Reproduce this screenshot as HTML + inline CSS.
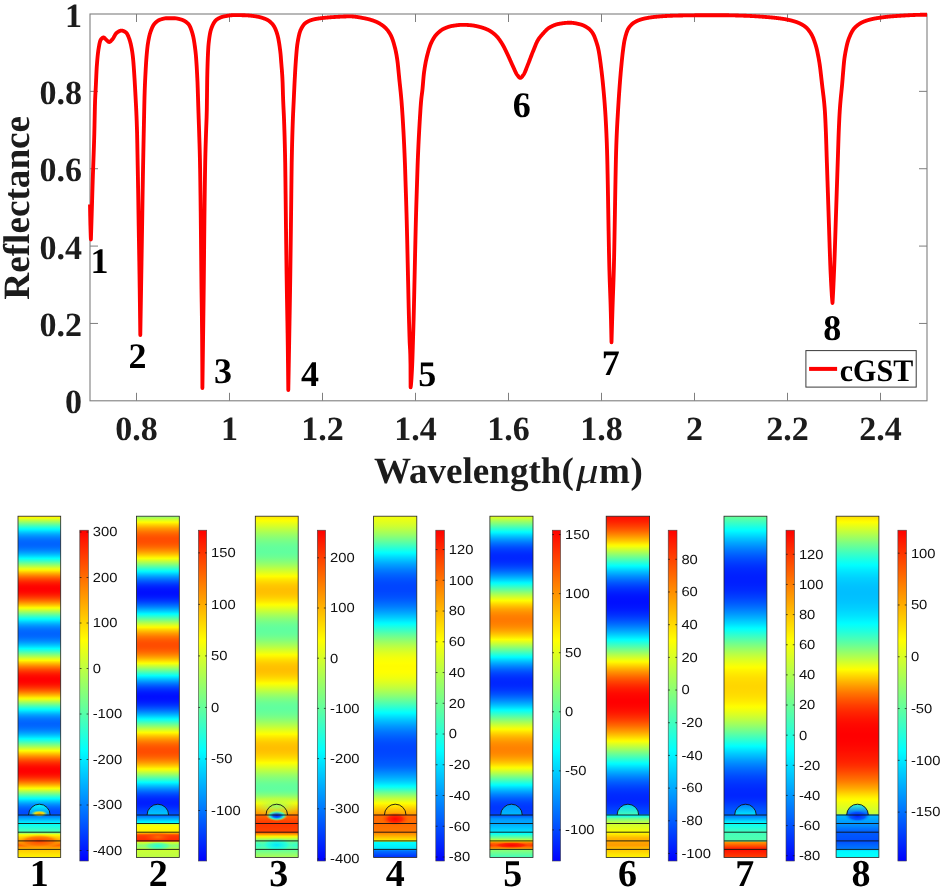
<!DOCTYPE html>
<html><head><meta charset="utf-8"><title>Reflectance and field maps</title>
<style>html,body{margin:0;padding:0;background:#fff}svg{display:block;will-change:transform}text{text-rendering:geometricPrecision}.tk{font:bold 34px "Liberation Serif", serif;fill:#1c1c1c}.al{font:bold 37.2px "Liberation Serif", serif;fill:#1c1c1c}.xl{font:bold 37.1px "Liberation Serif", serif;fill:#1c1c1c}.mu{font-style:italic;font-weight:normal}.an{font:bold 36px "Liberation Serif", serif;fill:#000}.lg{font:bold 30px "Liberation Serif", serif;fill:#000}.pl{font:bold 38px "Liberation Serif", serif;fill:#000}.cb{font:13.2px "Liberation Sans", sans-serif;fill:#111}</style></head><body>
<svg width="943" height="890" viewBox="0 0 943 890">
<rect width="943" height="890" fill="#fff"/>
<rect x="90.0" y="14.0" width="837.0" height="386.8" fill="none" stroke="#7f7f7f" stroke-width="1.1"/>
<path d="M136.50 400.8v-8M136.50 14.0v8" stroke="#7f7f7f" stroke-width="1" fill="none"/>
<text x="136.50" y="440" text-anchor="middle" class="tk">0.8</text>
<path d="M229.50 400.8v-8M229.50 14.0v8" stroke="#7f7f7f" stroke-width="1" fill="none"/>
<text x="229.50" y="440" text-anchor="middle" class="tk">1</text>
<path d="M322.50 400.8v-8M322.50 14.0v8" stroke="#7f7f7f" stroke-width="1" fill="none"/>
<text x="322.50" y="440" text-anchor="middle" class="tk">1.2</text>
<path d="M415.50 400.8v-8M415.50 14.0v8" stroke="#7f7f7f" stroke-width="1" fill="none"/>
<text x="415.50" y="440" text-anchor="middle" class="tk">1.4</text>
<path d="M508.50 400.8v-8M508.50 14.0v8" stroke="#7f7f7f" stroke-width="1" fill="none"/>
<text x="508.50" y="440" text-anchor="middle" class="tk">1.6</text>
<path d="M601.50 400.8v-8M601.50 14.0v8" stroke="#7f7f7f" stroke-width="1" fill="none"/>
<text x="601.50" y="440" text-anchor="middle" class="tk">1.8</text>
<path d="M694.50 400.8v-8M694.50 14.0v8" stroke="#7f7f7f" stroke-width="1" fill="none"/>
<text x="694.50" y="440" text-anchor="middle" class="tk">2</text>
<path d="M787.50 400.8v-8M787.50 14.0v8" stroke="#7f7f7f" stroke-width="1" fill="none"/>
<text x="787.50" y="440" text-anchor="middle" class="tk">2.2</text>
<path d="M880.50 400.8v-8M880.50 14.0v8" stroke="#7f7f7f" stroke-width="1" fill="none"/>
<text x="880.50" y="440" text-anchor="middle" class="tk">2.4</text>
<text x="81.9" y="413.30" text-anchor="end" class="tk">0</text>
<path d="M90.0 323.44h8M927.0 323.44h-8" stroke="#7f7f7f" stroke-width="1" fill="none"/>
<text x="81.9" y="335.94" text-anchor="end" class="tk">0.2</text>
<path d="M90.0 246.08h8M927.0 246.08h-8" stroke="#7f7f7f" stroke-width="1" fill="none"/>
<text x="81.9" y="258.58" text-anchor="end" class="tk">0.4</text>
<path d="M90.0 168.72h8M927.0 168.72h-8" stroke="#7f7f7f" stroke-width="1" fill="none"/>
<text x="81.9" y="181.22" text-anchor="end" class="tk">0.6</text>
<path d="M90.0 91.36h8M927.0 91.36h-8" stroke="#7f7f7f" stroke-width="1" fill="none"/>
<text x="81.9" y="103.86" text-anchor="end" class="tk">0.8</text>
<text x="81.9" y="26.50" text-anchor="end" class="tk">1</text>
<text transform="translate(29.4 207.8) rotate(-90)" text-anchor="middle" class="al">Reflectance</text>
<text x="573.8" y="482.7" text-anchor="end" class="xl">Wavelength(</text>
<text transform="translate(576.0 482.7) scale(1.22 1)" class="xl mu">μ</text>
<text x="599.0" y="482.7" class="xl" letter-spacing="0.6">m)</text>
<path d="M90.00 204.50 L90.20 215.94 L90.40 225.00 L90.60 232.00 L90.80 237.53 L90.90 239.50 L91.10 233.23 L91.30 226.89 L91.50 220.48 L91.70 214.00 L91.90 207.36 L92.10 200.57 L92.30 193.80 L92.50 187.19 L92.70 180.91 L92.90 175.03 L93.10 169.42 L93.30 163.96 L93.50 158.50 L93.70 152.91 L93.90 147.05 L94.10 140.79 L94.30 134.00 L94.50 125.65 L94.70 116.01 L94.90 106.86 L95.10 100.00 L95.30 95.66 L95.50 92.23 L95.70 88.70 L95.90 84.53 L96.10 80.04 L96.30 75.54 L96.50 71.32 L96.70 67.70 L96.90 64.85 L97.10 62.28 L97.30 59.89 L97.50 57.68 L97.70 55.64 L97.90 53.79 L98.10 52.11 L98.30 50.62 L98.50 49.30 L98.70 48.09 L98.90 46.92 L99.10 45.79 L99.30 44.72 L99.50 43.73 L99.70 42.81 L99.90 41.98 L100.10 41.26 L100.30 40.64 L100.50 40.15 L100.70 39.80 L100.90 39.52 L101.10 39.26 L101.30 39.00 L101.50 38.76 L101.70 38.54 L101.90 38.34 L102.10 38.15 L102.30 37.99 L102.50 37.84 L102.70 37.72 L102.90 37.63 L103.10 37.56 L103.30 37.51 L103.50 37.50 L103.70 37.52 L103.90 37.59 L104.10 37.69 L104.30 37.83 L104.50 37.99 L104.70 38.17 L104.90 38.37 L105.10 38.59 L105.30 38.80 L105.50 39.02 L105.70 39.24 L105.90 39.44 L106.10 39.63 L106.30 39.80 L106.50 39.97 L106.70 40.15 L106.90 40.34 L107.10 40.54 L107.30 40.74 L107.50 40.94 L107.70 41.14 L107.90 41.32 L108.10 41.49 L108.30 41.65 L108.50 41.78 L108.70 41.88 L108.90 41.96 L109.10 41.99 L109.30 42.00 L109.50 41.96 L109.70 41.90 L109.90 41.80 L110.10 41.68 L110.30 41.54 L110.50 41.38 L110.70 41.19 L110.90 41.00 L111.10 40.79 L111.30 40.57 L111.50 40.34 L111.70 40.11 L111.90 39.88 L112.10 39.65 L112.30 39.42 L112.50 39.20 L112.70 38.97 L112.90 38.70 L113.10 38.41 L113.30 38.09 L113.50 37.76 L113.70 37.41 L113.90 37.05 L114.10 36.68 L114.30 36.30 L114.50 35.93 L114.70 35.56 L114.90 35.20 L115.10 34.84 L115.30 34.50 L115.50 34.19 L115.70 33.89 L115.90 33.62 L116.10 33.38 L116.30 33.17 L116.50 33.00 L116.70 32.85 L116.90 32.70 L117.10 32.56 L117.30 32.41 L117.50 32.27 L117.70 32.13 L117.90 32.00 L118.10 31.87 L118.30 31.74 L118.50 31.62 L118.70 31.50 L118.90 31.39 L119.10 31.28 L119.30 31.18 L119.50 31.09 L119.70 31.00 L119.90 30.92 L120.10 30.85 L120.30 30.78 L120.50 30.73 L120.70 30.68 L120.90 30.65 L121.10 30.62 L121.30 30.61 L121.50 30.60 L121.70 30.60 L121.90 30.62 L122.10 30.64 L122.30 30.67 L122.50 30.72 L122.70 30.77 L122.90 30.82 L123.10 30.89 L123.30 30.96 L123.50 31.04 L123.70 31.12 L123.90 31.22 L124.10 31.32 L124.30 31.42 L124.50 31.53 L124.70 31.64 L124.90 31.76 L125.10 31.89 L125.30 32.02 L125.50 32.15 L125.70 32.29 L125.90 32.43 L126.10 32.58 L126.30 32.76 L126.50 32.98 L126.70 33.24 L126.90 33.52 L127.10 33.85 L127.30 34.20 L127.50 34.58 L127.70 34.98 L127.90 35.41 L128.10 35.86 L128.30 36.33 L128.50 36.82 L128.70 37.33 L128.90 37.85 L129.10 38.38 L129.30 38.92 L129.50 39.48 L129.70 40.08 L129.90 40.73 L130.10 41.42 L130.30 42.17 L130.50 42.96 L130.70 43.80 L130.90 44.68 L131.10 45.61 L131.30 46.60 L131.50 47.62 L131.70 48.70 L131.90 49.82 L132.10 51.00 L132.30 52.24 L132.50 53.66 L132.70 55.27 L132.90 57.05 L133.10 58.98 L133.30 61.08 L133.50 63.48 L133.70 66.13 L133.90 68.98 L134.10 71.96 L134.30 75.00 L134.50 78.12 L134.70 81.38 L134.90 84.80 L135.10 88.36 L135.30 92.08 L135.50 95.92 L135.70 99.66 L135.90 103.39 L136.10 107.26 L136.30 111.40 L136.50 115.95 L136.70 121.04 L136.90 126.82 L137.10 133.77 L137.30 143.50 L137.50 154.56 L137.70 165.34 L137.90 176.38 L138.10 188.00 L138.30 200.56 L138.50 213.62 L138.70 226.16 L138.90 238.06 L139.10 249.75 L139.30 261.69 L139.50 274.30 L139.70 288.01 L139.90 302.82 L140.10 318.54 L140.30 335.00 L140.50 323.07 L140.70 311.11 L140.90 299.10 L141.10 287.04 L141.30 274.96 L141.50 262.88 L141.70 250.77 L141.90 238.57 L142.10 226.24 L142.30 213.62 L142.50 200.56 L142.70 188.00 L142.90 176.38 L143.10 165.34 L143.30 154.76 L143.50 144.59 L143.70 134.78 L143.90 125.16 L144.10 115.23 L144.30 105.70 L144.50 97.41 L144.70 91.02 L144.90 85.72 L145.10 81.12 L145.30 76.97 L145.50 73.06 L145.70 69.33 L145.90 65.82 L146.10 62.57 L146.30 59.61 L146.50 57.00 L146.70 54.63 L146.90 52.40 L147.10 50.31 L147.30 48.38 L147.50 46.63 L147.70 45.06 L147.90 43.70 L148.10 42.47 L148.30 41.30 L148.50 40.18 L148.70 39.12 L148.90 38.12 L149.10 37.17 L149.30 36.27 L149.50 35.42 L149.70 34.61 L149.90 33.86 L150.10 33.15 L150.30 32.49 L150.50 31.88 L150.70 31.30 L150.90 30.75 L151.10 30.22 L151.30 29.71 L151.50 29.20 L151.70 28.72 L151.90 28.25 L152.10 27.80 L152.30 27.36 L152.50 26.94 L152.70 26.54 L152.90 26.16 L153.10 25.79 L153.30 25.44 L153.50 25.11 L153.70 24.79 L153.90 24.50 L154.10 24.22 L154.30 23.96 L154.50 23.72 L154.70 23.50 L154.90 23.29 L155.10 23.09 L155.30 22.89 L155.50 22.70 L155.70 22.51 L155.90 22.32 L156.10 22.15 L156.30 21.97 L156.50 21.80 L156.70 21.64 L156.90 21.48 L157.10 21.33 L157.30 21.18 L157.50 21.04 L157.70 20.90 L157.90 20.77 L158.10 20.64 L158.30 20.52 L158.50 20.41 L158.70 20.30 L158.90 20.19 L159.10 20.09 L159.30 19.99 L159.50 19.90 L159.70 19.82 L159.90 19.74 L160.10 19.67 L160.30 19.60 L160.50 19.53 L160.70 19.47 L160.90 19.41 L161.10 19.34 L161.30 19.28 L161.50 19.22 L161.70 19.16 L161.90 19.10 L162.10 19.04 L162.30 18.98 L162.50 18.92 L162.70 18.87 L162.90 18.81 L163.10 18.76 L163.30 18.71 L163.50 18.66 L163.70 18.61 L163.90 18.57 L164.10 18.53 L164.30 18.49 L164.50 18.45 L164.70 18.41 L164.90 18.38 L165.10 18.35 L165.30 18.32 L165.50 18.29 L165.70 18.27 L165.90 18.25 L166.10 18.23 L166.30 18.22 L166.50 18.21 L166.70 18.20 L166.90 18.20 L167.10 18.20 L167.30 18.20 L167.50 18.20 L167.70 18.20 L167.90 18.20 L168.10 18.20 L168.30 18.20 L168.50 18.20 L168.70 18.20 L168.90 18.20 L169.10 18.20 L169.30 18.20 L169.50 18.20 L169.70 18.20 L169.90 18.20 L170.10 18.20 L170.30 18.20 L170.50 18.20 L170.70 18.20 L170.90 18.20 L171.10 18.20 L171.30 18.20 L171.50 18.20 L171.70 18.20 L171.90 18.20 L172.10 18.20 L172.30 18.20 L172.50 18.20 L172.70 18.20 L172.90 18.20 L173.10 18.20 L173.30 18.20 L173.50 18.20 L173.70 18.20 L173.90 18.20 L174.10 18.20 L174.30 18.21 L174.50 18.22 L174.70 18.23 L174.90 18.24 L175.10 18.26 L175.30 18.28 L175.50 18.30 L175.70 18.32 L175.90 18.35 L176.10 18.37 L176.30 18.40 L176.50 18.44 L176.70 18.47 L176.90 18.50 L177.10 18.54 L177.30 18.58 L177.50 18.62 L177.70 18.66 L177.90 18.71 L178.10 18.75 L178.30 18.80 L178.50 18.84 L178.70 18.89 L178.90 18.94 L179.10 18.99 L179.30 19.04 L179.50 19.09 L179.70 19.15 L179.90 19.20 L180.10 19.25 L180.30 19.31 L180.50 19.36 L180.70 19.42 L180.90 19.47 L181.10 19.53 L181.30 19.59 L181.50 19.65 L181.70 19.71 L181.90 19.78 L182.10 19.85 L182.30 19.92 L182.50 20.00 L182.70 20.08 L182.90 20.16 L183.10 20.24 L183.30 20.33 L183.50 20.43 L183.70 20.52 L183.90 20.62 L184.10 20.73 L184.30 20.83 L184.50 20.95 L184.70 21.06 L184.90 21.18 L185.10 21.30 L185.30 21.43 L185.50 21.56 L185.70 21.70 L185.90 21.84 L186.10 21.99 L186.30 22.14 L186.50 22.29 L186.70 22.45 L186.90 22.61 L187.10 22.78 L187.30 22.96 L187.50 23.13 L187.70 23.32 L187.90 23.51 L188.10 23.70 L188.30 23.90 L188.50 24.13 L188.70 24.38 L188.90 24.66 L189.10 24.97 L189.30 25.30 L189.50 25.65 L189.70 26.03 L189.90 26.44 L190.10 26.86 L190.30 27.31 L190.50 27.79 L190.70 28.28 L190.90 28.80 L191.10 29.33 L191.30 29.89 L191.50 30.47 L191.70 31.07 L191.90 31.68 L192.10 32.32 L192.30 32.97 L192.50 33.64 L192.70 34.37 L192.90 35.15 L193.10 36.00 L193.30 36.91 L193.50 37.88 L193.70 38.92 L193.90 40.03 L194.10 41.20 L194.30 42.45 L194.50 43.77 L194.70 45.16 L194.90 46.63 L195.10 48.18 L195.30 49.81 L195.50 51.51 L195.70 53.34 L195.90 55.44 L196.10 57.84 L196.30 60.53 L196.50 63.50 L196.70 66.74 L196.90 70.23 L197.10 73.97 L197.30 77.93 L197.50 82.27 L197.70 87.67 L197.90 93.87 L198.10 100.43 L198.30 106.92 L198.50 112.98 L198.70 118.85 L198.90 124.74 L199.10 130.83 L199.30 137.15 L199.50 143.34 L199.70 149.98 L199.90 157.78 L200.10 167.96 L200.30 181.01 L200.50 195.28 L200.70 211.32 L200.90 229.45 L201.10 250.48 L201.30 271.53 L201.50 289.17 L201.70 302.75 L201.90 316.32 L202.10 334.30 L202.30 366.05 L202.40 388.00 L202.60 373.54 L202.80 358.81 L203.00 343.80 L203.20 328.70 L203.40 313.63 L203.60 297.96 L203.80 281.00 L204.00 261.21 L204.20 239.75 L204.40 220.00 L204.60 203.07 L204.80 188.00 L205.00 174.24 L205.20 162.42 L205.40 153.69 L205.60 146.56 L205.80 140.24 L206.00 134.00 L206.20 128.27 L206.40 123.17 L206.60 117.48 L206.80 110.00 L207.00 95.84 L207.20 79.10 L207.40 69.96 L207.60 63.40 L207.80 57.80 L208.00 53.09 L208.20 49.23 L208.40 46.18 L208.60 43.90 L208.80 42.05 L209.00 40.35 L209.20 38.78 L209.40 37.33 L209.60 36.01 L209.80 34.79 L210.00 33.69 L210.20 32.67 L210.40 31.75 L210.60 30.92 L210.80 30.16 L211.00 29.47 L211.20 28.84 L211.40 28.27 L211.60 27.74 L211.80 27.23 L212.00 26.74 L212.20 26.27 L212.40 25.81 L212.60 25.37 L212.80 24.94 L213.00 24.53 L213.20 24.14 L213.40 23.76 L213.60 23.39 L213.80 23.04 L214.00 22.71 L214.20 22.39 L214.40 22.08 L214.60 21.79 L214.80 21.52 L215.00 21.26 L215.20 21.01 L215.40 20.77 L215.60 20.55 L215.80 20.34 L216.00 20.15 L216.20 19.97 L216.40 19.80 L216.60 19.64 L216.80 19.50 L217.00 19.36 L217.20 19.23 L217.40 19.10 L217.60 18.98 L217.80 18.85 L218.00 18.74 L218.20 18.62 L218.40 18.51 L218.60 18.40 L218.80 18.29 L219.00 18.19 L219.20 18.08 L219.40 17.99 L219.60 17.89 L219.80 17.80 L220.00 17.71 L220.20 17.62 L220.40 17.54 L220.60 17.46 L220.80 17.38 L221.00 17.30 L221.20 17.23 L221.40 17.16 L221.60 17.09 L221.80 17.02 L222.00 16.96 L222.20 16.89 L222.40 16.84 L222.60 16.78 L222.80 16.72 L223.00 16.67 L223.20 16.62 L223.40 16.57 L223.60 16.53 L223.80 16.48 L224.00 16.44 L224.20 16.40 L224.40 16.36 L224.60 16.32 L224.80 16.28 L225.00 16.24 L225.20 16.21 L225.40 16.17 L225.60 16.13 L225.80 16.09 L226.00 16.06 L226.20 16.02 L226.40 15.98 L226.60 15.95 L226.80 15.91 L227.00 15.88 L227.20 15.84 L227.40 15.81 L227.60 15.78 L227.80 15.74 L228.00 15.71 L228.20 15.68 L228.40 15.65 L228.60 15.62 L228.80 15.59 L229.00 15.56 L229.20 15.53 L229.40 15.50 L229.60 15.48 L229.80 15.45 L230.00 15.43 L230.20 15.40 L230.40 15.38 L230.60 15.35 L230.80 15.33 L231.00 15.31 L231.20 15.29 L231.40 15.27 L231.60 15.25 L231.80 15.23 L232.00 15.22 L232.20 15.20 L232.40 15.19 L232.60 15.17 L232.80 15.16 L233.00 15.15 L233.20 15.14 L233.40 15.13 L233.60 15.12 L233.80 15.12 L234.00 15.11 L234.20 15.11 L234.40 15.10 L234.60 15.10 L234.80 15.10 L235.00 15.10 L235.20 15.10 L235.40 15.10 L235.60 15.10 L235.80 15.10 L236.00 15.10 L236.20 15.10 L236.40 15.11 L236.60 15.11 L236.80 15.11 L237.00 15.11 L237.20 15.11 L237.40 15.11 L237.60 15.12 L237.80 15.12 L238.00 15.12 L238.20 15.12 L238.40 15.13 L238.60 15.13 L238.80 15.13 L239.00 15.14 L239.20 15.14 L239.40 15.14 L239.60 15.15 L239.80 15.15 L240.00 15.16 L240.20 15.16 L240.40 15.16 L240.60 15.17 L240.80 15.17 L241.00 15.18 L241.20 15.18 L241.40 15.19 L241.60 15.19 L241.80 15.20 L242.00 15.20 L242.20 15.21 L242.40 15.21 L242.60 15.22 L242.80 15.22 L243.00 15.23 L243.20 15.23 L243.40 15.24 L243.60 15.25 L243.80 15.25 L244.00 15.26 L244.20 15.26 L244.40 15.27 L244.60 15.27 L244.80 15.28 L245.00 15.29 L245.20 15.29 L245.40 15.30 L245.60 15.31 L245.80 15.31 L246.00 15.32 L246.20 15.33 L246.40 15.34 L246.60 15.35 L246.80 15.36 L247.00 15.37 L247.20 15.39 L247.40 15.40 L247.60 15.41 L247.80 15.43 L248.00 15.44 L248.20 15.45 L248.40 15.47 L248.60 15.49 L248.80 15.50 L249.00 15.52 L249.20 15.54 L249.40 15.56 L249.60 15.58 L249.80 15.60 L250.00 15.62 L250.20 15.64 L250.40 15.66 L250.60 15.68 L250.80 15.70 L251.00 15.72 L251.20 15.75 L251.40 15.77 L251.60 15.79 L251.80 15.82 L252.00 15.84 L252.20 15.87 L252.40 15.89 L252.60 15.92 L252.80 15.94 L253.00 15.97 L253.20 16.00 L253.40 16.02 L253.60 16.05 L253.80 16.08 L254.00 16.11 L254.20 16.13 L254.40 16.16 L254.60 16.19 L254.80 16.22 L255.00 16.25 L255.20 16.28 L255.40 16.31 L255.60 16.34 L255.80 16.37 L256.00 16.40 L256.20 16.43 L256.40 16.46 L256.60 16.50 L256.80 16.53 L257.00 16.56 L257.20 16.60 L257.40 16.64 L257.60 16.67 L257.80 16.71 L258.00 16.75 L258.20 16.79 L258.40 16.84 L258.60 16.88 L258.80 16.92 L259.00 16.97 L259.20 17.01 L259.40 17.06 L259.60 17.11 L259.80 17.16 L260.00 17.21 L260.20 17.26 L260.40 17.31 L260.60 17.36 L260.80 17.42 L261.00 17.47 L261.20 17.53 L261.40 17.59 L261.60 17.64 L261.80 17.70 L262.00 17.77 L262.20 17.83 L262.40 17.89 L262.60 17.96 L262.80 18.02 L263.00 18.09 L263.20 18.16 L263.40 18.22 L263.60 18.29 L263.80 18.37 L264.00 18.44 L264.20 18.51 L264.40 18.59 L264.60 18.67 L264.80 18.74 L265.00 18.82 L265.20 18.90 L265.40 18.98 L265.60 19.07 L265.80 19.15 L266.00 19.24 L266.20 19.32 L266.40 19.41 L266.60 19.50 L266.80 19.59 L267.00 19.69 L267.20 19.79 L267.40 19.89 L267.60 20.00 L267.80 20.12 L268.00 20.24 L268.20 20.36 L268.40 20.49 L268.60 20.62 L268.80 20.76 L269.00 20.90 L269.20 21.04 L269.40 21.20 L269.60 21.35 L269.80 21.51 L270.00 21.68 L270.20 21.85 L270.40 22.03 L270.60 22.21 L270.80 22.39 L271.00 22.59 L271.20 22.78 L271.40 22.99 L271.60 23.19 L271.80 23.41 L272.00 23.62 L272.20 23.85 L272.40 24.08 L272.60 24.31 L272.80 24.55 L273.00 24.80 L273.20 25.06 L273.40 25.33 L273.60 25.62 L273.80 25.93 L274.00 26.26 L274.20 26.60 L274.40 26.97 L274.60 27.35 L274.80 27.75 L275.00 28.17 L275.20 28.60 L275.40 29.06 L275.60 29.54 L275.80 30.03 L276.00 30.55 L276.20 31.08 L276.40 31.64 L276.60 32.22 L276.80 32.81 L277.00 33.43 L277.20 34.07 L277.40 34.74 L277.60 35.46 L277.80 36.25 L278.00 37.10 L278.20 38.01 L278.40 38.99 L278.60 40.03 L278.80 41.14 L279.00 42.31 L279.20 43.55 L279.40 44.86 L279.60 46.23 L279.80 47.67 L280.00 49.18 L280.20 50.75 L280.40 52.40 L280.60 54.37 L280.80 56.76 L281.00 59.38 L281.20 62.00 L281.40 64.46 L281.60 66.82 L281.80 69.21 L282.00 71.80 L282.20 74.71 L282.40 78.09 L282.60 82.36 L282.80 88.64 L283.00 95.52 L283.20 101.27 L283.40 105.79 L283.60 109.85 L283.80 113.96 L284.00 118.67 L284.20 124.18 L284.40 130.09 L284.60 136.64 L284.80 144.08 L285.00 152.66 L285.20 162.83 L285.40 177.63 L285.60 194.11 L285.80 211.54 L286.00 228.12 L286.20 244.13 L286.40 259.58 L286.60 274.15 L286.80 287.44 L287.00 299.15 L287.20 310.09 L287.40 321.16 L287.60 333.27 L287.80 347.29 L288.00 363.32 L288.20 380.85 L288.30 390.00 L288.50 379.14 L288.70 368.14 L288.90 356.99 L289.10 345.70 L289.30 334.32 L289.50 323.06 L289.70 311.71 L289.90 299.97 L290.10 287.55 L290.30 274.15 L290.50 259.58 L290.70 244.13 L290.90 228.12 L291.10 211.54 L291.30 194.11 L291.50 177.63 L291.70 162.83 L291.90 152.66 L292.10 144.08 L292.30 136.64 L292.50 130.09 L292.70 124.18 L292.90 118.66 L293.10 113.74 L293.30 109.35 L293.50 105.22 L293.70 101.07 L293.90 96.73 L294.10 92.36 L294.30 88.05 L294.50 83.90 L294.70 80.00 L294.90 76.29 L295.10 72.66 L295.30 69.17 L295.50 65.86 L295.70 62.79 L295.90 60.00 L296.10 57.39 L296.30 54.85 L296.50 52.42 L296.70 50.14 L296.90 48.05 L297.10 46.19 L297.30 44.59 L297.50 43.26 L297.70 42.02 L297.90 40.83 L298.10 39.70 L298.30 38.62 L298.50 37.60 L298.70 36.64 L298.90 35.72 L299.10 34.86 L299.30 34.06 L299.50 33.30 L299.70 32.60 L299.90 31.96 L300.10 31.36 L300.30 30.82 L300.50 30.33 L300.70 29.88 L300.90 29.45 L301.10 29.04 L301.30 28.64 L301.50 28.25 L301.70 27.88 L301.90 27.52 L302.10 27.17 L302.30 26.83 L302.50 26.50 L302.70 26.19 L302.90 25.89 L303.10 25.60 L303.30 25.32 L303.50 25.06 L303.70 24.80 L303.90 24.56 L304.10 24.33 L304.30 24.10 L304.50 23.89 L304.70 23.69 L304.90 23.50 L305.10 23.32 L305.30 23.15 L305.50 22.99 L305.70 22.84 L305.90 22.70 L306.10 22.57 L306.30 22.43 L306.50 22.31 L306.70 22.18 L306.90 22.06 L307.10 21.94 L307.30 21.83 L307.50 21.71 L307.70 21.60 L307.90 21.50 L308.10 21.39 L308.30 21.29 L308.50 21.19 L308.70 21.10 L308.90 21.00 L309.10 20.91 L309.30 20.82 L309.50 20.74 L309.70 20.65 L309.90 20.57 L310.10 20.49 L310.30 20.42 L310.50 20.34 L310.70 20.27 L310.90 20.20 L311.10 20.13 L311.30 20.06 L311.50 20.00 L311.70 19.94 L311.90 19.88 L312.10 19.82 L312.30 19.76 L312.50 19.71 L312.70 19.65 L312.90 19.60 L313.10 19.55 L313.30 19.50 L313.50 19.45 L313.70 19.41 L313.90 19.36 L314.10 19.31 L314.30 19.27 L314.50 19.23 L314.70 19.19 L314.90 19.14 L315.10 19.10 L315.30 19.06 L315.50 19.02 L315.70 18.99 L315.90 18.95 L316.10 18.91 L316.30 18.88 L316.50 18.84 L316.70 18.81 L316.90 18.77 L317.10 18.74 L317.30 18.71 L317.50 18.67 L317.70 18.64 L317.90 18.61 L318.10 18.58 L318.30 18.55 L318.50 18.52 L318.70 18.49 L318.90 18.47 L319.10 18.44 L319.30 18.41 L319.50 18.38 L319.70 18.36 L319.90 18.33 L320.10 18.31 L320.30 18.28 L320.50 18.26 L320.70 18.23 L320.90 18.21 L321.10 18.18 L321.30 18.16 L321.50 18.14 L321.70 18.11 L321.90 18.09 L322.10 18.07 L322.30 18.04 L322.50 18.02 L322.70 18.00 L322.90 17.98 L323.10 17.95 L323.30 17.93 L323.50 17.91 L323.70 17.89 L323.90 17.87 L324.10 17.84 L324.30 17.82 L324.50 17.80 L324.70 17.78 L324.90 17.76 L325.10 17.74 L325.30 17.72 L325.50 17.70 L325.70 17.68 L325.90 17.66 L326.10 17.64 L326.30 17.62 L326.50 17.60 L326.70 17.58 L326.90 17.57 L327.10 17.55 L327.30 17.53 L327.50 17.51 L327.70 17.49 L327.90 17.47 L328.10 17.46 L328.30 17.44 L328.50 17.42 L328.70 17.40 L328.90 17.39 L329.10 17.37 L329.30 17.35 L329.50 17.34 L329.70 17.32 L329.90 17.31 L330.10 17.29 L330.30 17.28 L330.50 17.26 L330.70 17.25 L330.90 17.23 L331.10 17.22 L331.30 17.20 L331.50 17.19 L331.70 17.17 L331.90 17.16 L332.10 17.15 L332.30 17.13 L332.50 17.12 L332.70 17.11 L332.90 17.09 L333.10 17.08 L333.30 17.07 L333.50 17.06 L333.70 17.05 L333.90 17.03 L334.10 17.02 L334.30 17.01 L334.50 17.00 L334.70 16.99 L334.90 16.98 L335.10 16.97 L335.30 16.96 L335.50 16.95 L335.70 16.93 L335.90 16.92 L336.10 16.91 L336.30 16.90 L336.50 16.89 L336.70 16.88 L336.90 16.87 L337.10 16.86 L337.30 16.85 L337.50 16.84 L337.70 16.82 L337.90 16.81 L338.10 16.80 L338.30 16.79 L338.50 16.78 L338.70 16.77 L338.90 16.76 L339.10 16.75 L339.30 16.74 L339.50 16.73 L339.70 16.72 L339.90 16.71 L340.10 16.70 L340.30 16.69 L340.50 16.68 L340.70 16.67 L340.90 16.66 L341.10 16.65 L341.30 16.64 L341.50 16.63 L341.70 16.62 L341.90 16.61 L342.10 16.60 L342.30 16.59 L342.50 16.58 L342.70 16.58 L342.90 16.57 L343.10 16.56 L343.30 16.55 L343.50 16.54 L343.70 16.53 L343.90 16.53 L344.10 16.52 L344.30 16.51 L344.50 16.50 L344.70 16.50 L344.90 16.49 L345.10 16.48 L345.30 16.48 L345.50 16.47 L345.70 16.47 L345.90 16.46 L346.10 16.46 L346.30 16.45 L346.50 16.44 L346.70 16.44 L346.90 16.44 L347.10 16.43 L347.30 16.43 L347.50 16.42 L347.70 16.42 L347.90 16.42 L348.10 16.41 L348.30 16.41 L348.50 16.41 L348.70 16.41 L348.90 16.40 L349.10 16.40 L349.30 16.40 L349.50 16.40 L349.70 16.40 L349.90 16.40 L350.10 16.40 L350.30 16.40 L350.50 16.40 L350.70 16.41 L350.90 16.41 L351.10 16.42 L351.30 16.42 L351.50 16.43 L351.70 16.44 L351.90 16.45 L352.10 16.46 L352.30 16.47 L352.50 16.48 L352.70 16.49 L352.90 16.51 L353.10 16.52 L353.30 16.54 L353.50 16.56 L353.70 16.57 L353.90 16.59 L354.10 16.61 L354.30 16.63 L354.50 16.65 L354.70 16.67 L354.90 16.69 L355.10 16.72 L355.30 16.74 L355.50 16.76 L355.70 16.79 L355.90 16.81 L356.10 16.84 L356.30 16.87 L356.50 16.89 L356.70 16.92 L356.90 16.95 L357.10 16.98 L357.30 17.01 L357.50 17.04 L357.70 17.07 L357.90 17.10 L358.10 17.13 L358.30 17.16 L358.50 17.20 L358.70 17.23 L358.90 17.26 L359.10 17.30 L359.30 17.33 L359.50 17.37 L359.70 17.40 L359.90 17.44 L360.10 17.47 L360.30 17.51 L360.50 17.54 L360.70 17.58 L360.90 17.62 L361.10 17.65 L361.30 17.69 L361.50 17.73 L361.70 17.77 L361.90 17.80 L362.10 17.84 L362.30 17.88 L362.50 17.92 L362.70 17.96 L362.90 18.00 L363.10 18.03 L363.30 18.07 L363.50 18.11 L363.70 18.15 L363.90 18.19 L364.10 18.23 L364.30 18.27 L364.50 18.31 L364.70 18.35 L364.90 18.38 L365.10 18.42 L365.30 18.46 L365.50 18.50 L365.70 18.54 L365.90 18.58 L366.10 18.62 L366.30 18.66 L366.50 18.70 L366.70 18.75 L366.90 18.79 L367.10 18.84 L367.30 18.88 L367.50 18.93 L367.70 18.98 L367.90 19.02 L368.10 19.07 L368.30 19.12 L368.50 19.18 L368.70 19.23 L368.90 19.28 L369.10 19.33 L369.30 19.39 L369.50 19.44 L369.70 19.50 L369.90 19.56 L370.10 19.61 L370.30 19.67 L370.50 19.73 L370.70 19.79 L370.90 19.85 L371.10 19.92 L371.30 19.98 L371.50 20.04 L371.70 20.11 L371.90 20.17 L372.10 20.24 L372.30 20.31 L372.50 20.38 L372.70 20.44 L372.90 20.51 L373.10 20.58 L373.30 20.66 L373.50 20.73 L373.70 20.80 L373.90 20.87 L374.10 20.95 L374.30 21.03 L374.50 21.10 L374.70 21.18 L374.90 21.26 L375.10 21.34 L375.30 21.41 L375.50 21.50 L375.70 21.58 L375.90 21.66 L376.10 21.74 L376.30 21.83 L376.50 21.91 L376.70 22.00 L376.90 22.09 L377.10 22.18 L377.30 22.28 L377.50 22.37 L377.70 22.47 L377.90 22.57 L378.10 22.67 L378.30 22.77 L378.50 22.87 L378.70 22.98 L378.90 23.09 L379.10 23.20 L379.30 23.31 L379.50 23.43 L379.70 23.54 L379.90 23.66 L380.10 23.78 L380.30 23.90 L380.50 24.03 L380.70 24.16 L380.90 24.28 L381.10 24.42 L381.30 24.55 L381.50 24.68 L381.70 24.82 L381.90 24.96 L382.10 25.11 L382.30 25.25 L382.50 25.40 L382.70 25.55 L382.90 25.70 L383.10 25.85 L383.30 26.01 L383.50 26.17 L383.70 26.33 L383.90 26.49 L384.10 26.66 L384.30 26.83 L384.50 27.00 L384.70 27.17 L384.90 27.35 L385.10 27.54 L385.30 27.73 L385.50 27.92 L385.70 28.12 L385.90 28.33 L386.10 28.54 L386.30 28.75 L386.50 28.97 L386.70 29.20 L386.90 29.43 L387.10 29.67 L387.30 29.92 L387.50 30.17 L387.70 30.42 L387.90 30.69 L388.10 30.96 L388.30 31.23 L388.50 31.52 L388.70 31.81 L388.90 32.11 L389.10 32.41 L389.30 32.72 L389.50 33.04 L389.70 33.37 L389.90 33.71 L390.10 34.05 L390.30 34.40 L390.50 34.76 L390.70 35.12 L390.90 35.50 L391.10 35.89 L391.30 36.31 L391.50 36.75 L391.70 37.21 L391.90 37.70 L392.10 38.20 L392.30 38.73 L392.50 39.29 L392.70 39.86 L392.90 40.45 L393.10 41.06 L393.30 41.70 L393.50 42.35 L393.70 43.02 L393.90 43.71 L394.10 44.41 L394.30 45.14 L394.50 45.88 L394.70 46.64 L394.90 47.41 L395.10 48.20 L395.30 49.02 L395.50 49.89 L395.70 50.80 L395.90 51.76 L396.10 52.78 L396.30 53.84 L396.50 54.96 L396.70 56.14 L396.90 57.37 L397.10 58.65 L397.30 60.00 L397.50 61.47 L397.70 63.10 L397.90 64.88 L398.10 66.76 L398.30 68.74 L398.50 70.78 L398.70 72.85 L398.90 74.93 L399.10 76.99 L399.30 79.01 L399.50 80.97 L399.70 82.88 L399.90 84.75 L400.10 86.63 L400.30 88.51 L400.50 90.43 L400.70 92.40 L400.90 94.45 L401.10 96.58 L401.30 98.83 L401.50 101.21 L401.70 103.73 L401.90 106.39 L402.10 109.19 L402.30 112.12 L402.50 115.18 L402.70 118.36 L402.90 121.66 L403.10 125.06 L403.30 128.57 L403.50 132.20 L403.70 135.98 L403.90 139.92 L404.10 144.03 L404.30 148.32 L404.50 152.83 L404.70 157.55 L404.90 162.60 L405.10 168.41 L405.30 174.68 L405.50 181.00 L405.70 187.18 L405.90 193.34 L406.10 199.60 L406.30 206.06 L406.50 212.82 L406.70 220.00 L406.90 227.75 L407.10 236.07 L407.30 244.82 L407.50 253.83 L407.70 262.96 L407.90 272.07 L408.10 281.00 L408.30 290.03 L408.50 299.19 L408.70 307.94 L408.90 315.85 L409.10 323.20 L409.30 330.14 L409.50 336.77 L409.70 342.74 L409.90 346.34 L410.10 349.51 L410.30 354.75 L410.50 364.55 L410.60 387.30 L410.80 386.22 L411.00 384.47 L411.20 382.13 L411.40 379.31 L411.60 376.11 L411.80 372.62 L412.00 368.94 L412.20 364.76 L412.40 359.38 L412.60 353.18 L412.80 346.57 L413.00 340.00 L413.20 333.49 L413.40 326.71 L413.60 319.58 L413.80 312.00 L414.00 303.65 L414.20 294.63 L414.40 285.47 L414.60 276.57 L414.80 267.53 L415.00 258.39 L415.20 249.30 L415.40 240.40 L415.60 231.85 L415.80 223.80 L416.00 216.35 L416.20 209.40 L416.40 202.80 L416.60 196.45 L416.80 190.25 L417.00 184.10 L417.20 177.86 L417.40 171.51 L417.60 165.42 L417.80 160.00 L418.00 155.16 L418.20 150.55 L418.40 146.15 L418.60 141.95 L418.80 137.93 L419.00 134.07 L419.20 130.37 L419.40 126.80 L419.60 123.35 L419.80 120.00 L420.00 116.72 L420.20 113.52 L420.40 110.43 L420.60 107.49 L420.80 104.75 L421.00 102.24 L421.20 100.00 L421.40 98.07 L421.60 96.39 L421.80 94.84 L422.00 93.34 L422.20 91.76 L422.40 90.00 L422.60 87.97 L422.80 85.71 L423.00 83.32 L423.20 80.89 L423.40 78.54 L423.60 76.35 L423.80 74.43 L424.00 72.83 L424.20 71.35 L424.40 69.93 L424.60 68.58 L424.80 67.30 L425.00 66.07 L425.20 64.90 L425.40 63.79 L425.60 62.72 L425.80 61.70 L426.00 60.72 L426.20 59.78 L426.40 58.87 L426.60 58.00 L426.80 57.15 L427.00 56.32 L427.20 55.50 L427.40 54.70 L427.60 53.91 L427.80 53.14 L428.00 52.39 L428.20 51.66 L428.40 50.94 L428.60 50.25 L428.80 49.57 L429.00 48.90 L429.20 48.26 L429.40 47.64 L429.60 47.03 L429.80 46.45 L430.00 45.88 L430.20 45.33 L430.40 44.80 L430.60 44.30 L430.80 43.81 L431.00 43.34 L431.20 42.90 L431.40 42.47 L431.60 42.05 L431.80 41.64 L432.00 41.23 L432.20 40.84 L432.40 40.45 L432.60 40.08 L432.80 39.71 L433.00 39.35 L433.20 39.00 L433.40 38.65 L433.60 38.32 L433.80 37.99 L434.00 37.68 L434.20 37.37 L434.40 37.07 L434.60 36.77 L434.80 36.49 L435.00 36.21 L435.20 35.95 L435.40 35.69 L435.60 35.43 L435.80 35.19 L436.00 34.96 L436.20 34.73 L436.40 34.51 L436.60 34.29 L436.80 34.09 L437.00 33.88 L437.20 33.68 L437.40 33.48 L437.60 33.28 L437.80 33.08 L438.00 32.89 L438.20 32.71 L438.40 32.52 L438.60 32.34 L438.80 32.16 L439.00 31.99 L439.20 31.81 L439.40 31.64 L439.60 31.48 L439.80 31.32 L440.00 31.16 L440.20 31.00 L440.40 30.85 L440.60 30.70 L440.80 30.55 L441.00 30.41 L441.20 30.27 L441.40 30.13 L441.60 30.00 L441.80 29.87 L442.00 29.74 L442.20 29.61 L442.40 29.49 L442.60 29.38 L442.80 29.26 L443.00 29.15 L443.20 29.05 L443.40 28.94 L443.60 28.84 L443.80 28.75 L444.00 28.65 L444.20 28.56 L444.40 28.47 L444.60 28.38 L444.80 28.29 L445.00 28.20 L445.20 28.12 L445.40 28.03 L445.60 27.95 L445.80 27.86 L446.00 27.78 L446.20 27.70 L446.40 27.62 L446.60 27.54 L446.80 27.46 L447.00 27.39 L447.20 27.31 L447.40 27.24 L447.60 27.17 L447.80 27.10 L448.00 27.03 L448.20 26.96 L448.40 26.89 L448.60 26.83 L448.80 26.76 L449.00 26.70 L449.20 26.64 L449.40 26.58 L449.60 26.53 L449.80 26.47 L450.00 26.42 L450.20 26.36 L450.40 26.31 L450.60 26.26 L450.80 26.22 L451.00 26.17 L451.20 26.13 L451.40 26.08 L451.60 26.04 L451.80 26.00 L452.00 25.97 L452.20 25.93 L452.40 25.90 L452.60 25.87 L452.80 25.84 L453.00 25.80 L453.20 25.77 L453.40 25.74 L453.60 25.71 L453.80 25.68 L454.00 25.65 L454.20 25.62 L454.40 25.59 L454.60 25.56 L454.80 25.53 L455.00 25.50 L455.20 25.47 L455.40 25.44 L455.60 25.41 L455.80 25.38 L456.00 25.35 L456.20 25.33 L456.40 25.30 L456.60 25.27 L456.80 25.25 L457.00 25.22 L457.20 25.20 L457.40 25.17 L457.60 25.15 L457.80 25.13 L458.00 25.10 L458.20 25.08 L458.40 25.06 L458.60 25.04 L458.80 25.02 L459.00 25.00 L459.20 24.98 L459.40 24.96 L459.60 24.95 L459.80 24.93 L460.00 24.92 L460.20 24.90 L460.40 24.89 L460.60 24.88 L460.80 24.86 L461.00 24.85 L461.20 24.84 L461.40 24.83 L461.60 24.83 L461.80 24.82 L462.00 24.81 L462.20 24.81 L462.40 24.81 L462.60 24.80 L462.80 24.80 L463.00 24.80 L463.20 24.80 L463.40 24.80 L463.60 24.80 L463.80 24.81 L464.00 24.81 L464.20 24.81 L464.40 24.82 L464.60 24.82 L464.80 24.83 L465.00 24.84 L465.20 24.84 L465.40 24.85 L465.60 24.86 L465.80 24.87 L466.00 24.88 L466.20 24.89 L466.40 24.90 L466.60 24.91 L466.80 24.93 L467.00 24.94 L467.20 24.95 L467.40 24.96 L467.60 24.98 L467.80 24.99 L468.00 25.01 L468.20 25.02 L468.40 25.04 L468.60 25.05 L468.80 25.07 L469.00 25.08 L469.20 25.10 L469.40 25.12 L469.60 25.13 L469.80 25.15 L470.00 25.17 L470.20 25.18 L470.40 25.20 L470.60 25.22 L470.80 25.24 L471.00 25.25 L471.20 25.27 L471.40 25.29 L471.60 25.31 L471.80 25.33 L472.00 25.35 L472.20 25.37 L472.40 25.40 L472.60 25.42 L472.80 25.45 L473.00 25.48 L473.20 25.51 L473.40 25.54 L473.60 25.57 L473.80 25.60 L474.00 25.63 L474.20 25.67 L474.40 25.70 L474.60 25.74 L474.80 25.78 L475.00 25.82 L475.20 25.86 L475.40 25.90 L475.60 25.94 L475.80 25.98 L476.00 26.03 L476.20 26.07 L476.40 26.11 L476.60 26.16 L476.80 26.21 L477.00 26.25 L477.20 26.30 L477.40 26.35 L477.60 26.39 L477.80 26.44 L478.00 26.49 L478.20 26.54 L478.40 26.59 L478.60 26.64 L478.80 26.69 L479.00 26.74 L479.20 26.79 L479.40 26.85 L479.60 26.90 L479.80 26.95 L480.00 27.00 L480.20 27.05 L480.40 27.10 L480.60 27.16 L480.80 27.21 L481.00 27.27 L481.20 27.33 L481.40 27.38 L481.60 27.44 L481.80 27.50 L482.00 27.56 L482.20 27.62 L482.40 27.68 L482.60 27.75 L482.80 27.81 L483.00 27.87 L483.20 27.94 L483.40 28.01 L483.60 28.08 L483.80 28.14 L484.00 28.21 L484.20 28.29 L484.40 28.36 L484.60 28.43 L484.80 28.51 L485.00 28.58 L485.20 28.66 L485.40 28.74 L485.60 28.82 L485.80 28.90 L486.00 28.98 L486.20 29.06 L486.40 29.14 L486.60 29.23 L486.80 29.31 L487.00 29.40 L487.20 29.49 L487.40 29.58 L487.60 29.67 L487.80 29.77 L488.00 29.86 L488.20 29.95 L488.40 30.05 L488.60 30.15 L488.80 30.25 L489.00 30.35 L489.20 30.46 L489.40 30.57 L489.60 30.68 L489.80 30.80 L490.00 30.91 L490.20 31.03 L490.40 31.15 L490.60 31.28 L490.80 31.41 L491.00 31.54 L491.20 31.67 L491.40 31.81 L491.60 31.94 L491.80 32.09 L492.00 32.23 L492.20 32.37 L492.40 32.52 L492.60 32.67 L492.80 32.83 L493.00 32.98 L493.20 33.14 L493.40 33.30 L493.60 33.46 L493.80 33.63 L494.00 33.79 L494.20 33.96 L494.40 34.14 L494.60 34.31 L494.80 34.49 L495.00 34.67 L495.20 34.85 L495.40 35.03 L495.60 35.22 L495.80 35.41 L496.00 35.60 L496.20 35.79 L496.40 35.99 L496.60 36.20 L496.80 36.42 L497.00 36.64 L497.20 36.86 L497.40 37.10 L497.60 37.33 L497.80 37.57 L498.00 37.82 L498.20 38.07 L498.40 38.33 L498.60 38.59 L498.80 38.85 L499.00 39.12 L499.20 39.40 L499.40 39.68 L499.60 39.96 L499.80 40.24 L500.00 40.53 L500.20 40.82 L500.40 41.12 L500.60 41.42 L500.80 41.72 L501.00 42.02 L501.20 42.33 L501.40 42.64 L501.60 42.95 L501.80 43.27 L502.00 43.58 L502.20 43.90 L502.40 44.22 L502.60 44.56 L502.80 44.90 L503.00 45.25 L503.20 45.60 L503.40 45.97 L503.60 46.34 L503.80 46.71 L504.00 47.09 L504.20 47.48 L504.40 47.87 L504.60 48.27 L504.80 48.67 L505.00 49.08 L505.20 49.49 L505.40 49.90 L505.60 50.31 L505.80 50.73 L506.00 51.15 L506.20 51.56 L506.40 51.98 L506.60 52.40 L506.80 52.83 L507.00 53.25 L507.20 53.67 L507.40 54.08 L507.60 54.50 L507.80 54.92 L508.00 55.34 L508.20 55.77 L508.40 56.20 L508.60 56.64 L508.80 57.08 L509.00 57.52 L509.20 57.96 L509.40 58.41 L509.60 58.86 L509.80 59.31 L510.00 59.76 L510.20 60.22 L510.40 60.67 L510.60 61.12 L510.80 61.58 L511.00 62.03 L511.20 62.48 L511.40 62.93 L511.60 63.37 L511.80 63.82 L512.00 64.26 L512.20 64.70 L512.40 65.13 L512.60 65.56 L512.80 65.99 L513.00 66.41 L513.20 66.84 L513.40 67.28 L513.60 67.73 L513.80 68.18 L514.00 68.63 L514.20 69.08 L514.40 69.53 L514.60 69.98 L514.80 70.43 L515.00 70.86 L515.20 71.30 L515.40 71.72 L515.60 72.13 L515.80 72.53 L516.00 72.91 L516.20 73.28 L516.40 73.63 L516.60 73.97 L516.80 74.28 L517.00 74.57 L517.20 74.83 L517.40 75.10 L517.60 75.38 L517.80 75.66 L518.00 75.93 L518.20 76.20 L518.40 76.46 L518.60 76.71 L518.80 76.94 L519.00 77.16 L519.20 77.35 L519.40 77.52 L519.60 77.67 L519.80 77.78 L520.00 77.85 L520.20 77.89 L520.40 77.89 L520.60 77.86 L520.80 77.78 L521.00 77.67 L521.20 77.53 L521.40 77.36 L521.60 77.17 L521.80 76.96 L522.00 76.73 L522.20 76.48 L522.40 76.22 L522.60 75.95 L522.80 75.68 L523.00 75.40 L523.20 75.12 L523.40 74.84 L523.60 74.56 L523.80 74.25 L524.00 73.92 L524.20 73.56 L524.40 73.17 L524.60 72.76 L524.80 72.34 L525.00 71.89 L525.20 71.42 L525.40 70.94 L525.60 70.45 L525.80 69.95 L526.00 69.44 L526.20 68.93 L526.40 68.41 L526.60 67.89 L526.80 67.37 L527.00 66.85 L527.20 66.34 L527.40 65.84 L527.60 65.34 L527.80 64.86 L528.00 64.37 L528.20 63.87 L528.40 63.36 L528.60 62.85 L528.80 62.34 L529.00 61.82 L529.20 61.30 L529.40 60.77 L529.60 60.25 L529.80 59.72 L530.00 59.18 L530.20 58.65 L530.40 58.12 L530.60 57.58 L530.80 57.05 L531.00 56.52 L531.20 55.99 L531.40 55.46 L531.60 54.94 L531.80 54.42 L532.00 53.90 L532.20 53.39 L532.40 52.88 L532.60 52.38 L532.80 51.89 L533.00 51.40 L533.20 50.91 L533.40 50.42 L533.60 49.93 L533.80 49.43 L534.00 48.93 L534.20 48.43 L534.40 47.93 L534.60 47.43 L534.80 46.93 L535.00 46.43 L535.20 45.94 L535.40 45.46 L535.60 44.98 L535.80 44.50 L536.00 44.04 L536.20 43.58 L536.40 43.13 L536.60 42.69 L536.80 42.27 L537.00 41.85 L537.20 41.45 L537.40 41.06 L537.60 40.69 L537.80 40.34 L538.00 40.00 L538.20 39.68 L538.40 39.36 L538.60 39.05 L538.80 38.75 L539.00 38.46 L539.20 38.18 L539.40 37.90 L539.60 37.63 L539.80 37.36 L540.00 37.10 L540.20 36.85 L540.40 36.60 L540.60 36.36 L540.80 36.11 L541.00 35.88 L541.20 35.64 L541.40 35.41 L541.60 35.19 L541.80 34.96 L542.00 34.73 L542.20 34.51 L542.40 34.29 L542.60 34.07 L542.80 33.84 L543.00 33.62 L543.20 33.40 L543.40 33.17 L543.60 32.95 L543.80 32.73 L544.00 32.51 L544.20 32.29 L544.40 32.07 L544.60 31.85 L544.80 31.63 L545.00 31.42 L545.20 31.21 L545.40 31.00 L545.60 30.79 L545.80 30.58 L546.00 30.38 L546.20 30.18 L546.40 29.99 L546.60 29.79 L546.80 29.61 L547.00 29.42 L547.20 29.24 L547.40 29.06 L547.60 28.89 L547.80 28.72 L548.00 28.56 L548.20 28.40 L548.40 28.25 L548.60 28.10 L548.80 27.96 L549.00 27.83 L549.20 27.70 L549.40 27.57 L549.60 27.46 L549.80 27.35 L550.00 27.24 L550.20 27.13 L550.40 27.02 L550.60 26.92 L550.80 26.81 L551.00 26.71 L551.20 26.61 L551.40 26.51 L551.60 26.41 L551.80 26.31 L552.00 26.21 L552.20 26.12 L552.40 26.02 L552.60 25.93 L552.80 25.84 L553.00 25.75 L553.20 25.66 L553.40 25.57 L553.60 25.49 L553.80 25.40 L554.00 25.32 L554.20 25.24 L554.40 25.16 L554.60 25.08 L554.80 25.01 L555.00 24.93 L555.20 24.86 L555.40 24.79 L555.60 24.72 L555.80 24.65 L556.00 24.59 L556.20 24.52 L556.40 24.46 L556.60 24.40 L556.80 24.34 L557.00 24.29 L557.20 24.23 L557.40 24.18 L557.60 24.13 L557.80 24.08 L558.00 24.04 L558.20 23.99 L558.40 23.95 L558.60 23.91 L558.80 23.87 L559.00 23.83 L559.20 23.80 L559.40 23.77 L559.60 23.73 L559.80 23.70 L560.00 23.67 L560.20 23.64 L560.40 23.61 L560.60 23.57 L560.80 23.54 L561.00 23.51 L561.20 23.48 L561.40 23.45 L561.60 23.42 L561.80 23.39 L562.00 23.36 L562.20 23.33 L562.40 23.30 L562.60 23.27 L562.80 23.25 L563.00 23.22 L563.20 23.19 L563.40 23.17 L563.60 23.14 L563.80 23.12 L564.00 23.09 L564.20 23.07 L564.40 23.04 L564.60 23.02 L564.80 23.00 L565.00 22.98 L565.20 22.96 L565.40 22.94 L565.60 22.92 L565.80 22.90 L566.00 22.88 L566.20 22.86 L566.40 22.84 L566.60 22.83 L566.80 22.81 L567.00 22.80 L567.20 22.79 L567.40 22.77 L567.60 22.76 L567.80 22.75 L568.00 22.74 L568.20 22.73 L568.40 22.73 L568.60 22.72 L568.80 22.71 L569.00 22.71 L569.20 22.70 L569.40 22.70 L569.60 22.70 L569.80 22.70 L570.00 22.70 L570.20 22.70 L570.40 22.71 L570.60 22.71 L570.80 22.72 L571.00 22.73 L571.20 22.74 L571.40 22.75 L571.60 22.77 L571.80 22.78 L572.00 22.80 L572.20 22.82 L572.40 22.84 L572.60 22.86 L572.80 22.88 L573.00 22.90 L573.20 22.93 L573.40 22.96 L573.60 22.98 L573.80 23.01 L574.00 23.04 L574.20 23.07 L574.40 23.10 L574.60 23.14 L574.80 23.17 L575.00 23.20 L575.20 23.24 L575.40 23.28 L575.60 23.31 L575.80 23.35 L576.00 23.39 L576.20 23.43 L576.40 23.47 L576.60 23.51 L576.80 23.56 L577.00 23.60 L577.20 23.64 L577.40 23.69 L577.60 23.73 L577.80 23.78 L578.00 23.82 L578.20 23.87 L578.40 23.92 L578.60 23.96 L578.80 24.01 L579.00 24.06 L579.20 24.11 L579.40 24.15 L579.60 24.20 L579.80 24.25 L580.00 24.30 L580.20 24.35 L580.40 24.40 L580.60 24.45 L580.80 24.50 L581.00 24.56 L581.20 24.62 L581.40 24.68 L581.60 24.75 L581.80 24.81 L582.00 24.88 L582.20 24.96 L582.40 25.03 L582.60 25.11 L582.80 25.19 L583.00 25.27 L583.20 25.36 L583.40 25.44 L583.60 25.53 L583.80 25.63 L584.00 25.72 L584.20 25.82 L584.40 25.92 L584.60 26.02 L584.80 26.12 L585.00 26.23 L585.20 26.34 L585.40 26.45 L585.60 26.56 L585.80 26.67 L586.00 26.79 L586.20 26.91 L586.40 27.03 L586.60 27.15 L586.80 27.28 L587.00 27.41 L587.20 27.53 L587.40 27.67 L587.60 27.80 L587.80 27.93 L588.00 28.07 L588.20 28.21 L588.40 28.36 L588.60 28.51 L588.80 28.67 L589.00 28.84 L589.20 29.01 L589.40 29.19 L589.60 29.37 L589.80 29.56 L590.00 29.76 L590.20 29.97 L590.40 30.18 L590.60 30.40 L590.80 30.62 L591.00 30.86 L591.20 31.10 L591.40 31.35 L591.60 31.60 L591.80 31.87 L592.00 32.14 L592.20 32.42 L592.40 32.70 L592.60 33.00 L592.80 33.31 L593.00 33.65 L593.20 34.00 L593.40 34.38 L593.60 34.78 L593.80 35.20 L594.00 35.64 L594.20 36.10 L594.40 36.57 L594.60 37.06 L594.80 37.57 L595.00 38.09 L595.20 38.63 L595.40 39.18 L595.60 39.75 L595.80 40.32 L596.00 40.91 L596.20 41.51 L596.40 42.12 L596.60 42.74 L596.80 43.37 L597.00 44.00 L597.20 44.66 L597.40 45.35 L597.60 46.08 L597.80 46.85 L598.00 47.66 L598.20 48.52 L598.40 49.44 L598.60 50.40 L598.80 51.43 L599.00 52.54 L599.20 53.71 L599.40 54.96 L599.60 56.26 L599.80 57.62 L600.00 59.03 L600.20 60.48 L600.40 61.98 L600.60 63.51 L600.80 65.07 L601.00 66.65 L601.20 68.26 L601.40 69.88 L601.60 71.52 L601.80 73.22 L602.00 74.97 L602.20 76.77 L602.40 78.64 L602.60 80.55 L602.80 82.52 L603.00 84.54 L603.20 86.61 L603.40 88.73 L603.60 90.90 L603.80 93.11 L604.00 95.38 L604.20 97.72 L604.40 100.14 L604.60 102.66 L604.80 105.30 L605.00 108.07 L605.20 111.00 L605.40 114.11 L605.60 117.44 L605.80 121.00 L606.00 124.80 L606.20 128.87 L606.40 133.19 L606.60 137.81 L606.80 142.92 L607.00 148.75 L607.20 155.64 L607.40 164.22 L607.60 174.08 L607.80 184.64 L608.00 195.65 L608.20 208.00 L608.40 220.00 L608.60 231.19 L608.80 242.21 L609.00 252.60 L609.20 261.90 L609.40 269.73 L609.60 276.42 L609.80 282.33 L610.00 287.80 L610.20 293.16 L610.40 298.73 L610.60 304.85 L610.80 311.84 L611.00 319.77 L611.20 328.42 L611.40 337.59 L611.50 342.30 L611.70 335.26 L611.90 328.33 L612.10 321.53 L612.30 314.88 L612.50 308.41 L612.70 302.40 L612.90 296.77 L613.10 291.28 L613.30 285.69 L613.50 279.77 L613.70 273.29 L613.90 266.00 L614.10 257.42 L614.30 247.51 L614.50 236.75 L614.70 225.59 L614.90 214.18 L615.10 201.74 L615.30 190.00 L615.50 179.31 L615.70 169.03 L615.90 159.74 L616.10 152.00 L616.30 145.73 L616.50 140.29 L616.70 135.45 L616.90 131.00 L617.10 126.85 L617.30 123.03 L617.50 119.44 L617.70 116.02 L617.90 112.67 L618.10 109.33 L618.30 106.05 L618.50 102.85 L618.70 99.72 L618.90 96.68 L619.10 93.74 L619.30 90.90 L619.50 88.14 L619.70 85.43 L619.90 82.79 L620.10 80.21 L620.30 77.71 L620.50 75.29 L620.70 72.95 L620.90 70.70 L621.10 68.51 L621.30 66.36 L621.50 64.25 L621.70 62.18 L621.90 60.17 L622.10 58.23 L622.30 56.35 L622.50 54.54 L622.70 52.82 L622.90 51.18 L623.10 49.63 L623.30 48.11 L623.50 46.63 L623.70 45.21 L623.90 43.87 L624.10 42.61 L624.30 41.47 L624.50 40.45 L624.70 39.57 L624.90 38.73 L625.10 37.91 L625.30 37.12 L625.50 36.35 L625.70 35.61 L625.90 34.90 L626.10 34.22 L626.30 33.56 L626.50 32.94 L626.70 32.34 L626.90 31.77 L627.10 31.24 L627.30 30.73 L627.50 30.25 L627.70 29.81 L627.90 29.39 L628.10 29.01 L628.30 28.66 L628.50 28.34 L628.70 28.04 L628.90 27.74 L629.10 27.45 L629.30 27.17 L629.50 26.89 L629.70 26.63 L629.90 26.37 L630.10 26.12 L630.30 25.88 L630.50 25.65 L630.70 25.43 L630.90 25.21 L631.10 25.00 L631.30 24.79 L631.50 24.59 L631.70 24.40 L631.90 24.22 L632.10 24.04 L632.30 23.86 L632.50 23.70 L632.70 23.53 L632.90 23.38 L633.10 23.23 L633.30 23.08 L633.50 22.94 L633.70 22.80 L633.90 22.67 L634.10 22.54 L634.30 22.42 L634.50 22.30 L634.70 22.18 L634.90 22.07 L635.10 21.96 L635.30 21.85 L635.50 21.74 L635.70 21.63 L635.90 21.53 L636.10 21.42 L636.30 21.32 L636.50 21.22 L636.70 21.13 L636.90 21.03 L637.10 20.94 L637.30 20.84 L637.50 20.75 L637.70 20.67 L637.90 20.58 L638.10 20.49 L638.30 20.41 L638.50 20.33 L638.70 20.25 L638.90 20.17 L639.10 20.10 L639.30 20.02 L639.50 19.95 L639.70 19.88 L639.90 19.81 L640.10 19.74 L640.30 19.67 L640.50 19.60 L640.70 19.54 L640.90 19.48 L641.10 19.42 L641.30 19.36 L641.50 19.30 L641.70 19.24 L641.90 19.18 L642.10 19.13 L642.30 19.08 L642.50 19.02 L642.70 18.97 L642.90 18.92 L643.10 18.88 L643.30 18.83 L643.50 18.78 L643.70 18.73 L643.90 18.69 L644.10 18.64 L644.30 18.60 L644.50 18.55 L644.70 18.51 L644.90 18.47 L645.10 18.42 L645.30 18.38 L645.50 18.34 L645.70 18.30 L645.90 18.25 L646.10 18.21 L646.30 18.17 L646.50 18.13 L646.70 18.09 L646.90 18.06 L647.10 18.02 L647.30 17.98 L647.50 17.94 L647.70 17.91 L647.90 17.87 L648.10 17.83 L648.30 17.80 L648.50 17.76 L648.70 17.73 L648.90 17.69 L649.10 17.66 L649.30 17.63 L649.50 17.59 L649.70 17.56 L649.90 17.53 L650.10 17.50 L650.30 17.47 L650.50 17.44 L650.70 17.41 L650.90 17.38 L651.10 17.35 L651.30 17.32 L651.50 17.29 L651.70 17.26 L651.90 17.24 L652.10 17.21 L652.30 17.18 L652.50 17.16 L652.70 17.13 L652.90 17.11 L653.10 17.08 L653.30 17.06 L653.50 17.03 L653.70 17.01 L653.90 16.99 L654.10 16.97 L654.30 16.94 L654.50 16.92 L654.70 16.90 L654.90 16.88 L655.10 16.86 L655.30 16.84 L655.50 16.82 L655.70 16.80 L655.90 16.78 L656.10 16.76 L656.30 16.74 L656.50 16.72 L656.70 16.71 L656.90 16.69 L657.10 16.67 L657.30 16.65 L657.50 16.63 L657.70 16.62 L657.90 16.60 L658.10 16.58 L658.30 16.56 L658.50 16.55 L658.70 16.53 L658.90 16.51 L659.10 16.50 L659.30 16.48 L659.50 16.46 L659.70 16.45 L659.90 16.43 L660.10 16.41 L660.30 16.40 L660.50 16.38 L660.70 16.36 L660.90 16.35 L661.10 16.33 L661.30 16.32 L661.50 16.30 L661.70 16.29 L661.90 16.27 L662.10 16.26 L662.30 16.24 L662.50 16.23 L662.70 16.21 L662.90 16.20 L663.10 16.19 L663.30 16.17 L663.50 16.16 L663.70 16.14 L663.90 16.13 L664.10 16.12 L664.30 16.10 L664.50 16.09 L664.70 16.08 L664.90 16.07 L665.10 16.05 L665.30 16.04 L665.50 16.03 L665.70 16.02 L665.90 16.01 L666.10 15.99 L666.30 15.98 L666.50 15.97 L666.70 15.96 L666.90 15.95 L667.10 15.94 L667.30 15.93 L667.50 15.92 L667.70 15.91 L667.90 15.89 L668.10 15.88 L668.30 15.87 L668.50 15.87 L668.70 15.86 L668.90 15.85 L669.10 15.84 L669.30 15.83 L669.50 15.82 L669.70 15.81 L669.90 15.80 L670.10 15.79 L670.30 15.78 L670.50 15.78 L670.70 15.77 L670.90 15.76 L671.10 15.75 L671.30 15.75 L671.50 15.74 L671.70 15.73 L671.90 15.73 L672.10 15.72 L672.30 15.71 L672.50 15.71 L672.70 15.70 L672.90 15.69 L673.10 15.69 L673.30 15.68 L673.50 15.68 L673.70 15.67 L673.90 15.66 L674.10 15.66 L674.30 15.65 L674.50 15.65 L674.70 15.64 L674.90 15.64 L675.10 15.63 L675.30 15.63 L675.50 15.62 L675.70 15.61 L675.90 15.61 L676.10 15.60 L676.30 15.60 L676.50 15.59 L676.70 15.59 L676.90 15.58 L677.10 15.58 L677.30 15.57 L677.50 15.57 L677.70 15.56 L677.90 15.56 L678.10 15.55 L678.30 15.55 L678.50 15.54 L678.70 15.54 L678.90 15.53 L679.10 15.53 L679.30 15.52 L679.50 15.52 L679.70 15.51 L679.90 15.51 L680.10 15.51 L680.30 15.50 L680.50 15.50 L680.70 15.49 L680.90 15.49 L681.10 15.48 L681.30 15.48 L681.50 15.47 L681.70 15.47 L681.90 15.47 L682.10 15.46 L682.30 15.46 L682.50 15.45 L682.70 15.45 L682.90 15.45 L683.10 15.44 L683.30 15.44 L683.50 15.43 L683.70 15.43 L683.90 15.43 L684.10 15.42 L684.30 15.42 L684.50 15.42 L684.70 15.41 L684.90 15.41 L685.10 15.41 L685.30 15.40 L685.50 15.40 L685.70 15.40 L685.90 15.39 L686.10 15.39 L686.30 15.39 L686.50 15.38 L686.70 15.38 L686.90 15.38 L687.10 15.37 L687.30 15.37 L687.50 15.37 L687.70 15.36 L687.90 15.36 L688.10 15.36 L688.30 15.36 L688.50 15.35 L688.70 15.35 L688.90 15.35 L689.10 15.35 L689.30 15.34 L689.50 15.34 L689.70 15.34 L689.90 15.34 L690.10 15.33 L690.30 15.33 L690.50 15.33 L690.70 15.33 L690.90 15.33 L691.10 15.32 L691.30 15.32 L691.50 15.32 L691.70 15.32 L691.90 15.32 L692.10 15.31 L692.30 15.31 L692.50 15.31 L692.70 15.31 L692.90 15.31 L693.10 15.31 L693.30 15.30 L693.50 15.30 L693.70 15.30 L693.90 15.30 L694.10 15.30 L694.30 15.30 L694.50 15.30 L694.70 15.29 L694.90 15.29 L695.10 15.29 L695.30 15.29 L695.50 15.29 L695.70 15.29 L695.90 15.29 L696.10 15.29 L696.30 15.28 L696.50 15.28 L696.70 15.28 L696.90 15.28 L697.10 15.28 L697.30 15.28 L697.50 15.28 L697.70 15.28 L697.90 15.27 L698.10 15.27 L698.30 15.27 L698.50 15.27 L698.70 15.27 L698.90 15.27 L699.10 15.27 L699.30 15.27 L699.50 15.27 L699.70 15.26 L699.90 15.26 L700.10 15.26 L700.30 15.26 L700.50 15.26 L700.70 15.26 L700.90 15.26 L701.10 15.26 L701.30 15.26 L701.50 15.25 L701.70 15.25 L701.90 15.25 L702.10 15.25 L702.30 15.25 L702.50 15.25 L702.70 15.25 L702.90 15.25 L703.10 15.25 L703.30 15.25 L703.50 15.24 L703.70 15.24 L703.90 15.24 L704.10 15.24 L704.30 15.24 L704.50 15.24 L704.70 15.24 L704.90 15.24 L705.10 15.24 L705.30 15.24 L705.50 15.23 L705.70 15.23 L705.90 15.23 L706.10 15.23 L706.30 15.23 L706.50 15.23 L706.70 15.23 L706.90 15.23 L707.10 15.23 L707.30 15.23 L707.50 15.23 L707.70 15.23 L707.90 15.22 L708.10 15.22 L708.30 15.22 L708.50 15.22 L708.70 15.22 L708.90 15.22 L709.10 15.22 L709.30 15.22 L709.50 15.22 L709.70 15.22 L709.90 15.22 L710.10 15.22 L710.30 15.22 L710.50 15.22 L710.70 15.22 L710.90 15.21 L711.10 15.21 L711.30 15.21 L711.50 15.21 L711.70 15.21 L711.90 15.21 L712.10 15.21 L712.30 15.21 L712.50 15.21 L712.70 15.21 L712.90 15.21 L713.10 15.21 L713.30 15.21 L713.50 15.21 L713.70 15.21 L713.90 15.21 L714.10 15.21 L714.30 15.21 L714.50 15.21 L714.70 15.21 L714.90 15.20 L715.10 15.20 L715.30 15.20 L715.50 15.20 L715.70 15.20 L715.90 15.20 L716.10 15.20 L716.30 15.20 L716.50 15.20 L716.70 15.20 L716.90 15.20 L717.10 15.20 L717.30 15.20 L717.50 15.20 L717.70 15.20 L717.90 15.20 L718.10 15.20 L718.30 15.20 L718.50 15.20 L718.70 15.20 L718.90 15.20 L719.10 15.20 L719.30 15.20 L719.50 15.20 L719.70 15.20 L719.90 15.20 L720.10 15.20 L720.30 15.20 L720.50 15.20 L720.70 15.20 L720.90 15.20 L721.10 15.20 L721.30 15.20 L721.50 15.20 L721.70 15.20 L721.90 15.20 L722.10 15.21 L722.30 15.21 L722.50 15.21 L722.70 15.21 L722.90 15.21 L723.10 15.21 L723.30 15.21 L723.50 15.22 L723.70 15.22 L723.90 15.22 L724.10 15.22 L724.30 15.22 L724.50 15.23 L724.70 15.23 L724.90 15.23 L725.10 15.23 L725.30 15.24 L725.50 15.24 L725.70 15.24 L725.90 15.24 L726.10 15.25 L726.30 15.25 L726.50 15.25 L726.70 15.26 L726.90 15.26 L727.10 15.26 L727.30 15.27 L727.50 15.27 L727.70 15.27 L727.90 15.28 L728.10 15.28 L728.30 15.28 L728.50 15.29 L728.70 15.29 L728.90 15.29 L729.10 15.30 L729.30 15.30 L729.50 15.31 L729.70 15.31 L729.90 15.31 L730.10 15.32 L730.30 15.32 L730.50 15.33 L730.70 15.33 L730.90 15.34 L731.10 15.34 L731.30 15.35 L731.50 15.35 L731.70 15.36 L731.90 15.36 L732.10 15.37 L732.30 15.37 L732.50 15.38 L732.70 15.38 L732.90 15.39 L733.10 15.39 L733.30 15.40 L733.50 15.40 L733.70 15.41 L733.90 15.41 L734.10 15.42 L734.30 15.42 L734.50 15.43 L734.70 15.43 L734.90 15.44 L735.10 15.44 L735.30 15.45 L735.50 15.45 L735.70 15.46 L735.90 15.47 L736.10 15.47 L736.30 15.48 L736.50 15.48 L736.70 15.49 L736.90 15.49 L737.10 15.50 L737.30 15.51 L737.50 15.51 L737.70 15.52 L737.90 15.52 L738.10 15.53 L738.30 15.54 L738.50 15.54 L738.70 15.55 L738.90 15.55 L739.10 15.56 L739.30 15.57 L739.50 15.57 L739.70 15.58 L739.90 15.58 L740.10 15.59 L740.30 15.60 L740.50 15.60 L740.70 15.61 L740.90 15.62 L741.10 15.62 L741.30 15.63 L741.50 15.63 L741.70 15.64 L741.90 15.65 L742.10 15.65 L742.30 15.66 L742.50 15.67 L742.70 15.67 L742.90 15.68 L743.10 15.68 L743.30 15.69 L743.50 15.70 L743.70 15.70 L743.90 15.71 L744.10 15.72 L744.30 15.72 L744.50 15.73 L744.70 15.74 L744.90 15.74 L745.10 15.75 L745.30 15.76 L745.50 15.76 L745.70 15.77 L745.90 15.78 L746.10 15.79 L746.30 15.79 L746.50 15.80 L746.70 15.81 L746.90 15.82 L747.10 15.83 L747.30 15.84 L747.50 15.84 L747.70 15.85 L747.90 15.86 L748.10 15.87 L748.30 15.88 L748.50 15.89 L748.70 15.90 L748.90 15.91 L749.10 15.91 L749.30 15.92 L749.50 15.93 L749.70 15.94 L749.90 15.95 L750.10 15.96 L750.30 15.97 L750.50 15.98 L750.70 15.99 L750.90 16.00 L751.10 16.01 L751.30 16.02 L751.50 16.03 L751.70 16.04 L751.90 16.05 L752.10 16.06 L752.30 16.08 L752.50 16.09 L752.70 16.10 L752.90 16.11 L753.10 16.12 L753.30 16.13 L753.50 16.14 L753.70 16.15 L753.90 16.17 L754.10 16.18 L754.30 16.19 L754.50 16.20 L754.70 16.21 L754.90 16.22 L755.10 16.24 L755.30 16.25 L755.50 16.26 L755.70 16.27 L755.90 16.28 L756.10 16.30 L756.30 16.31 L756.50 16.32 L756.70 16.33 L756.90 16.35 L757.10 16.36 L757.30 16.37 L757.50 16.39 L757.70 16.40 L757.90 16.41 L758.10 16.43 L758.30 16.44 L758.50 16.45 L758.70 16.47 L758.90 16.48 L759.10 16.49 L759.30 16.51 L759.50 16.52 L759.70 16.53 L759.90 16.55 L760.10 16.56 L760.30 16.58 L760.50 16.59 L760.70 16.60 L760.90 16.62 L761.10 16.63 L761.30 16.65 L761.50 16.66 L761.70 16.67 L761.90 16.69 L762.10 16.70 L762.30 16.72 L762.50 16.73 L762.70 16.75 L762.90 16.76 L763.10 16.78 L763.30 16.79 L763.50 16.81 L763.70 16.82 L763.90 16.84 L764.10 16.85 L764.30 16.87 L764.50 16.88 L764.70 16.90 L764.90 16.91 L765.10 16.93 L765.30 16.94 L765.50 16.96 L765.70 16.97 L765.90 16.99 L766.10 17.01 L766.30 17.02 L766.50 17.04 L766.70 17.05 L766.90 17.07 L767.10 17.08 L767.30 17.10 L767.50 17.12 L767.70 17.13 L767.90 17.15 L768.10 17.16 L768.30 17.18 L768.50 17.20 L768.70 17.21 L768.90 17.23 L769.10 17.25 L769.30 17.27 L769.50 17.28 L769.70 17.30 L769.90 17.32 L770.10 17.34 L770.30 17.35 L770.50 17.37 L770.70 17.39 L770.90 17.41 L771.10 17.43 L771.30 17.45 L771.50 17.46 L771.70 17.48 L771.90 17.50 L772.10 17.52 L772.30 17.54 L772.50 17.56 L772.70 17.58 L772.90 17.60 L773.10 17.62 L773.30 17.64 L773.50 17.66 L773.70 17.68 L773.90 17.70 L774.10 17.72 L774.30 17.75 L774.50 17.77 L774.70 17.79 L774.90 17.81 L775.10 17.83 L775.30 17.85 L775.50 17.88 L775.70 17.90 L775.90 17.92 L776.10 17.94 L776.30 17.97 L776.50 17.99 L776.70 18.01 L776.90 18.04 L777.10 18.06 L777.30 18.09 L777.50 18.11 L777.70 18.13 L777.90 18.16 L778.10 18.18 L778.30 18.21 L778.50 18.23 L778.70 18.26 L778.90 18.29 L779.10 18.31 L779.30 18.34 L779.50 18.36 L779.70 18.39 L779.90 18.42 L780.10 18.44 L780.30 18.47 L780.50 18.50 L780.70 18.53 L780.90 18.55 L781.10 18.58 L781.30 18.61 L781.50 18.64 L781.70 18.67 L781.90 18.70 L782.10 18.73 L782.30 18.76 L782.50 18.79 L782.70 18.82 L782.90 18.85 L783.10 18.88 L783.30 18.91 L783.50 18.94 L783.70 18.97 L783.90 19.00 L784.10 19.03 L784.30 19.06 L784.50 19.10 L784.70 19.13 L784.90 19.16 L785.10 19.20 L785.30 19.23 L785.50 19.27 L785.70 19.30 L785.90 19.34 L786.10 19.38 L786.30 19.41 L786.50 19.45 L786.70 19.49 L786.90 19.53 L787.10 19.57 L787.30 19.61 L787.50 19.65 L787.70 19.69 L787.90 19.73 L788.10 19.77 L788.30 19.81 L788.50 19.86 L788.70 19.90 L788.90 19.94 L789.10 19.99 L789.30 20.03 L789.50 20.08 L789.70 20.12 L789.90 20.17 L790.10 20.22 L790.30 20.27 L790.50 20.32 L790.70 20.36 L790.90 20.41 L791.10 20.46 L791.30 20.52 L791.50 20.57 L791.70 20.62 L791.90 20.67 L792.10 20.73 L792.30 20.78 L792.50 20.84 L792.70 20.89 L792.90 20.95 L793.10 21.00 L793.30 21.06 L793.50 21.12 L793.70 21.18 L793.90 21.24 L794.10 21.30 L794.30 21.36 L794.50 21.42 L794.70 21.48 L794.90 21.54 L795.10 21.61 L795.30 21.67 L795.50 21.73 L795.70 21.80 L795.90 21.87 L796.10 21.93 L796.30 22.00 L796.50 22.07 L796.70 22.14 L796.90 22.22 L797.10 22.29 L797.30 22.37 L797.50 22.44 L797.70 22.52 L797.90 22.60 L798.10 22.68 L798.30 22.76 L798.50 22.85 L798.70 22.93 L798.90 23.02 L799.10 23.11 L799.30 23.20 L799.50 23.29 L799.70 23.38 L799.90 23.48 L800.10 23.57 L800.30 23.67 L800.50 23.77 L800.70 23.87 L800.90 23.98 L801.10 24.08 L801.30 24.19 L801.50 24.30 L801.70 24.41 L801.90 24.52 L802.10 24.64 L802.30 24.75 L802.50 24.87 L802.70 24.99 L802.90 25.11 L803.10 25.24 L803.30 25.36 L803.50 25.49 L803.70 25.62 L803.90 25.76 L804.10 25.89 L804.30 26.03 L804.50 26.17 L804.70 26.31 L804.90 26.45 L805.10 26.60 L805.30 26.75 L805.50 26.91 L805.70 27.07 L805.90 27.24 L806.10 27.41 L806.30 27.60 L806.50 27.78 L806.70 27.98 L806.90 28.18 L807.10 28.38 L807.30 28.60 L807.50 28.81 L807.70 29.04 L807.90 29.27 L808.10 29.50 L808.30 29.75 L808.50 30.00 L808.70 30.25 L808.90 30.51 L809.10 30.78 L809.30 31.05 L809.50 31.33 L809.70 31.61 L809.90 31.90 L810.10 32.20 L810.30 32.50 L810.50 32.81 L810.70 33.12 L810.90 33.44 L811.10 33.76 L811.30 34.10 L811.50 34.46 L811.70 34.83 L811.90 35.21 L812.10 35.61 L812.30 36.02 L812.50 36.45 L812.70 36.89 L812.90 37.34 L813.10 37.81 L813.30 38.30 L813.50 38.79 L813.70 39.30 L813.90 39.83 L814.10 40.37 L814.30 40.92 L814.50 41.49 L814.70 42.07 L814.90 42.66 L815.10 43.27 L815.30 43.89 L815.50 44.52 L815.70 45.17 L815.90 45.83 L816.10 46.53 L816.30 47.26 L816.50 48.02 L816.70 48.82 L816.90 49.64 L817.10 50.50 L817.30 51.40 L817.50 52.32 L817.70 53.28 L817.90 54.26 L818.10 55.28 L818.30 56.33 L818.50 57.40 L818.70 58.51 L818.90 59.64 L819.10 60.81 L819.30 62.00 L819.50 63.26 L819.70 64.61 L819.90 66.04 L820.10 67.55 L820.30 69.13 L820.50 70.76 L820.70 72.44 L820.90 74.17 L821.10 75.92 L821.30 77.69 L821.50 79.48 L821.70 81.27 L821.90 83.05 L822.10 84.82 L822.30 86.56 L822.50 88.23 L822.70 89.85 L822.90 91.45 L823.10 93.04 L823.30 94.65 L823.50 96.31 L823.70 98.05 L823.90 99.88 L824.10 101.83 L824.30 103.94 L824.50 106.21 L824.70 108.68 L824.90 111.43 L825.10 114.79 L825.30 118.68 L825.50 123.00 L825.70 127.62 L825.90 132.51 L826.10 138.12 L826.30 144.25 L826.50 150.62 L826.70 156.95 L826.90 163.00 L827.10 168.99 L827.30 174.97 L827.50 180.97 L827.70 186.98 L827.90 193.02 L828.10 199.09 L828.30 205.17 L828.50 211.27 L828.70 217.37 L828.90 223.47 L829.10 229.62 L829.30 235.86 L829.50 242.05 L829.70 248.09 L829.90 253.90 L830.10 259.72 L830.30 265.23 L830.50 270.00 L830.70 274.23 L830.90 278.35 L831.10 282.32 L831.30 286.11 L831.50 289.69 L831.70 293.00 L831.90 296.03 L832.10 298.73 L832.30 301.06 L832.50 303.00 L832.70 299.64 L832.90 296.01 L833.10 292.14 L833.30 288.05 L833.50 283.77 L833.70 279.32 L833.90 274.72 L834.10 270.00 L834.30 264.97 L834.50 259.54 L834.70 253.87 L834.90 248.09 L835.10 242.05 L835.30 235.86 L835.50 229.62 L835.70 223.47 L835.90 217.37 L836.10 211.27 L836.30 205.17 L836.50 199.09 L836.70 193.02 L836.90 186.98 L837.10 180.97 L837.30 174.97 L837.50 168.99 L837.70 163.00 L837.90 156.95 L838.10 150.62 L838.30 144.25 L838.50 138.12 L838.70 132.51 L838.90 127.63 L839.10 123.08 L839.30 118.85 L839.50 114.98 L839.70 111.54 L839.90 108.56 L840.10 105.85 L840.30 103.36 L840.50 101.05 L840.70 98.88 L840.90 96.81 L841.10 94.81 L841.30 92.85 L841.50 90.88 L841.70 88.87 L841.90 86.78 L842.10 84.59 L842.30 82.27 L842.50 79.87 L842.70 77.42 L842.90 74.94 L843.10 72.47 L843.30 70.04 L843.50 67.68 L843.70 65.41 L843.90 63.28 L844.10 61.31 L844.30 59.54 L844.50 57.98 L844.70 56.66 L844.90 55.40 L845.10 54.19 L845.30 53.02 L845.50 51.90 L845.70 50.81 L845.90 49.77 L846.10 48.77 L846.30 47.80 L846.50 46.88 L846.70 45.99 L846.90 45.13 L847.10 44.31 L847.30 43.53 L847.50 42.78 L847.70 42.06 L847.90 41.38 L848.10 40.72 L848.30 40.10 L848.50 39.50 L848.70 38.94 L848.90 38.40 L849.10 37.88 L849.30 37.37 L849.50 36.87 L849.70 36.39 L849.90 35.91 L850.10 35.45 L850.30 35.00 L850.50 34.55 L850.70 34.12 L850.90 33.70 L851.10 33.29 L851.30 32.90 L851.50 32.51 L851.70 32.13 L851.90 31.77 L852.10 31.41 L852.30 31.07 L852.50 30.74 L852.70 30.42 L852.90 30.11 L853.10 29.81 L853.30 29.52 L853.50 29.24 L853.70 28.97 L853.90 28.72 L854.10 28.47 L854.30 28.24 L854.50 28.01 L854.70 27.80 L854.90 27.60 L855.10 27.40 L855.30 27.21 L855.50 27.02 L855.70 26.83 L855.90 26.64 L856.10 26.46 L856.30 26.28 L856.50 26.11 L856.70 25.94 L856.90 25.77 L857.10 25.60 L857.30 25.44 L857.50 25.28 L857.70 25.12 L857.90 24.97 L858.10 24.82 L858.30 24.67 L858.50 24.52 L858.70 24.38 L858.90 24.24 L859.10 24.11 L859.30 23.97 L859.50 23.84 L859.70 23.71 L859.90 23.58 L860.10 23.46 L860.30 23.34 L860.50 23.22 L860.70 23.11 L860.90 22.99 L861.10 22.88 L861.30 22.77 L861.50 22.67 L861.70 22.56 L861.90 22.46 L862.10 22.36 L862.30 22.26 L862.50 22.17 L862.70 22.07 L862.90 21.98 L863.10 21.89 L863.30 21.81 L863.50 21.72 L863.70 21.64 L863.90 21.56 L864.10 21.48 L864.30 21.40 L864.50 21.32 L864.70 21.25 L864.90 21.17 L865.10 21.10 L865.30 21.03 L865.50 20.96 L865.70 20.89 L865.90 20.82 L866.10 20.75 L866.30 20.68 L866.50 20.62 L866.70 20.55 L866.90 20.48 L867.10 20.42 L867.30 20.36 L867.50 20.30 L867.70 20.23 L867.90 20.17 L868.10 20.11 L868.30 20.05 L868.50 20.00 L868.70 19.94 L868.90 19.88 L869.10 19.83 L869.30 19.77 L869.50 19.72 L869.70 19.66 L869.90 19.61 L870.10 19.56 L870.30 19.51 L870.50 19.46 L870.70 19.41 L870.90 19.36 L871.10 19.31 L871.30 19.26 L871.50 19.21 L871.70 19.17 L871.90 19.12 L872.10 19.08 L872.30 19.03 L872.50 18.99 L872.70 18.94 L872.90 18.90 L873.10 18.86 L873.30 18.82 L873.50 18.78 L873.70 18.74 L873.90 18.70 L874.10 18.66 L874.30 18.62 L874.50 18.58 L874.70 18.55 L874.90 18.51 L875.10 18.47 L875.30 18.44 L875.50 18.40 L875.70 18.37 L875.90 18.33 L876.10 18.30 L876.30 18.27 L876.50 18.23 L876.70 18.20 L876.90 18.17 L877.10 18.14 L877.30 18.10 L877.50 18.07 L877.70 18.04 L877.90 18.01 L878.10 17.98 L878.30 17.95 L878.50 17.92 L878.70 17.89 L878.90 17.85 L879.10 17.82 L879.30 17.79 L879.50 17.76 L879.70 17.74 L879.90 17.71 L880.10 17.68 L880.30 17.65 L880.50 17.62 L880.70 17.59 L880.90 17.56 L881.10 17.53 L881.30 17.51 L881.50 17.48 L881.70 17.45 L881.90 17.42 L882.10 17.40 L882.30 17.37 L882.50 17.34 L882.70 17.32 L882.90 17.29 L883.10 17.26 L883.30 17.24 L883.50 17.21 L883.70 17.19 L883.90 17.16 L884.10 17.14 L884.30 17.11 L884.50 17.09 L884.70 17.06 L884.90 17.04 L885.10 17.02 L885.30 16.99 L885.50 16.97 L885.70 16.95 L885.90 16.92 L886.10 16.90 L886.30 16.88 L886.50 16.86 L886.70 16.83 L886.90 16.81 L887.10 16.79 L887.30 16.77 L887.50 16.75 L887.70 16.73 L887.90 16.70 L888.10 16.68 L888.30 16.66 L888.50 16.64 L888.70 16.62 L888.90 16.60 L889.10 16.58 L889.30 16.56 L889.50 16.54 L889.70 16.53 L889.90 16.51 L890.10 16.49 L890.30 16.47 L890.50 16.45 L890.70 16.43 L890.90 16.42 L891.10 16.40 L891.30 16.38 L891.50 16.36 L891.70 16.35 L891.90 16.33 L892.10 16.31 L892.30 16.30 L892.50 16.28 L892.70 16.27 L892.90 16.25 L893.10 16.24 L893.30 16.22 L893.50 16.21 L893.70 16.19 L893.90 16.18 L894.10 16.16 L894.30 16.15 L894.50 16.13 L894.70 16.12 L894.90 16.11 L895.10 16.09 L895.30 16.08 L895.50 16.07 L895.70 16.05 L895.90 16.04 L896.10 16.03 L896.30 16.01 L896.50 16.00 L896.70 15.99 L896.90 15.97 L897.10 15.96 L897.30 15.95 L897.50 15.94 L897.70 15.92 L897.90 15.91 L898.10 15.90 L898.30 15.88 L898.50 15.87 L898.70 15.86 L898.90 15.84 L899.10 15.83 L899.30 15.82 L899.50 15.80 L899.70 15.79 L899.90 15.78 L900.10 15.77 L900.30 15.75 L900.50 15.74 L900.70 15.73 L900.90 15.72 L901.10 15.70 L901.30 15.69 L901.50 15.68 L901.70 15.66 L901.90 15.65 L902.10 15.64 L902.30 15.63 L902.50 15.61 L902.70 15.60 L902.90 15.59 L903.10 15.58 L903.30 15.57 L903.50 15.55 L903.70 15.54 L903.90 15.53 L904.10 15.52 L904.30 15.50 L904.50 15.49 L904.70 15.48 L904.90 15.47 L905.10 15.46 L905.30 15.44 L905.50 15.43 L905.70 15.42 L905.90 15.41 L906.10 15.40 L906.30 15.39 L906.50 15.38 L906.70 15.36 L906.90 15.35 L907.10 15.34 L907.30 15.33 L907.50 15.32 L907.70 15.31 L907.90 15.30 L908.10 15.29 L908.30 15.27 L908.50 15.26 L908.70 15.25 L908.90 15.24 L909.10 15.23 L909.30 15.22 L909.50 15.21 L909.70 15.20 L909.90 15.19 L910.10 15.18 L910.30 15.17 L910.50 15.16 L910.70 15.15 L910.90 15.14 L911.10 15.13 L911.30 15.12 L911.50 15.11 L911.70 15.10 L911.90 15.09 L912.10 15.08 L912.30 15.07 L912.50 15.06 L912.70 15.05 L912.90 15.05 L913.10 15.04 L913.30 15.03 L913.50 15.02 L913.70 15.01 L913.90 15.00 L914.10 14.99 L914.30 14.99 L914.50 14.98 L914.70 14.97 L914.90 14.96 L915.10 14.95 L915.30 14.95 L915.50 14.94 L915.70 14.93 L915.90 14.92 L916.10 14.91 L916.30 14.91 L916.50 14.90 L916.70 14.89 L916.90 14.89 L917.10 14.88 L917.30 14.87 L917.50 14.87 L917.70 14.86 L917.90 14.85 L918.10 14.85 L918.30 14.84 L918.50 14.83 L918.70 14.83 L918.90 14.82 L919.10 14.82 L919.30 14.81 L919.50 14.81 L919.70 14.80 L919.90 14.80 L920.10 14.79 L920.30 14.79 L920.50 14.78 L920.70 14.78 L920.90 14.77 L921.10 14.77 L921.30 14.76 L921.50 14.76 L921.70 14.75 L921.90 14.75 L922.10 14.75 L922.30 14.74 L922.50 14.74 L922.70 14.74 L922.90 14.73 L923.10 14.73 L923.30 14.73 L923.50 14.72 L923.70 14.72 L923.90 14.72 L924.10 14.72 L924.30 14.71 L924.50 14.71 L924.70 14.71 L924.90 14.71 L925.10 14.71 L925.30 14.71 L925.50 14.70 L925.70 14.70 L925.90 14.70 L926.10 14.70 L926.30 14.70 L926.50 14.70 L926.70 14.70 L926.90 14.70 L927.00 14.70" fill="none" stroke="#fe0000" stroke-width="3.85" stroke-linejoin="round" stroke-linecap="butt"/>
<text x="99.5" y="273" text-anchor="middle" class="an">1</text>
<text x="137.5" y="367.5" text-anchor="middle" class="an">2</text>
<text x="223.0" y="382.5" text-anchor="middle" class="an">3</text>
<text x="310.0" y="386" text-anchor="middle" class="an">4</text>
<text x="427.2" y="386" text-anchor="middle" class="an">5</text>
<text x="521.7" y="116.5" text-anchor="middle" class="an">6</text>
<text x="610.7" y="375" text-anchor="middle" class="an">7</text>
<text x="832.2" y="340" text-anchor="middle" class="an">8</text>
<rect x="805.9" y="350.6" width="110.3" height="36.5" fill="#fff" stroke="#3a3a3a" stroke-width="1"/>
<path d="M809.1 368.9H837.1" stroke="#fe0000" stroke-width="4"/>
<text transform="translate(839.8 380.9) scale(1 1.05)" class="lg">cGST</text>
<defs>
<linearGradient id="cbg" x1="0" y1="0" x2="0" y2="1"><stop offset="0.0000" stop-color="#ff0000"/><stop offset="0.0417" stop-color="#ff2000"/><stop offset="0.0833" stop-color="#ff4000"/><stop offset="0.1250" stop-color="#ff6000"/><stop offset="0.1667" stop-color="#ff8000"/><stop offset="0.2083" stop-color="#ff9f00"/><stop offset="0.2500" stop-color="#ffbf00"/><stop offset="0.2917" stop-color="#ffdf00"/><stop offset="0.3333" stop-color="#ffff00"/><stop offset="0.3750" stop-color="#dfff20"/><stop offset="0.4167" stop-color="#bfff40"/><stop offset="0.4583" stop-color="#9fff60"/><stop offset="0.5000" stop-color="#80ff80"/><stop offset="0.5417" stop-color="#60ff9f"/><stop offset="0.5833" stop-color="#40ffbf"/><stop offset="0.6250" stop-color="#20ffdf"/><stop offset="0.6667" stop-color="#00ffff"/><stop offset="0.7083" stop-color="#00dfff"/><stop offset="0.7500" stop-color="#00bfff"/><stop offset="0.7917" stop-color="#009fff"/><stop offset="0.8333" stop-color="#007fff"/><stop offset="0.8750" stop-color="#0060ff"/><stop offset="0.9167" stop-color="#0040ff"/><stop offset="0.9583" stop-color="#0020ff"/><stop offset="1.0000" stop-color="#0000ff"/></linearGradient>
<linearGradient id="g1" x1="0" y1="0" x2="0" y2="1"><stop offset="0.0000" stop-color="#ffdf00"/><stop offset="0.0044" stop-color="#fdff02"/><stop offset="0.0088" stop-color="#dbff24"/><stop offset="0.0132" stop-color="#b9ff46"/><stop offset="0.0176" stop-color="#97ff68"/><stop offset="0.0220" stop-color="#74ff8b"/><stop offset="0.0264" stop-color="#53ffac"/><stop offset="0.0308" stop-color="#32ffcd"/><stop offset="0.0352" stop-color="#13ffec"/><stop offset="0.0396" stop-color="#00f5ff"/><stop offset="0.0441" stop-color="#00d9ff"/><stop offset="0.0485" stop-color="#00c0ff"/><stop offset="0.0529" stop-color="#00a9ff"/><stop offset="0.0573" stop-color="#0096ff"/><stop offset="0.0617" stop-color="#0085ff"/><stop offset="0.0661" stop-color="#0078ff"/><stop offset="0.0705" stop-color="#006dff"/><stop offset="0.0749" stop-color="#0067ff"/><stop offset="0.0793" stop-color="#0064ff"/><stop offset="0.0837" stop-color="#0064ff"/><stop offset="0.0881" stop-color="#0068ff"/><stop offset="0.0925" stop-color="#0070ff"/><stop offset="0.0969" stop-color="#007bff"/><stop offset="0.1013" stop-color="#008aff"/><stop offset="0.1057" stop-color="#009cff"/><stop offset="0.1101" stop-color="#00b1ff"/><stop offset="0.1145" stop-color="#00c9ff"/><stop offset="0.1189" stop-color="#00e3ff"/><stop offset="0.1233" stop-color="#01fffe"/><stop offset="0.1278" stop-color="#1fffe0"/><stop offset="0.1322" stop-color="#3fffc0"/><stop offset="0.1366" stop-color="#61ff9e"/><stop offset="0.1410" stop-color="#83ff7c"/><stop offset="0.1454" stop-color="#a6ff59"/><stop offset="0.1498" stop-color="#c9ff36"/><stop offset="0.1542" stop-color="#ebff14"/><stop offset="0.1586" stop-color="#fff100"/><stop offset="0.1630" stop-color="#ffd000"/><stop offset="0.1674" stop-color="#ffb000"/><stop offset="0.1718" stop-color="#ff9200"/><stop offset="0.1762" stop-color="#ff7600"/><stop offset="0.1806" stop-color="#ff5d00"/><stop offset="0.1850" stop-color="#ff4600"/><stop offset="0.1894" stop-color="#ff3200"/><stop offset="0.1938" stop-color="#ff2100"/><stop offset="0.1982" stop-color="#ff1400"/><stop offset="0.2026" stop-color="#ff0a00"/><stop offset="0.2070" stop-color="#ff0300"/><stop offset="0.2115" stop-color="#ff0000"/><stop offset="0.2159" stop-color="#ff0100"/><stop offset="0.2203" stop-color="#ff0500"/><stop offset="0.2247" stop-color="#ff0d00"/><stop offset="0.2291" stop-color="#ff1900"/><stop offset="0.2335" stop-color="#ff2800"/><stop offset="0.2379" stop-color="#ff3a00"/><stop offset="0.2423" stop-color="#ff4f00"/><stop offset="0.2467" stop-color="#ff6700"/><stop offset="0.2511" stop-color="#ff8200"/><stop offset="0.2555" stop-color="#ff9f00"/><stop offset="0.2599" stop-color="#ffbd00"/><stop offset="0.2643" stop-color="#ffde00"/><stop offset="0.2687" stop-color="#ffff00"/><stop offset="0.2731" stop-color="#dcff23"/><stop offset="0.2775" stop-color="#baff45"/><stop offset="0.2819" stop-color="#97ff68"/><stop offset="0.2863" stop-color="#74ff8b"/><stop offset="0.2907" stop-color="#52ffad"/><stop offset="0.2952" stop-color="#31ffce"/><stop offset="0.2996" stop-color="#11ffee"/><stop offset="0.3040" stop-color="#00f3ff"/><stop offset="0.3084" stop-color="#00d7ff"/><stop offset="0.3128" stop-color="#00beff"/><stop offset="0.3172" stop-color="#00a7ff"/><stop offset="0.3216" stop-color="#0093ff"/><stop offset="0.3260" stop-color="#0083ff"/><stop offset="0.3304" stop-color="#0076ff"/><stop offset="0.3348" stop-color="#006cff"/><stop offset="0.3392" stop-color="#0066ff"/><stop offset="0.3436" stop-color="#0064ff"/><stop offset="0.3480" stop-color="#0065ff"/><stop offset="0.3524" stop-color="#0069ff"/><stop offset="0.3568" stop-color="#0071ff"/><stop offset="0.3612" stop-color="#007dff"/><stop offset="0.3656" stop-color="#008bff"/><stop offset="0.3700" stop-color="#009dff"/><stop offset="0.3744" stop-color="#00b2ff"/><stop offset="0.3789" stop-color="#00c9ff"/><stop offset="0.3833" stop-color="#00e2ff"/><stop offset="0.3877" stop-color="#00feff"/><stop offset="0.3921" stop-color="#1dffe2"/><stop offset="0.3965" stop-color="#3cffc3"/><stop offset="0.4009" stop-color="#5dffa2"/><stop offset="0.4053" stop-color="#7eff81"/><stop offset="0.4097" stop-color="#a0ff5f"/><stop offset="0.4141" stop-color="#c2ff3d"/><stop offset="0.4185" stop-color="#e4ff1b"/><stop offset="0.4229" stop-color="#fff900"/><stop offset="0.4273" stop-color="#ffd800"/><stop offset="0.4317" stop-color="#ffb900"/><stop offset="0.4361" stop-color="#ff9b00"/><stop offset="0.4405" stop-color="#ff7f00"/><stop offset="0.4449" stop-color="#ff6600"/><stop offset="0.4493" stop-color="#ff4e00"/><stop offset="0.4537" stop-color="#ff3a00"/><stop offset="0.4581" stop-color="#ff2800"/><stop offset="0.4626" stop-color="#ff1900"/><stop offset="0.4670" stop-color="#ff0e00"/><stop offset="0.4714" stop-color="#ff0600"/><stop offset="0.4758" stop-color="#ff0100"/><stop offset="0.4802" stop-color="#ff0000"/><stop offset="0.4846" stop-color="#ff0300"/><stop offset="0.4890" stop-color="#ff0900"/><stop offset="0.4934" stop-color="#ff1300"/><stop offset="0.4978" stop-color="#ff2100"/><stop offset="0.5022" stop-color="#ff3200"/><stop offset="0.5066" stop-color="#ff4600"/><stop offset="0.5110" stop-color="#ff5e00"/><stop offset="0.5154" stop-color="#ff7800"/><stop offset="0.5198" stop-color="#ff9500"/><stop offset="0.5242" stop-color="#ffb400"/><stop offset="0.5286" stop-color="#ffd400"/><stop offset="0.5330" stop-color="#fff600"/><stop offset="0.5374" stop-color="#e5ff1a"/><stop offset="0.5419" stop-color="#c1ff3e"/><stop offset="0.5463" stop-color="#9dff62"/><stop offset="0.5507" stop-color="#7aff85"/><stop offset="0.5551" stop-color="#57ffa8"/><stop offset="0.5595" stop-color="#35ffca"/><stop offset="0.5639" stop-color="#15ffea"/><stop offset="0.5683" stop-color="#00f5ff"/><stop offset="0.5727" stop-color="#00d9ff"/><stop offset="0.5771" stop-color="#00bfff"/><stop offset="0.5815" stop-color="#00a7ff"/><stop offset="0.5859" stop-color="#0093ff"/><stop offset="0.5903" stop-color="#0083ff"/><stop offset="0.5947" stop-color="#0075ff"/><stop offset="0.5991" stop-color="#006cff"/><stop offset="0.6035" stop-color="#0066ff"/><stop offset="0.6079" stop-color="#0063ff"/><stop offset="0.6123" stop-color="#0065ff"/><stop offset="0.6167" stop-color="#006aff"/><stop offset="0.6211" stop-color="#0072ff"/><stop offset="0.6256" stop-color="#007dff"/><stop offset="0.6300" stop-color="#008cff"/><stop offset="0.6344" stop-color="#009dff"/><stop offset="0.6388" stop-color="#00b1ff"/><stop offset="0.6432" stop-color="#00c8ff"/><stop offset="0.6476" stop-color="#00e1ff"/><stop offset="0.6520" stop-color="#00fcff"/><stop offset="0.6564" stop-color="#1affe5"/><stop offset="0.6608" stop-color="#38ffc7"/><stop offset="0.6652" stop-color="#58ffa7"/><stop offset="0.6696" stop-color="#78ff87"/><stop offset="0.6740" stop-color="#99ff66"/><stop offset="0.6784" stop-color="#bbff44"/><stop offset="0.6828" stop-color="#dcff23"/><stop offset="0.6872" stop-color="#fdff02"/><stop offset="0.6916" stop-color="#ffe100"/><stop offset="0.6960" stop-color="#ffc200"/><stop offset="0.7004" stop-color="#ffa500"/><stop offset="0.7048" stop-color="#ff8900"/><stop offset="0.7093" stop-color="#ff6f00"/><stop offset="0.7137" stop-color="#ff5700"/><stop offset="0.7181" stop-color="#ff4200"/><stop offset="0.7225" stop-color="#ff2f00"/><stop offset="0.7269" stop-color="#ff2000"/><stop offset="0.7313" stop-color="#ff1300"/><stop offset="0.7357" stop-color="#ff0900"/><stop offset="0.7401" stop-color="#ff0300"/><stop offset="0.7445" stop-color="#ff0000"/><stop offset="0.7489" stop-color="#ff0100"/><stop offset="0.7533" stop-color="#ff0600"/><stop offset="0.7577" stop-color="#ff0f00"/><stop offset="0.7621" stop-color="#ff1c00"/><stop offset="0.7665" stop-color="#ff2d00"/><stop offset="0.7709" stop-color="#ff4200"/><stop offset="0.7753" stop-color="#ff5a00"/><stop offset="0.7797" stop-color="#ff7600"/><stop offset="0.7841" stop-color="#ff9400"/><stop offset="0.7885" stop-color="#ffb500"/><stop offset="0.7930" stop-color="#ffd800"/><stop offset="0.7974" stop-color="#fffc00"/><stop offset="0.8018" stop-color="#dcff23"/><stop offset="0.8062" stop-color="#b6ff49"/><stop offset="0.8106" stop-color="#90ff6f"/><stop offset="0.8150" stop-color="#69ff96"/><stop offset="0.8194" stop-color="#44ffbb"/><stop offset="0.8238" stop-color="#20ffdf"/><stop offset="0.8282" stop-color="#00fcff"/><stop offset="0.8326" stop-color="#00dcff"/><stop offset="0.8370" stop-color="#00beff"/><stop offset="0.8414" stop-color="#00a3ff"/><stop offset="0.8458" stop-color="#008bff"/><stop offset="0.8502" stop-color="#0077ff"/><stop offset="0.8546" stop-color="#0066ff"/><stop offset="0.8590" stop-color="#0059ff"/><stop offset="0.8634" stop-color="#0051ff"/><stop offset="0.8678" stop-color="#004dff"/><stop offset="0.8722" stop-color="#004dff"/><stop offset="0.8767" stop-color="#0070ff"/><stop offset="0.8811" stop-color="#008aff"/><stop offset="0.8855" stop-color="#00a4ff"/><stop offset="0.8899" stop-color="#00beff"/><stop offset="0.8943" stop-color="#00d7ff"/><stop offset="0.8987" stop-color="#00f1ff"/><stop offset="0.9031" stop-color="#05fffa"/><stop offset="0.9075" stop-color="#14ffeb"/><stop offset="0.9119" stop-color="#23ffdc"/><stop offset="0.9163" stop-color="#31ffce"/><stop offset="0.9207" stop-color="#40ffbf"/><stop offset="0.9251" stop-color="#4effb1"/><stop offset="0.9295" stop-color="#9dff62"/><stop offset="0.9339" stop-color="#fffe00"/><stop offset="0.9383" stop-color="#ffe000"/><stop offset="0.9427" stop-color="#ffc900"/><stop offset="0.9471" stop-color="#ffb200"/><stop offset="0.9515" stop-color="#ff9b00"/><stop offset="0.9559" stop-color="#ff8400"/><stop offset="0.9604" stop-color="#ff6d00"/><stop offset="0.9648" stop-color="#ff6500"/><stop offset="0.9692" stop-color="#ff8a00"/><stop offset="0.9736" stop-color="#ffae00"/><stop offset="0.9780" stop-color="#ffca00"/><stop offset="0.9824" stop-color="#ffd200"/><stop offset="0.9868" stop-color="#ffdb00"/><stop offset="0.9912" stop-color="#ffe400"/><stop offset="0.9956" stop-color="#ffec00"/><stop offset="1.0000" stop-color="#fff500"/></linearGradient>
<linearGradient id="g2" x1="0" y1="0" x2="0" y2="1"><stop offset="0.0000" stop-color="#8cff73"/><stop offset="0.0044" stop-color="#aaff55"/><stop offset="0.0088" stop-color="#c8ff37"/><stop offset="0.0132" stop-color="#e5ff1a"/><stop offset="0.0176" stop-color="#fffe00"/><stop offset="0.0220" stop-color="#ffe300"/><stop offset="0.0264" stop-color="#ffcb00"/><stop offset="0.0308" stop-color="#ffb400"/><stop offset="0.0352" stop-color="#ff9e00"/><stop offset="0.0396" stop-color="#ff8c00"/><stop offset="0.0441" stop-color="#ff7b00"/><stop offset="0.0485" stop-color="#ff6d00"/><stop offset="0.0529" stop-color="#ff6100"/><stop offset="0.0573" stop-color="#ff5800"/><stop offset="0.0617" stop-color="#ff5100"/><stop offset="0.0661" stop-color="#ff4d00"/><stop offset="0.0705" stop-color="#ff4d00"/><stop offset="0.0749" stop-color="#ff4e00"/><stop offset="0.0793" stop-color="#ff5300"/><stop offset="0.0837" stop-color="#ff5a00"/><stop offset="0.0881" stop-color="#ff6400"/><stop offset="0.0925" stop-color="#ff7000"/><stop offset="0.0969" stop-color="#ff7f00"/><stop offset="0.1013" stop-color="#ff9000"/><stop offset="0.1057" stop-color="#ffa300"/><stop offset="0.1101" stop-color="#ffb800"/><stop offset="0.1145" stop-color="#ffcf00"/><stop offset="0.1189" stop-color="#ffe800"/><stop offset="0.1233" stop-color="#fcff03"/><stop offset="0.1278" stop-color="#e1ff1e"/><stop offset="0.1322" stop-color="#c4ff3b"/><stop offset="0.1366" stop-color="#a7ff58"/><stop offset="0.1410" stop-color="#89ff76"/><stop offset="0.1454" stop-color="#6bff94"/><stop offset="0.1498" stop-color="#4dffb2"/><stop offset="0.1542" stop-color="#2fffd0"/><stop offset="0.1586" stop-color="#11ffee"/><stop offset="0.1630" stop-color="#00f3ff"/><stop offset="0.1674" stop-color="#00d7ff"/><stop offset="0.1718" stop-color="#00bcff"/><stop offset="0.1762" stop-color="#00a2ff"/><stop offset="0.1806" stop-color="#008aff"/><stop offset="0.1850" stop-color="#0074ff"/><stop offset="0.1894" stop-color="#005fff"/><stop offset="0.1938" stop-color="#004dff"/><stop offset="0.1982" stop-color="#003cff"/><stop offset="0.2026" stop-color="#002eff"/><stop offset="0.2070" stop-color="#0023ff"/><stop offset="0.2115" stop-color="#001aff"/><stop offset="0.2159" stop-color="#0014ff"/><stop offset="0.2203" stop-color="#0010ff"/><stop offset="0.2247" stop-color="#000fff"/><stop offset="0.2291" stop-color="#0011ff"/><stop offset="0.2335" stop-color="#0016ff"/><stop offset="0.2379" stop-color="#001dff"/><stop offset="0.2423" stop-color="#0027ff"/><stop offset="0.2467" stop-color="#0033ff"/><stop offset="0.2511" stop-color="#0042ff"/><stop offset="0.2555" stop-color="#0053ff"/><stop offset="0.2599" stop-color="#0066ff"/><stop offset="0.2643" stop-color="#007bff"/><stop offset="0.2687" stop-color="#0092ff"/><stop offset="0.2731" stop-color="#00abff"/><stop offset="0.2775" stop-color="#00c5ff"/><stop offset="0.2819" stop-color="#00e0ff"/><stop offset="0.2863" stop-color="#00fdff"/><stop offset="0.2907" stop-color="#1bffe4"/><stop offset="0.2952" stop-color="#39ffc6"/><stop offset="0.2996" stop-color="#57ffa8"/><stop offset="0.3040" stop-color="#75ff8a"/><stop offset="0.3084" stop-color="#93ff6c"/><stop offset="0.3128" stop-color="#b1ff4e"/><stop offset="0.3172" stop-color="#ceff31"/><stop offset="0.3216" stop-color="#eaff15"/><stop offset="0.3260" stop-color="#fff900"/><stop offset="0.3304" stop-color="#ffdf00"/><stop offset="0.3348" stop-color="#ffc700"/><stop offset="0.3392" stop-color="#ffb100"/><stop offset="0.3436" stop-color="#ff9c00"/><stop offset="0.3480" stop-color="#ff8a00"/><stop offset="0.3524" stop-color="#ff7900"/><stop offset="0.3568" stop-color="#ff6c00"/><stop offset="0.3612" stop-color="#ff6000"/><stop offset="0.3656" stop-color="#ff5700"/><stop offset="0.3700" stop-color="#ff5100"/><stop offset="0.3744" stop-color="#ff4d00"/><stop offset="0.3789" stop-color="#ff4d00"/><stop offset="0.3833" stop-color="#ff4e00"/><stop offset="0.3877" stop-color="#ff5300"/><stop offset="0.3921" stop-color="#ff5b00"/><stop offset="0.3965" stop-color="#ff6500"/><stop offset="0.4009" stop-color="#ff7100"/><stop offset="0.4053" stop-color="#ff8000"/><stop offset="0.4097" stop-color="#ff9200"/><stop offset="0.4141" stop-color="#ffa600"/><stop offset="0.4185" stop-color="#ffbc00"/><stop offset="0.4229" stop-color="#ffd300"/><stop offset="0.4273" stop-color="#ffed00"/><stop offset="0.4317" stop-color="#f7ff08"/><stop offset="0.4361" stop-color="#dbff24"/><stop offset="0.4405" stop-color="#bdff42"/><stop offset="0.4449" stop-color="#a0ff5f"/><stop offset="0.4493" stop-color="#81ff7e"/><stop offset="0.4537" stop-color="#63ff9c"/><stop offset="0.4581" stop-color="#44ffbb"/><stop offset="0.4626" stop-color="#26ffd9"/><stop offset="0.4670" stop-color="#08fff7"/><stop offset="0.4714" stop-color="#00e9ff"/><stop offset="0.4758" stop-color="#00cdff"/><stop offset="0.4802" stop-color="#00b2ff"/><stop offset="0.4846" stop-color="#0099ff"/><stop offset="0.4890" stop-color="#0081ff"/><stop offset="0.4934" stop-color="#006bff"/><stop offset="0.4978" stop-color="#0057ff"/><stop offset="0.5022" stop-color="#0045ff"/><stop offset="0.5066" stop-color="#0036ff"/><stop offset="0.5110" stop-color="#0029ff"/><stop offset="0.5154" stop-color="#001eff"/><stop offset="0.5198" stop-color="#0017ff"/><stop offset="0.5242" stop-color="#0012ff"/><stop offset="0.5286" stop-color="#000fff"/><stop offset="0.5330" stop-color="#0010ff"/><stop offset="0.5374" stop-color="#0013ff"/><stop offset="0.5419" stop-color="#0019ff"/><stop offset="0.5463" stop-color="#0021ff"/><stop offset="0.5507" stop-color="#002bff"/><stop offset="0.5551" stop-color="#0038ff"/><stop offset="0.5595" stop-color="#0048ff"/><stop offset="0.5639" stop-color="#0059ff"/><stop offset="0.5683" stop-color="#006cff"/><stop offset="0.5727" stop-color="#0082ff"/><stop offset="0.5771" stop-color="#0099ff"/><stop offset="0.5815" stop-color="#00b1ff"/><stop offset="0.5859" stop-color="#00cbff"/><stop offset="0.5903" stop-color="#00e6ff"/><stop offset="0.5947" stop-color="#03fffc"/><stop offset="0.5991" stop-color="#1fffe0"/><stop offset="0.6035" stop-color="#3cffc3"/><stop offset="0.6079" stop-color="#5affa5"/><stop offset="0.6123" stop-color="#77ff88"/><stop offset="0.6167" stop-color="#94ff6b"/><stop offset="0.6211" stop-color="#b1ff4e"/><stop offset="0.6256" stop-color="#cdff32"/><stop offset="0.6300" stop-color="#e9ff16"/><stop offset="0.6344" stop-color="#fffb00"/><stop offset="0.6388" stop-color="#ffe200"/><stop offset="0.6432" stop-color="#ffca00"/><stop offset="0.6476" stop-color="#ffb400"/><stop offset="0.6520" stop-color="#ffa000"/><stop offset="0.6564" stop-color="#ff8d00"/><stop offset="0.6608" stop-color="#ff7d00"/><stop offset="0.6652" stop-color="#ff6f00"/><stop offset="0.6696" stop-color="#ff6300"/><stop offset="0.6740" stop-color="#ff5a00"/><stop offset="0.6784" stop-color="#ff5300"/><stop offset="0.6828" stop-color="#ff4e00"/><stop offset="0.6872" stop-color="#ff4d00"/><stop offset="0.6916" stop-color="#ff4d00"/><stop offset="0.6960" stop-color="#ff5100"/><stop offset="0.7004" stop-color="#ff5700"/><stop offset="0.7048" stop-color="#ff6000"/><stop offset="0.7093" stop-color="#ff6b00"/><stop offset="0.7137" stop-color="#ff7900"/><stop offset="0.7181" stop-color="#ff8900"/><stop offset="0.7225" stop-color="#ff9b00"/><stop offset="0.7269" stop-color="#ffb000"/><stop offset="0.7313" stop-color="#ffc600"/><stop offset="0.7357" stop-color="#ffde00"/><stop offset="0.7401" stop-color="#fff800"/><stop offset="0.7445" stop-color="#ecff13"/><stop offset="0.7489" stop-color="#d0ff2f"/><stop offset="0.7533" stop-color="#b3ff4c"/><stop offset="0.7577" stop-color="#96ff69"/><stop offset="0.7621" stop-color="#78ff87"/><stop offset="0.7665" stop-color="#5affa5"/><stop offset="0.7709" stop-color="#3cffc3"/><stop offset="0.7753" stop-color="#1fffe0"/><stop offset="0.7797" stop-color="#02fffd"/><stop offset="0.7841" stop-color="#00e5ff"/><stop offset="0.7885" stop-color="#00caff"/><stop offset="0.7930" stop-color="#00b1ff"/><stop offset="0.7974" stop-color="#0099ff"/><stop offset="0.8018" stop-color="#0082ff"/><stop offset="0.8062" stop-color="#006eff"/><stop offset="0.8106" stop-color="#005bff"/><stop offset="0.8150" stop-color="#004bff"/><stop offset="0.8194" stop-color="#003dff"/><stop offset="0.8238" stop-color="#0032ff"/><stop offset="0.8282" stop-color="#0029ff"/><stop offset="0.8326" stop-color="#0023ff"/><stop offset="0.8370" stop-color="#001fff"/><stop offset="0.8414" stop-color="#001fff"/><stop offset="0.8458" stop-color="#0021ff"/><stop offset="0.8502" stop-color="#0027ff"/><stop offset="0.8546" stop-color="#002eff"/><stop offset="0.8590" stop-color="#0037ff"/><stop offset="0.8634" stop-color="#0040ff"/><stop offset="0.8678" stop-color="#0047ff"/><stop offset="0.8722" stop-color="#004bff"/><stop offset="0.8767" stop-color="#0063ff"/><stop offset="0.8811" stop-color="#0083ff"/><stop offset="0.8855" stop-color="#00a4ff"/><stop offset="0.8899" stop-color="#00c4ff"/><stop offset="0.8943" stop-color="#00e4ff"/><stop offset="0.8987" stop-color="#06fff9"/><stop offset="0.9031" stop-color="#d3ff2c"/><stop offset="0.9075" stop-color="#fdff02"/><stop offset="0.9119" stop-color="#fffe00"/><stop offset="0.9163" stop-color="#fffb00"/><stop offset="0.9207" stop-color="#fff800"/><stop offset="0.9251" stop-color="#fff600"/><stop offset="0.9295" stop-color="#ffa900"/><stop offset="0.9339" stop-color="#ff4700"/><stop offset="0.9383" stop-color="#ff3800"/><stop offset="0.9427" stop-color="#ff3200"/><stop offset="0.9471" stop-color="#ff2c00"/><stop offset="0.9515" stop-color="#ff2600"/><stop offset="0.9559" stop-color="#d3ff2c"/><stop offset="0.9604" stop-color="#b0ff4f"/><stop offset="0.9648" stop-color="#8eff71"/><stop offset="0.9692" stop-color="#93ff6c"/><stop offset="0.9736" stop-color="#b5ff4a"/><stop offset="0.9780" stop-color="#cbff34"/><stop offset="0.9824" stop-color="#c8ff37"/><stop offset="0.9868" stop-color="#c5ff3a"/><stop offset="0.9912" stop-color="#c2ff3d"/><stop offset="0.9956" stop-color="#c0ff3f"/><stop offset="1.0000" stop-color="#bdff42"/></linearGradient>
<linearGradient id="g3" x1="0" y1="0" x2="0" y2="1"><stop offset="0.0000" stop-color="#ffe600"/><stop offset="0.0044" stop-color="#ffef00"/><stop offset="0.0088" stop-color="#fff800"/><stop offset="0.0132" stop-color="#fcff03"/><stop offset="0.0176" stop-color="#f2ff0d"/><stop offset="0.0220" stop-color="#e7ff18"/><stop offset="0.0264" stop-color="#ddff22"/><stop offset="0.0308" stop-color="#d2ff2d"/><stop offset="0.0352" stop-color="#c7ff38"/><stop offset="0.0396" stop-color="#bcff43"/><stop offset="0.0441" stop-color="#b2ff4d"/><stop offset="0.0485" stop-color="#a7ff58"/><stop offset="0.0529" stop-color="#9dff62"/><stop offset="0.0573" stop-color="#94ff6b"/><stop offset="0.0617" stop-color="#8bff74"/><stop offset="0.0661" stop-color="#83ff7c"/><stop offset="0.0705" stop-color="#7bff84"/><stop offset="0.0749" stop-color="#75ff8a"/><stop offset="0.0793" stop-color="#6fff90"/><stop offset="0.0837" stop-color="#6aff95"/><stop offset="0.0881" stop-color="#66ff99"/><stop offset="0.0925" stop-color="#63ff9c"/><stop offset="0.0969" stop-color="#62ff9d"/><stop offset="0.1013" stop-color="#61ff9e"/><stop offset="0.1057" stop-color="#61ff9e"/><stop offset="0.1101" stop-color="#64ff9b"/><stop offset="0.1145" stop-color="#67ff98"/><stop offset="0.1189" stop-color="#6cff93"/><stop offset="0.1233" stop-color="#73ff8c"/><stop offset="0.1278" stop-color="#7bff84"/><stop offset="0.1322" stop-color="#84ff7b"/><stop offset="0.1366" stop-color="#8eff71"/><stop offset="0.1410" stop-color="#99ff66"/><stop offset="0.1454" stop-color="#a5ff5a"/><stop offset="0.1498" stop-color="#b2ff4d"/><stop offset="0.1542" stop-color="#bfff40"/><stop offset="0.1586" stop-color="#ccff33"/><stop offset="0.1630" stop-color="#d9ff26"/><stop offset="0.1674" stop-color="#e6ff19"/><stop offset="0.1718" stop-color="#f3ff0c"/><stop offset="0.1762" stop-color="#ffff00"/><stop offset="0.1806" stop-color="#fff300"/><stop offset="0.1850" stop-color="#ffe800"/><stop offset="0.1894" stop-color="#ffde00"/><stop offset="0.1938" stop-color="#ffd600"/><stop offset="0.1982" stop-color="#ffce00"/><stop offset="0.2026" stop-color="#ffc800"/><stop offset="0.2070" stop-color="#ffc400"/><stop offset="0.2115" stop-color="#ffc100"/><stop offset="0.2159" stop-color="#ffbf00"/><stop offset="0.2203" stop-color="#ffc000"/><stop offset="0.2247" stop-color="#ffc100"/><stop offset="0.2291" stop-color="#ffc400"/><stop offset="0.2335" stop-color="#ffc900"/><stop offset="0.2379" stop-color="#ffcf00"/><stop offset="0.2423" stop-color="#ffd700"/><stop offset="0.2467" stop-color="#ffe000"/><stop offset="0.2511" stop-color="#ffea00"/><stop offset="0.2555" stop-color="#fff500"/><stop offset="0.2599" stop-color="#feff01"/><stop offset="0.2643" stop-color="#f1ff0e"/><stop offset="0.2687" stop-color="#e5ff1a"/><stop offset="0.2731" stop-color="#d7ff28"/><stop offset="0.2775" stop-color="#caff35"/><stop offset="0.2819" stop-color="#bdff42"/><stop offset="0.2863" stop-color="#b0ff4f"/><stop offset="0.2907" stop-color="#a4ff5b"/><stop offset="0.2952" stop-color="#98ff67"/><stop offset="0.2996" stop-color="#8dff72"/><stop offset="0.3040" stop-color="#83ff7c"/><stop offset="0.3084" stop-color="#7aff85"/><stop offset="0.3128" stop-color="#72ff8d"/><stop offset="0.3172" stop-color="#6cff93"/><stop offset="0.3216" stop-color="#67ff98"/><stop offset="0.3260" stop-color="#63ff9c"/><stop offset="0.3304" stop-color="#61ff9e"/><stop offset="0.3348" stop-color="#61ff9e"/><stop offset="0.3392" stop-color="#62ff9d"/><stop offset="0.3436" stop-color="#65ff9a"/><stop offset="0.3480" stop-color="#69ff96"/><stop offset="0.3524" stop-color="#6fff90"/><stop offset="0.3568" stop-color="#77ff88"/><stop offset="0.3612" stop-color="#7fff80"/><stop offset="0.3656" stop-color="#89ff76"/><stop offset="0.3700" stop-color="#94ff6b"/><stop offset="0.3744" stop-color="#9fff60"/><stop offset="0.3789" stop-color="#abff54"/><stop offset="0.3833" stop-color="#b8ff47"/><stop offset="0.3877" stop-color="#c5ff3a"/><stop offset="0.3921" stop-color="#d3ff2c"/><stop offset="0.3965" stop-color="#e0ff1f"/><stop offset="0.4009" stop-color="#edff12"/><stop offset="0.4053" stop-color="#faff05"/><stop offset="0.4097" stop-color="#fff800"/><stop offset="0.4141" stop-color="#ffed00"/><stop offset="0.4185" stop-color="#ffe300"/><stop offset="0.4229" stop-color="#ffda00"/><stop offset="0.4273" stop-color="#ffd200"/><stop offset="0.4317" stop-color="#ffcb00"/><stop offset="0.4361" stop-color="#ffc600"/><stop offset="0.4405" stop-color="#ffc200"/><stop offset="0.4449" stop-color="#ffc000"/><stop offset="0.4493" stop-color="#ffbf00"/><stop offset="0.4537" stop-color="#ffc000"/><stop offset="0.4581" stop-color="#ffc300"/><stop offset="0.4626" stop-color="#ffc700"/><stop offset="0.4670" stop-color="#ffcd00"/><stop offset="0.4714" stop-color="#ffd400"/><stop offset="0.4758" stop-color="#ffdd00"/><stop offset="0.4802" stop-color="#ffe600"/><stop offset="0.4846" stop-color="#fff100"/><stop offset="0.4890" stop-color="#fffd00"/><stop offset="0.4934" stop-color="#f5ff0a"/><stop offset="0.4978" stop-color="#e8ff17"/><stop offset="0.5022" stop-color="#dbff24"/><stop offset="0.5066" stop-color="#ceff31"/><stop offset="0.5110" stop-color="#c0ff3f"/><stop offset="0.5154" stop-color="#b3ff4c"/><stop offset="0.5198" stop-color="#a6ff59"/><stop offset="0.5242" stop-color="#9aff65"/><stop offset="0.5286" stop-color="#8fff70"/><stop offset="0.5330" stop-color="#84ff7b"/><stop offset="0.5374" stop-color="#7bff84"/><stop offset="0.5419" stop-color="#73ff8c"/><stop offset="0.5463" stop-color="#6cff93"/><stop offset="0.5507" stop-color="#67ff98"/><stop offset="0.5551" stop-color="#64ff9b"/><stop offset="0.5595" stop-color="#61ff9e"/><stop offset="0.5639" stop-color="#61ff9e"/><stop offset="0.5683" stop-color="#62ff9d"/><stop offset="0.5727" stop-color="#65ff9a"/><stop offset="0.5771" stop-color="#69ff96"/><stop offset="0.5815" stop-color="#6eff91"/><stop offset="0.5859" stop-color="#75ff8a"/><stop offset="0.5903" stop-color="#7dff82"/><stop offset="0.5947" stop-color="#86ff79"/><stop offset="0.5991" stop-color="#91ff6e"/><stop offset="0.6035" stop-color="#9cff63"/><stop offset="0.6079" stop-color="#a8ff57"/><stop offset="0.6123" stop-color="#b4ff4b"/><stop offset="0.6167" stop-color="#c1ff3e"/><stop offset="0.6211" stop-color="#ceff31"/><stop offset="0.6256" stop-color="#dbff24"/><stop offset="0.6300" stop-color="#e8ff17"/><stop offset="0.6344" stop-color="#f4ff0b"/><stop offset="0.6388" stop-color="#fffe00"/><stop offset="0.6432" stop-color="#fff200"/><stop offset="0.6476" stop-color="#ffe800"/><stop offset="0.6520" stop-color="#ffde00"/><stop offset="0.6564" stop-color="#ffd600"/><stop offset="0.6608" stop-color="#ffce00"/><stop offset="0.6652" stop-color="#ffc800"/><stop offset="0.6696" stop-color="#ffc400"/><stop offset="0.6740" stop-color="#ffc100"/><stop offset="0.6784" stop-color="#ffbf00"/><stop offset="0.6828" stop-color="#ffbf00"/><stop offset="0.6872" stop-color="#ffc100"/><stop offset="0.6916" stop-color="#ffc400"/><stop offset="0.6960" stop-color="#ffc900"/><stop offset="0.7004" stop-color="#ffcf00"/><stop offset="0.7048" stop-color="#ffd600"/><stop offset="0.7093" stop-color="#ffde00"/><stop offset="0.7137" stop-color="#ffe800"/><stop offset="0.7181" stop-color="#fff300"/><stop offset="0.7225" stop-color="#fffe00"/><stop offset="0.7269" stop-color="#f4ff0b"/><stop offset="0.7313" stop-color="#e7ff18"/><stop offset="0.7357" stop-color="#dbff24"/><stop offset="0.7401" stop-color="#cdff32"/><stop offset="0.7445" stop-color="#c0ff3f"/><stop offset="0.7489" stop-color="#b4ff4b"/><stop offset="0.7533" stop-color="#a7ff58"/><stop offset="0.7577" stop-color="#9bff64"/><stop offset="0.7621" stop-color="#90ff6f"/><stop offset="0.7665" stop-color="#86ff79"/><stop offset="0.7709" stop-color="#7dff82"/><stop offset="0.7753" stop-color="#75ff8a"/><stop offset="0.7797" stop-color="#6eff91"/><stop offset="0.7841" stop-color="#68ff97"/><stop offset="0.7885" stop-color="#64ff9b"/><stop offset="0.7930" stop-color="#62ff9d"/><stop offset="0.7974" stop-color="#61ff9e"/><stop offset="0.8018" stop-color="#62ff9d"/><stop offset="0.8062" stop-color="#68ff97"/><stop offset="0.8106" stop-color="#71ff8e"/><stop offset="0.8150" stop-color="#7eff81"/><stop offset="0.8194" stop-color="#8eff71"/><stop offset="0.8238" stop-color="#a1ff5e"/><stop offset="0.8282" stop-color="#b6ff49"/><stop offset="0.8326" stop-color="#ccff33"/><stop offset="0.8370" stop-color="#e4ff1b"/><stop offset="0.8414" stop-color="#fbff04"/><stop offset="0.8458" stop-color="#ffed00"/><stop offset="0.8502" stop-color="#ffd800"/><stop offset="0.8546" stop-color="#ffc600"/><stop offset="0.8590" stop-color="#ffb600"/><stop offset="0.8634" stop-color="#ffa900"/><stop offset="0.8678" stop-color="#ffa000"/><stop offset="0.8722" stop-color="#ff9a00"/><stop offset="0.8767" stop-color="#ff6900"/><stop offset="0.8811" stop-color="#ff6000"/><stop offset="0.8855" stop-color="#ff5600"/><stop offset="0.8899" stop-color="#ff4d00"/><stop offset="0.8943" stop-color="#ff4300"/><stop offset="0.8987" stop-color="#ff3a00"/><stop offset="0.9031" stop-color="#ff3700"/><stop offset="0.9075" stop-color="#ff3a00"/><stop offset="0.9119" stop-color="#ff3c00"/><stop offset="0.9163" stop-color="#ff3f00"/><stop offset="0.9207" stop-color="#ff4200"/><stop offset="0.9251" stop-color="#ff4400"/><stop offset="0.9295" stop-color="#ff7500"/><stop offset="0.9339" stop-color="#ffb500"/><stop offset="0.9383" stop-color="#fff200"/><stop offset="0.9427" stop-color="#d9ff26"/><stop offset="0.9471" stop-color="#a5ff5a"/><stop offset="0.9515" stop-color="#71ff8e"/><stop offset="0.9559" stop-color="#5affa5"/><stop offset="0.9604" stop-color="#44ffbb"/><stop offset="0.9648" stop-color="#37ffc8"/><stop offset="0.9692" stop-color="#47ffb8"/><stop offset="0.9736" stop-color="#56ffa9"/><stop offset="0.9780" stop-color="#66ff99"/><stop offset="0.9824" stop-color="#74ff8b"/><stop offset="0.9868" stop-color="#82ff7d"/><stop offset="0.9912" stop-color="#91ff6e"/><stop offset="0.9956" stop-color="#9fff60"/><stop offset="1.0000" stop-color="#adff52"/></linearGradient>
<linearGradient id="g4" x1="0" y1="0" x2="0" y2="1"><stop offset="0.0000" stop-color="#f3ff0c"/><stop offset="0.0044" stop-color="#f0ff0f"/><stop offset="0.0088" stop-color="#ebff14"/><stop offset="0.0132" stop-color="#e6ff19"/><stop offset="0.0176" stop-color="#e0ff1f"/><stop offset="0.0220" stop-color="#daff25"/><stop offset="0.0264" stop-color="#d3ff2c"/><stop offset="0.0308" stop-color="#cbff34"/><stop offset="0.0352" stop-color="#c2ff3d"/><stop offset="0.0396" stop-color="#b9ff46"/><stop offset="0.0441" stop-color="#afff50"/><stop offset="0.0485" stop-color="#a5ff5a"/><stop offset="0.0529" stop-color="#9bff64"/><stop offset="0.0573" stop-color="#90ff6f"/><stop offset="0.0617" stop-color="#84ff7b"/><stop offset="0.0661" stop-color="#78ff87"/><stop offset="0.0705" stop-color="#6cff93"/><stop offset="0.0749" stop-color="#60ff9f"/><stop offset="0.0793" stop-color="#53ffac"/><stop offset="0.0837" stop-color="#46ffb9"/><stop offset="0.0881" stop-color="#39ffc6"/><stop offset="0.0925" stop-color="#2cffd3"/><stop offset="0.0969" stop-color="#1fffe0"/><stop offset="0.1013" stop-color="#12ffed"/><stop offset="0.1057" stop-color="#05fffa"/><stop offset="0.1101" stop-color="#00f7ff"/><stop offset="0.1145" stop-color="#00eaff"/><stop offset="0.1189" stop-color="#00ddff"/><stop offset="0.1233" stop-color="#00d1ff"/><stop offset="0.1278" stop-color="#00c5ff"/><stop offset="0.1322" stop-color="#00b9ff"/><stop offset="0.1366" stop-color="#00adff"/><stop offset="0.1410" stop-color="#00a2ff"/><stop offset="0.1454" stop-color="#0098ff"/><stop offset="0.1498" stop-color="#008eff"/><stop offset="0.1542" stop-color="#0084ff"/><stop offset="0.1586" stop-color="#007bff"/><stop offset="0.1630" stop-color="#0073ff"/><stop offset="0.1674" stop-color="#006bff"/><stop offset="0.1718" stop-color="#0064ff"/><stop offset="0.1762" stop-color="#005eff"/><stop offset="0.1806" stop-color="#0058ff"/><stop offset="0.1850" stop-color="#0053ff"/><stop offset="0.1894" stop-color="#004fff"/><stop offset="0.1938" stop-color="#004bff"/><stop offset="0.1982" stop-color="#0048ff"/><stop offset="0.2026" stop-color="#0046ff"/><stop offset="0.2070" stop-color="#0045ff"/><stop offset="0.2115" stop-color="#0045ff"/><stop offset="0.2159" stop-color="#0045ff"/><stop offset="0.2203" stop-color="#0046ff"/><stop offset="0.2247" stop-color="#0049ff"/><stop offset="0.2291" stop-color="#004bff"/><stop offset="0.2335" stop-color="#004fff"/><stop offset="0.2379" stop-color="#0053ff"/><stop offset="0.2423" stop-color="#0058ff"/><stop offset="0.2467" stop-color="#005eff"/><stop offset="0.2511" stop-color="#0065ff"/><stop offset="0.2555" stop-color="#006cff"/><stop offset="0.2599" stop-color="#0074ff"/><stop offset="0.2643" stop-color="#007cff"/><stop offset="0.2687" stop-color="#0085ff"/><stop offset="0.2731" stop-color="#008fff"/><stop offset="0.2775" stop-color="#0099ff"/><stop offset="0.2819" stop-color="#00a4ff"/><stop offset="0.2863" stop-color="#00afff"/><stop offset="0.2907" stop-color="#00bbff"/><stop offset="0.2952" stop-color="#00c6ff"/><stop offset="0.2996" stop-color="#00d3ff"/><stop offset="0.3040" stop-color="#00dfff"/><stop offset="0.3084" stop-color="#00ecff"/><stop offset="0.3128" stop-color="#00f9ff"/><stop offset="0.3172" stop-color="#07fff8"/><stop offset="0.3216" stop-color="#14ffeb"/><stop offset="0.3260" stop-color="#22ffdd"/><stop offset="0.3304" stop-color="#2fffd0"/><stop offset="0.3348" stop-color="#3cffc3"/><stop offset="0.3392" stop-color="#49ffb6"/><stop offset="0.3436" stop-color="#57ffa8"/><stop offset="0.3480" stop-color="#63ff9c"/><stop offset="0.3524" stop-color="#70ff8f"/><stop offset="0.3568" stop-color="#7cff83"/><stop offset="0.3612" stop-color="#88ff77"/><stop offset="0.3656" stop-color="#94ff6b"/><stop offset="0.3700" stop-color="#9fff60"/><stop offset="0.3744" stop-color="#aaff55"/><stop offset="0.3789" stop-color="#b5ff4a"/><stop offset="0.3833" stop-color="#beff41"/><stop offset="0.3877" stop-color="#c8ff37"/><stop offset="0.3921" stop-color="#d0ff2f"/><stop offset="0.3965" stop-color="#d8ff27"/><stop offset="0.4009" stop-color="#e0ff1f"/><stop offset="0.4053" stop-color="#e6ff19"/><stop offset="0.4097" stop-color="#ecff13"/><stop offset="0.4141" stop-color="#f2ff0d"/><stop offset="0.4185" stop-color="#f6ff09"/><stop offset="0.4229" stop-color="#faff05"/><stop offset="0.4273" stop-color="#fdff02"/><stop offset="0.4317" stop-color="#ffff00"/><stop offset="0.4361" stop-color="#fffd00"/><stop offset="0.4405" stop-color="#fffc00"/><stop offset="0.4449" stop-color="#fffd00"/><stop offset="0.4493" stop-color="#fffd00"/><stop offset="0.4537" stop-color="#ffff00"/><stop offset="0.4581" stop-color="#fdff02"/><stop offset="0.4626" stop-color="#faff05"/><stop offset="0.4670" stop-color="#f6ff09"/><stop offset="0.4714" stop-color="#f2ff0d"/><stop offset="0.4758" stop-color="#edff12"/><stop offset="0.4802" stop-color="#e7ff18"/><stop offset="0.4846" stop-color="#e1ff1e"/><stop offset="0.4890" stop-color="#daff25"/><stop offset="0.4934" stop-color="#d2ff2d"/><stop offset="0.4978" stop-color="#caff35"/><stop offset="0.5022" stop-color="#c2ff3d"/><stop offset="0.5066" stop-color="#b9ff46"/><stop offset="0.5110" stop-color="#afff50"/><stop offset="0.5154" stop-color="#a5ff5a"/><stop offset="0.5198" stop-color="#9bff64"/><stop offset="0.5242" stop-color="#90ff6f"/><stop offset="0.5286" stop-color="#85ff7a"/><stop offset="0.5330" stop-color="#79ff86"/><stop offset="0.5374" stop-color="#6dff92"/><stop offset="0.5419" stop-color="#61ff9e"/><stop offset="0.5463" stop-color="#55ffaa"/><stop offset="0.5507" stop-color="#49ffb6"/><stop offset="0.5551" stop-color="#3cffc3"/><stop offset="0.5595" stop-color="#30ffcf"/><stop offset="0.5639" stop-color="#23ffdc"/><stop offset="0.5683" stop-color="#16ffe9"/><stop offset="0.5727" stop-color="#0afff5"/><stop offset="0.5771" stop-color="#00fcff"/><stop offset="0.5815" stop-color="#00f0ff"/><stop offset="0.5859" stop-color="#00e4ff"/><stop offset="0.5903" stop-color="#00d8ff"/><stop offset="0.5947" stop-color="#00ccff"/><stop offset="0.5991" stop-color="#00c0ff"/><stop offset="0.6035" stop-color="#00b5ff"/><stop offset="0.6079" stop-color="#00abff"/><stop offset="0.6123" stop-color="#00a0ff"/><stop offset="0.6167" stop-color="#0096ff"/><stop offset="0.6211" stop-color="#008dff"/><stop offset="0.6256" stop-color="#0084ff"/><stop offset="0.6300" stop-color="#007bff"/><stop offset="0.6344" stop-color="#0073ff"/><stop offset="0.6388" stop-color="#006cff"/><stop offset="0.6432" stop-color="#0065ff"/><stop offset="0.6476" stop-color="#005fff"/><stop offset="0.6520" stop-color="#0059ff"/><stop offset="0.6564" stop-color="#0054ff"/><stop offset="0.6608" stop-color="#0050ff"/><stop offset="0.6652" stop-color="#004cff"/><stop offset="0.6696" stop-color="#0049ff"/><stop offset="0.6740" stop-color="#0047ff"/><stop offset="0.6784" stop-color="#0046ff"/><stop offset="0.6828" stop-color="#0045ff"/><stop offset="0.6872" stop-color="#0045ff"/><stop offset="0.6916" stop-color="#0046ff"/><stop offset="0.6960" stop-color="#0047ff"/><stop offset="0.7004" stop-color="#0049ff"/><stop offset="0.7048" stop-color="#004bff"/><stop offset="0.7093" stop-color="#004eff"/><stop offset="0.7137" stop-color="#0051ff"/><stop offset="0.7181" stop-color="#0055ff"/><stop offset="0.7225" stop-color="#0058ff"/><stop offset="0.7269" stop-color="#005cff"/><stop offset="0.7313" stop-color="#0061ff"/><stop offset="0.7357" stop-color="#0068ff"/><stop offset="0.7401" stop-color="#0070ff"/><stop offset="0.7445" stop-color="#0079ff"/><stop offset="0.7489" stop-color="#0083ff"/><stop offset="0.7533" stop-color="#008dff"/><stop offset="0.7577" stop-color="#0097ff"/><stop offset="0.7621" stop-color="#00a2ff"/><stop offset="0.7665" stop-color="#00adff"/><stop offset="0.7709" stop-color="#00b9ff"/><stop offset="0.7753" stop-color="#00c6ff"/><stop offset="0.7797" stop-color="#00d4ff"/><stop offset="0.7841" stop-color="#00e3ff"/><stop offset="0.7885" stop-color="#00f4ff"/><stop offset="0.7930" stop-color="#07fff8"/><stop offset="0.7974" stop-color="#1effe1"/><stop offset="0.8018" stop-color="#39ffc6"/><stop offset="0.8062" stop-color="#54ffab"/><stop offset="0.8106" stop-color="#6dff92"/><stop offset="0.8150" stop-color="#83ff7c"/><stop offset="0.8194" stop-color="#9aff65"/><stop offset="0.8238" stop-color="#b0ff4f"/><stop offset="0.8282" stop-color="#c5ff3a"/><stop offset="0.8326" stop-color="#d9ff26"/><stop offset="0.8370" stop-color="#ecff13"/><stop offset="0.8414" stop-color="#fdff02"/><stop offset="0.8458" stop-color="#fff100"/><stop offset="0.8502" stop-color="#ffe200"/><stop offset="0.8546" stop-color="#ffd400"/><stop offset="0.8590" stop-color="#ffc600"/><stop offset="0.8634" stop-color="#ffb900"/><stop offset="0.8678" stop-color="#ffad00"/><stop offset="0.8722" stop-color="#ffa200"/><stop offset="0.8767" stop-color="#ff6b00"/><stop offset="0.8811" stop-color="#ff6b00"/><stop offset="0.8855" stop-color="#ff6b00"/><stop offset="0.8899" stop-color="#ff6b00"/><stop offset="0.8943" stop-color="#ff6b00"/><stop offset="0.8987" stop-color="#ff6b00"/><stop offset="0.9031" stop-color="#ff6d00"/><stop offset="0.9075" stop-color="#ff6f00"/><stop offset="0.9119" stop-color="#ff7200"/><stop offset="0.9163" stop-color="#ff7400"/><stop offset="0.9207" stop-color="#ff7700"/><stop offset="0.9251" stop-color="#ff7a00"/><stop offset="0.9295" stop-color="#ff8b00"/><stop offset="0.9339" stop-color="#ffa000"/><stop offset="0.9383" stop-color="#ffb500"/><stop offset="0.9427" stop-color="#ffca00"/><stop offset="0.9471" stop-color="#ffdf00"/><stop offset="0.9515" stop-color="#fff400"/><stop offset="0.9559" stop-color="#02fffd"/><stop offset="0.9604" stop-color="#00fbff"/><stop offset="0.9648" stop-color="#00f5ff"/><stop offset="0.9692" stop-color="#00efff"/><stop offset="0.9736" stop-color="#00e9ff"/><stop offset="0.9780" stop-color="#008fff"/><stop offset="0.9824" stop-color="#006cff"/><stop offset="0.9868" stop-color="#005dff"/><stop offset="0.9912" stop-color="#004dff"/><stop offset="0.9956" stop-color="#003dff"/><stop offset="1.0000" stop-color="#002eff"/></linearGradient>
<linearGradient id="g5" x1="0" y1="0" x2="0" y2="1"><stop offset="0.0000" stop-color="#e8ff17"/><stop offset="0.0044" stop-color="#d4ff2b"/><stop offset="0.0088" stop-color="#bfff40"/><stop offset="0.0132" stop-color="#a9ff56"/><stop offset="0.0176" stop-color="#93ff6c"/><stop offset="0.0220" stop-color="#7dff82"/><stop offset="0.0264" stop-color="#66ff99"/><stop offset="0.0308" stop-color="#4fffb0"/><stop offset="0.0352" stop-color="#38ffc7"/><stop offset="0.0396" stop-color="#22ffdd"/><stop offset="0.0441" stop-color="#0bfff4"/><stop offset="0.0485" stop-color="#00f5ff"/><stop offset="0.0529" stop-color="#00dfff"/><stop offset="0.0573" stop-color="#00cbff"/><stop offset="0.0617" stop-color="#00b7ff"/><stop offset="0.0661" stop-color="#00a4ff"/><stop offset="0.0705" stop-color="#0092ff"/><stop offset="0.0749" stop-color="#0081ff"/><stop offset="0.0793" stop-color="#0071ff"/><stop offset="0.0837" stop-color="#0063ff"/><stop offset="0.0881" stop-color="#0056ff"/><stop offset="0.0925" stop-color="#004aff"/><stop offset="0.0969" stop-color="#0040ff"/><stop offset="0.1013" stop-color="#0038ff"/><stop offset="0.1057" stop-color="#0031ff"/><stop offset="0.1101" stop-color="#002cff"/><stop offset="0.1145" stop-color="#0028ff"/><stop offset="0.1189" stop-color="#0027ff"/><stop offset="0.1233" stop-color="#0026ff"/><stop offset="0.1278" stop-color="#0028ff"/><stop offset="0.1322" stop-color="#002bff"/><stop offset="0.1366" stop-color="#0031ff"/><stop offset="0.1410" stop-color="#0037ff"/><stop offset="0.1454" stop-color="#0040ff"/><stop offset="0.1498" stop-color="#004aff"/><stop offset="0.1542" stop-color="#0055ff"/><stop offset="0.1586" stop-color="#0062ff"/><stop offset="0.1630" stop-color="#0070ff"/><stop offset="0.1674" stop-color="#0080ff"/><stop offset="0.1718" stop-color="#0091ff"/><stop offset="0.1762" stop-color="#00a3ff"/><stop offset="0.1806" stop-color="#00b6ff"/><stop offset="0.1850" stop-color="#00caff"/><stop offset="0.1894" stop-color="#00deff"/><stop offset="0.1938" stop-color="#00f4ff"/><stop offset="0.1982" stop-color="#0bfff4"/><stop offset="0.2026" stop-color="#21ffde"/><stop offset="0.2070" stop-color="#38ffc7"/><stop offset="0.2115" stop-color="#4fffb0"/><stop offset="0.2159" stop-color="#65ff9a"/><stop offset="0.2203" stop-color="#7cff83"/><stop offset="0.2247" stop-color="#93ff6c"/><stop offset="0.2291" stop-color="#a9ff56"/><stop offset="0.2335" stop-color="#bfff40"/><stop offset="0.2379" stop-color="#d4ff2b"/><stop offset="0.2423" stop-color="#e8ff17"/><stop offset="0.2467" stop-color="#fcff03"/><stop offset="0.2511" stop-color="#fff000"/><stop offset="0.2555" stop-color="#ffde00"/><stop offset="0.2599" stop-color="#ffce00"/><stop offset="0.2643" stop-color="#ffbf00"/><stop offset="0.2687" stop-color="#ffb100"/><stop offset="0.2731" stop-color="#ffa400"/><stop offset="0.2775" stop-color="#ff9a00"/><stop offset="0.2819" stop-color="#ff9000"/><stop offset="0.2863" stop-color="#ff8900"/><stop offset="0.2907" stop-color="#ff8200"/><stop offset="0.2952" stop-color="#ff7e00"/><stop offset="0.2996" stop-color="#ff7b00"/><stop offset="0.3040" stop-color="#ff7a00"/><stop offset="0.3084" stop-color="#ff7b00"/><stop offset="0.3128" stop-color="#ff7e00"/><stop offset="0.3172" stop-color="#ff8200"/><stop offset="0.3216" stop-color="#ff8800"/><stop offset="0.3260" stop-color="#ff8f00"/><stop offset="0.3304" stop-color="#ff9800"/><stop offset="0.3348" stop-color="#ffa300"/><stop offset="0.3392" stop-color="#ffaf00"/><stop offset="0.3436" stop-color="#ffbd00"/><stop offset="0.3480" stop-color="#ffcc00"/><stop offset="0.3524" stop-color="#ffdc00"/><stop offset="0.3568" stop-color="#ffed00"/><stop offset="0.3612" stop-color="#feff01"/><stop offset="0.3656" stop-color="#ebff14"/><stop offset="0.3700" stop-color="#d7ff28"/><stop offset="0.3744" stop-color="#c2ff3d"/><stop offset="0.3789" stop-color="#acff53"/><stop offset="0.3833" stop-color="#96ff69"/><stop offset="0.3877" stop-color="#7fff80"/><stop offset="0.3921" stop-color="#69ff96"/><stop offset="0.3965" stop-color="#52ffad"/><stop offset="0.4009" stop-color="#3bffc4"/><stop offset="0.4053" stop-color="#25ffda"/><stop offset="0.4097" stop-color="#0efff1"/><stop offset="0.4141" stop-color="#00f7ff"/><stop offset="0.4185" stop-color="#00e2ff"/><stop offset="0.4229" stop-color="#00cdff"/><stop offset="0.4273" stop-color="#00b9ff"/><stop offset="0.4317" stop-color="#00a6ff"/><stop offset="0.4361" stop-color="#0094ff"/><stop offset="0.4405" stop-color="#0083ff"/><stop offset="0.4449" stop-color="#0073ff"/><stop offset="0.4493" stop-color="#0064ff"/><stop offset="0.4537" stop-color="#0057ff"/><stop offset="0.4581" stop-color="#004bff"/><stop offset="0.4626" stop-color="#0041ff"/><stop offset="0.4670" stop-color="#0039ff"/><stop offset="0.4714" stop-color="#0032ff"/><stop offset="0.4758" stop-color="#002cff"/><stop offset="0.4802" stop-color="#0029ff"/><stop offset="0.4846" stop-color="#0027ff"/><stop offset="0.4890" stop-color="#0026ff"/><stop offset="0.4934" stop-color="#0028ff"/><stop offset="0.4978" stop-color="#002aff"/><stop offset="0.5022" stop-color="#002fff"/><stop offset="0.5066" stop-color="#0034ff"/><stop offset="0.5110" stop-color="#003bff"/><stop offset="0.5154" stop-color="#0044ff"/><stop offset="0.5198" stop-color="#004dff"/><stop offset="0.5242" stop-color="#0058ff"/><stop offset="0.5286" stop-color="#0065ff"/><stop offset="0.5330" stop-color="#0072ff"/><stop offset="0.5374" stop-color="#0081ff"/><stop offset="0.5419" stop-color="#0090ff"/><stop offset="0.5463" stop-color="#00a1ff"/><stop offset="0.5507" stop-color="#00b2ff"/><stop offset="0.5551" stop-color="#00c4ff"/><stop offset="0.5595" stop-color="#00d7ff"/><stop offset="0.5639" stop-color="#00ebff"/><stop offset="0.5683" stop-color="#00ffff"/><stop offset="0.5727" stop-color="#14ffeb"/><stop offset="0.5771" stop-color="#29ffd6"/><stop offset="0.5815" stop-color="#3dffc2"/><stop offset="0.5859" stop-color="#52ffad"/><stop offset="0.5903" stop-color="#67ff98"/><stop offset="0.5947" stop-color="#7cff83"/><stop offset="0.5991" stop-color="#91ff6e"/><stop offset="0.6035" stop-color="#a5ff5a"/><stop offset="0.6079" stop-color="#b9ff46"/><stop offset="0.6123" stop-color="#cdff32"/><stop offset="0.6167" stop-color="#dfff20"/><stop offset="0.6211" stop-color="#f2ff0d"/><stop offset="0.6256" stop-color="#fffb00"/><stop offset="0.6300" stop-color="#ffeb00"/><stop offset="0.6344" stop-color="#ffdb00"/><stop offset="0.6388" stop-color="#ffcd00"/><stop offset="0.6432" stop-color="#ffbf00"/><stop offset="0.6476" stop-color="#ffb300"/><stop offset="0.6520" stop-color="#ffa800"/><stop offset="0.6564" stop-color="#ff9f00"/><stop offset="0.6608" stop-color="#ff9600"/><stop offset="0.6652" stop-color="#ff8f00"/><stop offset="0.6696" stop-color="#ff8a00"/><stop offset="0.6740" stop-color="#ff8600"/><stop offset="0.6784" stop-color="#ff8300"/><stop offset="0.6828" stop-color="#ff8200"/><stop offset="0.6872" stop-color="#ff8300"/><stop offset="0.6916" stop-color="#ff8500"/><stop offset="0.6960" stop-color="#ff8900"/><stop offset="0.7004" stop-color="#ff8f00"/><stop offset="0.7048" stop-color="#ff9700"/><stop offset="0.7093" stop-color="#ffa000"/><stop offset="0.7137" stop-color="#ffab00"/><stop offset="0.7181" stop-color="#ffb800"/><stop offset="0.7225" stop-color="#ffc600"/><stop offset="0.7269" stop-color="#ffd600"/><stop offset="0.7313" stop-color="#ffe700"/><stop offset="0.7357" stop-color="#fff900"/><stop offset="0.7401" stop-color="#f2ff0d"/><stop offset="0.7445" stop-color="#deff21"/><stop offset="0.7489" stop-color="#c9ff36"/><stop offset="0.7533" stop-color="#b3ff4c"/><stop offset="0.7577" stop-color="#9cff63"/><stop offset="0.7621" stop-color="#85ff7a"/><stop offset="0.7665" stop-color="#6eff91"/><stop offset="0.7709" stop-color="#57ffa8"/><stop offset="0.7753" stop-color="#40ffbf"/><stop offset="0.7797" stop-color="#29ffd6"/><stop offset="0.7841" stop-color="#12ffed"/><stop offset="0.7885" stop-color="#00fbff"/><stop offset="0.7930" stop-color="#00e5ff"/><stop offset="0.7974" stop-color="#00d0ff"/><stop offset="0.8018" stop-color="#00bcff"/><stop offset="0.8062" stop-color="#00a9ff"/><stop offset="0.8106" stop-color="#0097ff"/><stop offset="0.8150" stop-color="#0086ff"/><stop offset="0.8194" stop-color="#0077ff"/><stop offset="0.8238" stop-color="#0069ff"/><stop offset="0.8282" stop-color="#005cff"/><stop offset="0.8326" stop-color="#0052ff"/><stop offset="0.8370" stop-color="#0048ff"/><stop offset="0.8414" stop-color="#0041ff"/><stop offset="0.8458" stop-color="#003cff"/><stop offset="0.8502" stop-color="#0038ff"/><stop offset="0.8546" stop-color="#0036ff"/><stop offset="0.8590" stop-color="#0036ff"/><stop offset="0.8634" stop-color="#0038ff"/><stop offset="0.8678" stop-color="#003aff"/><stop offset="0.8722" stop-color="#003dff"/><stop offset="0.8767" stop-color="#0052ff"/><stop offset="0.8811" stop-color="#006fff"/><stop offset="0.8855" stop-color="#008cff"/><stop offset="0.8899" stop-color="#009cff"/><stop offset="0.8943" stop-color="#00a1ff"/><stop offset="0.8987" stop-color="#00a6ff"/><stop offset="0.9031" stop-color="#00aeff"/><stop offset="0.9075" stop-color="#00b9ff"/><stop offset="0.9119" stop-color="#00c3ff"/><stop offset="0.9163" stop-color="#00ceff"/><stop offset="0.9207" stop-color="#00d8ff"/><stop offset="0.9251" stop-color="#00e3ff"/><stop offset="0.9295" stop-color="#02fffd"/><stop offset="0.9339" stop-color="#27ffd8"/><stop offset="0.9383" stop-color="#4bffb4"/><stop offset="0.9427" stop-color="#72ff8d"/><stop offset="0.9471" stop-color="#a3ff5c"/><stop offset="0.9515" stop-color="#f8ff07"/><stop offset="0.9559" stop-color="#ff8b00"/><stop offset="0.9604" stop-color="#ff5100"/><stop offset="0.9648" stop-color="#ff3300"/><stop offset="0.9692" stop-color="#ff6400"/><stop offset="0.9736" stop-color="#ff9500"/><stop offset="0.9780" stop-color="#8aff75"/><stop offset="0.9824" stop-color="#7cff83"/><stop offset="0.9868" stop-color="#6dff92"/><stop offset="0.9912" stop-color="#5fffa0"/><stop offset="0.9956" stop-color="#51ffae"/><stop offset="1.0000" stop-color="#42ffbd"/></linearGradient>
<linearGradient id="g6" x1="0" y1="0" x2="0" y2="1"><stop offset="0.0000" stop-color="#ff0b00"/><stop offset="0.0044" stop-color="#ff1000"/><stop offset="0.0088" stop-color="#ff1600"/><stop offset="0.0132" stop-color="#ff1d00"/><stop offset="0.0176" stop-color="#ff2500"/><stop offset="0.0220" stop-color="#ff2e00"/><stop offset="0.0264" stop-color="#ff3800"/><stop offset="0.0308" stop-color="#ff4200"/><stop offset="0.0352" stop-color="#ff4d00"/><stop offset="0.0396" stop-color="#ff5900"/><stop offset="0.0441" stop-color="#ff6600"/><stop offset="0.0485" stop-color="#ff7400"/><stop offset="0.0529" stop-color="#ff8200"/><stop offset="0.0573" stop-color="#ff9100"/><stop offset="0.0617" stop-color="#ffa000"/><stop offset="0.0661" stop-color="#ffb000"/><stop offset="0.0705" stop-color="#ffc000"/><stop offset="0.0749" stop-color="#ffd100"/><stop offset="0.0793" stop-color="#ffe300"/><stop offset="0.0837" stop-color="#fff500"/><stop offset="0.0881" stop-color="#f7ff08"/><stop offset="0.0925" stop-color="#e5ff1a"/><stop offset="0.0969" stop-color="#d2ff2d"/><stop offset="0.1013" stop-color="#bfff40"/><stop offset="0.1057" stop-color="#acff53"/><stop offset="0.1101" stop-color="#99ff66"/><stop offset="0.1145" stop-color="#86ff79"/><stop offset="0.1189" stop-color="#73ff8c"/><stop offset="0.1233" stop-color="#60ff9f"/><stop offset="0.1278" stop-color="#4dffb2"/><stop offset="0.1322" stop-color="#3affc5"/><stop offset="0.1366" stop-color="#27ffd8"/><stop offset="0.1410" stop-color="#15ffea"/><stop offset="0.1454" stop-color="#03fffc"/><stop offset="0.1498" stop-color="#00f0ff"/><stop offset="0.1542" stop-color="#00dfff"/><stop offset="0.1586" stop-color="#00ceff"/><stop offset="0.1630" stop-color="#00bdff"/><stop offset="0.1674" stop-color="#00aeff"/><stop offset="0.1718" stop-color="#009eff"/><stop offset="0.1762" stop-color="#008fff"/><stop offset="0.1806" stop-color="#0081ff"/><stop offset="0.1850" stop-color="#0074ff"/><stop offset="0.1894" stop-color="#0067ff"/><stop offset="0.1938" stop-color="#005bff"/><stop offset="0.1982" stop-color="#0050ff"/><stop offset="0.2026" stop-color="#0046ff"/><stop offset="0.2070" stop-color="#003cff"/><stop offset="0.2115" stop-color="#0034ff"/><stop offset="0.2159" stop-color="#002cff"/><stop offset="0.2203" stop-color="#0025ff"/><stop offset="0.2247" stop-color="#001fff"/><stop offset="0.2291" stop-color="#001aff"/><stop offset="0.2335" stop-color="#0016ff"/><stop offset="0.2379" stop-color="#0013ff"/><stop offset="0.2423" stop-color="#0011ff"/><stop offset="0.2467" stop-color="#0010ff"/><stop offset="0.2511" stop-color="#000fff"/><stop offset="0.2555" stop-color="#0010ff"/><stop offset="0.2599" stop-color="#0012ff"/><stop offset="0.2643" stop-color="#0014ff"/><stop offset="0.2687" stop-color="#0017ff"/><stop offset="0.2731" stop-color="#001bff"/><stop offset="0.2775" stop-color="#0020ff"/><stop offset="0.2819" stop-color="#0026ff"/><stop offset="0.2863" stop-color="#002cff"/><stop offset="0.2907" stop-color="#0033ff"/><stop offset="0.2952" stop-color="#003bff"/><stop offset="0.2996" stop-color="#0044ff"/><stop offset="0.3040" stop-color="#004dff"/><stop offset="0.3084" stop-color="#0058ff"/><stop offset="0.3128" stop-color="#0062ff"/><stop offset="0.3172" stop-color="#006eff"/><stop offset="0.3216" stop-color="#007aff"/><stop offset="0.3260" stop-color="#0087ff"/><stop offset="0.3304" stop-color="#0094ff"/><stop offset="0.3348" stop-color="#00a2ff"/><stop offset="0.3392" stop-color="#00b0ff"/><stop offset="0.3436" stop-color="#00bfff"/><stop offset="0.3480" stop-color="#00ceff"/><stop offset="0.3524" stop-color="#00deff"/><stop offset="0.3568" stop-color="#00eeff"/><stop offset="0.3612" stop-color="#00feff"/><stop offset="0.3656" stop-color="#10ffef"/><stop offset="0.3700" stop-color="#21ffde"/><stop offset="0.3744" stop-color="#32ffcd"/><stop offset="0.3789" stop-color="#44ffbb"/><stop offset="0.3833" stop-color="#55ffaa"/><stop offset="0.3877" stop-color="#67ff98"/><stop offset="0.3921" stop-color="#79ff86"/><stop offset="0.3965" stop-color="#8aff75"/><stop offset="0.4009" stop-color="#9cff63"/><stop offset="0.4053" stop-color="#aeff51"/><stop offset="0.4097" stop-color="#c0ff3f"/><stop offset="0.4141" stop-color="#d1ff2e"/><stop offset="0.4185" stop-color="#e2ff1d"/><stop offset="0.4229" stop-color="#f3ff0c"/><stop offset="0.4273" stop-color="#fffa00"/><stop offset="0.4317" stop-color="#ffe900"/><stop offset="0.4361" stop-color="#ffd900"/><stop offset="0.4405" stop-color="#ffc900"/><stop offset="0.4449" stop-color="#ffb900"/><stop offset="0.4493" stop-color="#ffaa00"/><stop offset="0.4537" stop-color="#ff9b00"/><stop offset="0.4581" stop-color="#ff8d00"/><stop offset="0.4626" stop-color="#ff8000"/><stop offset="0.4670" stop-color="#ff7300"/><stop offset="0.4714" stop-color="#ff6600"/><stop offset="0.4758" stop-color="#ff5a00"/><stop offset="0.4802" stop-color="#ff4f00"/><stop offset="0.4846" stop-color="#ff4400"/><stop offset="0.4890" stop-color="#ff3b00"/><stop offset="0.4934" stop-color="#ff3100"/><stop offset="0.4978" stop-color="#ff2900"/><stop offset="0.5022" stop-color="#ff2100"/><stop offset="0.5066" stop-color="#ff1a00"/><stop offset="0.5110" stop-color="#ff1400"/><stop offset="0.5154" stop-color="#ff0f00"/><stop offset="0.5198" stop-color="#ff0a00"/><stop offset="0.5242" stop-color="#ff0700"/><stop offset="0.5286" stop-color="#ff0400"/><stop offset="0.5330" stop-color="#ff0200"/><stop offset="0.5374" stop-color="#ff0000"/><stop offset="0.5419" stop-color="#ff0000"/><stop offset="0.5463" stop-color="#ff0000"/><stop offset="0.5507" stop-color="#ff0200"/><stop offset="0.5551" stop-color="#ff0400"/><stop offset="0.5595" stop-color="#ff0700"/><stop offset="0.5639" stop-color="#ff0b00"/><stop offset="0.5683" stop-color="#ff0f00"/><stop offset="0.5727" stop-color="#ff1400"/><stop offset="0.5771" stop-color="#ff1a00"/><stop offset="0.5815" stop-color="#ff2100"/><stop offset="0.5859" stop-color="#ff2900"/><stop offset="0.5903" stop-color="#ff3100"/><stop offset="0.5947" stop-color="#ff3a00"/><stop offset="0.5991" stop-color="#ff4400"/><stop offset="0.6035" stop-color="#ff4f00"/><stop offset="0.6079" stop-color="#ff5a00"/><stop offset="0.6123" stop-color="#ff6500"/><stop offset="0.6167" stop-color="#ff7200"/><stop offset="0.6211" stop-color="#ff7f00"/><stop offset="0.6256" stop-color="#ff8c00"/><stop offset="0.6300" stop-color="#ff9a00"/><stop offset="0.6344" stop-color="#ffa800"/><stop offset="0.6388" stop-color="#ffb700"/><stop offset="0.6432" stop-color="#ffc600"/><stop offset="0.6476" stop-color="#ffd600"/><stop offset="0.6520" stop-color="#ffe600"/><stop offset="0.6564" stop-color="#fff600"/><stop offset="0.6608" stop-color="#f7ff08"/><stop offset="0.6652" stop-color="#e6ff19"/><stop offset="0.6696" stop-color="#d5ff2a"/><stop offset="0.6740" stop-color="#c4ff3b"/><stop offset="0.6784" stop-color="#b3ff4c"/><stop offset="0.6828" stop-color="#a2ff5d"/><stop offset="0.6872" stop-color="#91ff6e"/><stop offset="0.6916" stop-color="#7fff80"/><stop offset="0.6960" stop-color="#6eff91"/><stop offset="0.7004" stop-color="#5dffa2"/><stop offset="0.7048" stop-color="#4cffb3"/><stop offset="0.7093" stop-color="#3bffc4"/><stop offset="0.7137" stop-color="#2affd5"/><stop offset="0.7181" stop-color="#1affe5"/><stop offset="0.7225" stop-color="#09fff6"/><stop offset="0.7269" stop-color="#00f8ff"/><stop offset="0.7313" stop-color="#00e9ff"/><stop offset="0.7357" stop-color="#00daff"/><stop offset="0.7401" stop-color="#00cbff"/><stop offset="0.7445" stop-color="#00bdff"/><stop offset="0.7489" stop-color="#00afff"/><stop offset="0.7533" stop-color="#00a2ff"/><stop offset="0.7577" stop-color="#0095ff"/><stop offset="0.7621" stop-color="#0089ff"/><stop offset="0.7665" stop-color="#007dff"/><stop offset="0.7709" stop-color="#0072ff"/><stop offset="0.7753" stop-color="#0068ff"/><stop offset="0.7797" stop-color="#005eff"/><stop offset="0.7841" stop-color="#0056ff"/><stop offset="0.7885" stop-color="#004dff"/><stop offset="0.7930" stop-color="#0046ff"/><stop offset="0.7974" stop-color="#003fff"/><stop offset="0.8018" stop-color="#0039ff"/><stop offset="0.8062" stop-color="#0034ff"/><stop offset="0.8106" stop-color="#0030ff"/><stop offset="0.8150" stop-color="#002cff"/><stop offset="0.8194" stop-color="#002aff"/><stop offset="0.8238" stop-color="#0028ff"/><stop offset="0.8282" stop-color="#0027ff"/><stop offset="0.8326" stop-color="#0026ff"/><stop offset="0.8370" stop-color="#0028ff"/><stop offset="0.8414" stop-color="#002bff"/><stop offset="0.8458" stop-color="#002fff"/><stop offset="0.8502" stop-color="#0035ff"/><stop offset="0.8546" stop-color="#003bff"/><stop offset="0.8590" stop-color="#0040ff"/><stop offset="0.8634" stop-color="#0046ff"/><stop offset="0.8678" stop-color="#004aff"/><stop offset="0.8722" stop-color="#004cff"/><stop offset="0.8767" stop-color="#00f1ff"/><stop offset="0.8811" stop-color="#2cffd3"/><stop offset="0.8855" stop-color="#65ff9a"/><stop offset="0.8899" stop-color="#8dff72"/><stop offset="0.8943" stop-color="#a7ff58"/><stop offset="0.8987" stop-color="#c1ff3e"/><stop offset="0.9031" stop-color="#d0ff2f"/><stop offset="0.9075" stop-color="#d8ff27"/><stop offset="0.9119" stop-color="#e0ff1f"/><stop offset="0.9163" stop-color="#e8ff17"/><stop offset="0.9207" stop-color="#f0ff0f"/><stop offset="0.9251" stop-color="#f8ff07"/><stop offset="0.9295" stop-color="#fff500"/><stop offset="0.9339" stop-color="#ffe100"/><stop offset="0.9383" stop-color="#ffcd00"/><stop offset="0.9427" stop-color="#ffb900"/><stop offset="0.9471" stop-color="#ffb200"/><stop offset="0.9515" stop-color="#ffab00"/><stop offset="0.9559" stop-color="#ffa500"/><stop offset="0.9604" stop-color="#ff9e00"/><stop offset="0.9648" stop-color="#ff9d00"/><stop offset="0.9692" stop-color="#ffad00"/><stop offset="0.9736" stop-color="#ffbc00"/><stop offset="0.9780" stop-color="#ffca00"/><stop offset="0.9824" stop-color="#ffd200"/><stop offset="0.9868" stop-color="#ffdb00"/><stop offset="0.9912" stop-color="#ffe400"/><stop offset="0.9956" stop-color="#ffec00"/><stop offset="1.0000" stop-color="#fff500"/></linearGradient>
<linearGradient id="g7" x1="0" y1="0" x2="0" y2="1"><stop offset="0.0000" stop-color="#6bff94"/><stop offset="0.0044" stop-color="#60ff9f"/><stop offset="0.0088" stop-color="#55ffaa"/><stop offset="0.0132" stop-color="#4affb5"/><stop offset="0.0176" stop-color="#3fffc0"/><stop offset="0.0220" stop-color="#33ffcc"/><stop offset="0.0264" stop-color="#28ffd7"/><stop offset="0.0308" stop-color="#1cffe3"/><stop offset="0.0352" stop-color="#11ffee"/><stop offset="0.0396" stop-color="#06fff9"/><stop offset="0.0441" stop-color="#00f9ff"/><stop offset="0.0485" stop-color="#00eeff"/><stop offset="0.0529" stop-color="#00e3ff"/><stop offset="0.0573" stop-color="#00d8ff"/><stop offset="0.0617" stop-color="#00cdff"/><stop offset="0.0661" stop-color="#00c2ff"/><stop offset="0.0705" stop-color="#00b8ff"/><stop offset="0.0749" stop-color="#00adff"/><stop offset="0.0793" stop-color="#00a3ff"/><stop offset="0.0837" stop-color="#009aff"/><stop offset="0.0881" stop-color="#0090ff"/><stop offset="0.0925" stop-color="#0087ff"/><stop offset="0.0969" stop-color="#007eff"/><stop offset="0.1013" stop-color="#0075ff"/><stop offset="0.1057" stop-color="#006dff"/><stop offset="0.1101" stop-color="#0065ff"/><stop offset="0.1145" stop-color="#005dff"/><stop offset="0.1189" stop-color="#0056ff"/><stop offset="0.1233" stop-color="#004fff"/><stop offset="0.1278" stop-color="#0049ff"/><stop offset="0.1322" stop-color="#0043ff"/><stop offset="0.1366" stop-color="#003dff"/><stop offset="0.1410" stop-color="#0038ff"/><stop offset="0.1454" stop-color="#0033ff"/><stop offset="0.1498" stop-color="#002fff"/><stop offset="0.1542" stop-color="#002bff"/><stop offset="0.1586" stop-color="#0028ff"/><stop offset="0.1630" stop-color="#0025ff"/><stop offset="0.1674" stop-color="#0023ff"/><stop offset="0.1718" stop-color="#0021ff"/><stop offset="0.1762" stop-color="#0020ff"/><stop offset="0.1806" stop-color="#001fff"/><stop offset="0.1850" stop-color="#001fff"/><stop offset="0.1894" stop-color="#001fff"/><stop offset="0.1938" stop-color="#001fff"/><stop offset="0.1982" stop-color="#0021ff"/><stop offset="0.2026" stop-color="#0022ff"/><stop offset="0.2070" stop-color="#0025ff"/><stop offset="0.2115" stop-color="#0027ff"/><stop offset="0.2159" stop-color="#002aff"/><stop offset="0.2203" stop-color="#002eff"/><stop offset="0.2247" stop-color="#0032ff"/><stop offset="0.2291" stop-color="#0037ff"/><stop offset="0.2335" stop-color="#003cff"/><stop offset="0.2379" stop-color="#0041ff"/><stop offset="0.2423" stop-color="#0047ff"/><stop offset="0.2467" stop-color="#004eff"/><stop offset="0.2511" stop-color="#0054ff"/><stop offset="0.2555" stop-color="#005bff"/><stop offset="0.2599" stop-color="#0063ff"/><stop offset="0.2643" stop-color="#006bff"/><stop offset="0.2687" stop-color="#0073ff"/><stop offset="0.2731" stop-color="#007cff"/><stop offset="0.2775" stop-color="#0085ff"/><stop offset="0.2819" stop-color="#008eff"/><stop offset="0.2863" stop-color="#0097ff"/><stop offset="0.2907" stop-color="#00a1ff"/><stop offset="0.2952" stop-color="#00abff"/><stop offset="0.2996" stop-color="#00b5ff"/><stop offset="0.3040" stop-color="#00c0ff"/><stop offset="0.3084" stop-color="#00cbff"/><stop offset="0.3128" stop-color="#00d5ff"/><stop offset="0.3172" stop-color="#00e0ff"/><stop offset="0.3216" stop-color="#00ebff"/><stop offset="0.3260" stop-color="#00f7ff"/><stop offset="0.3304" stop-color="#03fffc"/><stop offset="0.3348" stop-color="#0efff1"/><stop offset="0.3392" stop-color="#1affe5"/><stop offset="0.3436" stop-color="#25ffda"/><stop offset="0.3480" stop-color="#31ffce"/><stop offset="0.3524" stop-color="#3cffc3"/><stop offset="0.3568" stop-color="#47ffb8"/><stop offset="0.3612" stop-color="#53ffac"/><stop offset="0.3656" stop-color="#5effa1"/><stop offset="0.3700" stop-color="#69ff96"/><stop offset="0.3744" stop-color="#74ff8b"/><stop offset="0.3789" stop-color="#7fff80"/><stop offset="0.3833" stop-color="#89ff76"/><stop offset="0.3877" stop-color="#94ff6b"/><stop offset="0.3921" stop-color="#9eff61"/><stop offset="0.3965" stop-color="#a8ff57"/><stop offset="0.4009" stop-color="#b2ff4d"/><stop offset="0.4053" stop-color="#bbff44"/><stop offset="0.4097" stop-color="#c4ff3b"/><stop offset="0.4141" stop-color="#cdff32"/><stop offset="0.4185" stop-color="#d5ff2a"/><stop offset="0.4229" stop-color="#deff21"/><stop offset="0.4273" stop-color="#e5ff1a"/><stop offset="0.4317" stop-color="#edff12"/><stop offset="0.4361" stop-color="#f4ff0b"/><stop offset="0.4405" stop-color="#fbff04"/><stop offset="0.4449" stop-color="#fffd00"/><stop offset="0.4493" stop-color="#fff700"/><stop offset="0.4537" stop-color="#fff200"/><stop offset="0.4581" stop-color="#ffed00"/><stop offset="0.4626" stop-color="#ffe900"/><stop offset="0.4670" stop-color="#ffe500"/><stop offset="0.4714" stop-color="#ffe100"/><stop offset="0.4758" stop-color="#ffde00"/><stop offset="0.4802" stop-color="#ffdc00"/><stop offset="0.4846" stop-color="#ffda00"/><stop offset="0.4890" stop-color="#ffd800"/><stop offset="0.4934" stop-color="#ffd700"/><stop offset="0.4978" stop-color="#ffd600"/><stop offset="0.5022" stop-color="#ffd600"/><stop offset="0.5066" stop-color="#ffd700"/><stop offset="0.5110" stop-color="#ffd800"/><stop offset="0.5154" stop-color="#ffd900"/><stop offset="0.5198" stop-color="#ffdb00"/><stop offset="0.5242" stop-color="#ffdd00"/><stop offset="0.5286" stop-color="#ffe000"/><stop offset="0.5330" stop-color="#ffe300"/><stop offset="0.5374" stop-color="#ffe700"/><stop offset="0.5419" stop-color="#ffeb00"/><stop offset="0.5463" stop-color="#fff000"/><stop offset="0.5507" stop-color="#fff500"/><stop offset="0.5551" stop-color="#fffb00"/><stop offset="0.5595" stop-color="#fdff02"/><stop offset="0.5639" stop-color="#f7ff08"/><stop offset="0.5683" stop-color="#f0ff0f"/><stop offset="0.5727" stop-color="#e9ff16"/><stop offset="0.5771" stop-color="#e1ff1e"/><stop offset="0.5815" stop-color="#daff25"/><stop offset="0.5859" stop-color="#d1ff2e"/><stop offset="0.5903" stop-color="#c9ff36"/><stop offset="0.5947" stop-color="#c0ff3f"/><stop offset="0.5991" stop-color="#b7ff48"/><stop offset="0.6035" stop-color="#adff52"/><stop offset="0.6079" stop-color="#a4ff5b"/><stop offset="0.6123" stop-color="#9aff65"/><stop offset="0.6167" stop-color="#90ff6f"/><stop offset="0.6211" stop-color="#85ff7a"/><stop offset="0.6256" stop-color="#7bff84"/><stop offset="0.6300" stop-color="#70ff8f"/><stop offset="0.6344" stop-color="#65ff9a"/><stop offset="0.6388" stop-color="#5affa5"/><stop offset="0.6432" stop-color="#4fffb0"/><stop offset="0.6476" stop-color="#44ffbb"/><stop offset="0.6520" stop-color="#39ffc6"/><stop offset="0.6564" stop-color="#2effd1"/><stop offset="0.6608" stop-color="#23ffdc"/><stop offset="0.6652" stop-color="#17ffe8"/><stop offset="0.6696" stop-color="#0cfff3"/><stop offset="0.6740" stop-color="#01fffe"/><stop offset="0.6784" stop-color="#00f5ff"/><stop offset="0.6828" stop-color="#00eaff"/><stop offset="0.6872" stop-color="#00dfff"/><stop offset="0.6916" stop-color="#00d5ff"/><stop offset="0.6960" stop-color="#00caff"/><stop offset="0.7004" stop-color="#00c0ff"/><stop offset="0.7048" stop-color="#00b6ff"/><stop offset="0.7093" stop-color="#00acff"/><stop offset="0.7137" stop-color="#00a2ff"/><stop offset="0.7181" stop-color="#0098ff"/><stop offset="0.7225" stop-color="#008fff"/><stop offset="0.7269" stop-color="#0086ff"/><stop offset="0.7313" stop-color="#007eff"/><stop offset="0.7357" stop-color="#0075ff"/><stop offset="0.7401" stop-color="#006eff"/><stop offset="0.7445" stop-color="#0066ff"/><stop offset="0.7489" stop-color="#005fff"/><stop offset="0.7533" stop-color="#0058ff"/><stop offset="0.7577" stop-color="#0052ff"/><stop offset="0.7621" stop-color="#004bff"/><stop offset="0.7665" stop-color="#0046ff"/><stop offset="0.7709" stop-color="#0041ff"/><stop offset="0.7753" stop-color="#003cff"/><stop offset="0.7797" stop-color="#0038ff"/><stop offset="0.7841" stop-color="#0034ff"/><stop offset="0.7885" stop-color="#0030ff"/><stop offset="0.7930" stop-color="#002eff"/><stop offset="0.7974" stop-color="#002bff"/><stop offset="0.8018" stop-color="#0029ff"/><stop offset="0.8062" stop-color="#0028ff"/><stop offset="0.8106" stop-color="#0027ff"/><stop offset="0.8150" stop-color="#0026ff"/><stop offset="0.8194" stop-color="#0026ff"/><stop offset="0.8238" stop-color="#0028ff"/><stop offset="0.8282" stop-color="#002bff"/><stop offset="0.8326" stop-color="#002fff"/><stop offset="0.8370" stop-color="#0034ff"/><stop offset="0.8414" stop-color="#003aff"/><stop offset="0.8458" stop-color="#0040ff"/><stop offset="0.8502" stop-color="#0046ff"/><stop offset="0.8546" stop-color="#004cff"/><stop offset="0.8590" stop-color="#0052ff"/><stop offset="0.8634" stop-color="#0056ff"/><stop offset="0.8678" stop-color="#0059ff"/><stop offset="0.8722" stop-color="#005bff"/><stop offset="0.8767" stop-color="#0071ff"/><stop offset="0.8811" stop-color="#008cff"/><stop offset="0.8855" stop-color="#00a7ff"/><stop offset="0.8899" stop-color="#00c2ff"/><stop offset="0.8943" stop-color="#00ddff"/><stop offset="0.8987" stop-color="#00f8ff"/><stop offset="0.9031" stop-color="#0bfff4"/><stop offset="0.9075" stop-color="#16ffe9"/><stop offset="0.9119" stop-color="#20ffdf"/><stop offset="0.9163" stop-color="#2bffd4"/><stop offset="0.9207" stop-color="#35ffca"/><stop offset="0.9251" stop-color="#40ffbf"/><stop offset="0.9295" stop-color="#44ffbb"/><stop offset="0.9339" stop-color="#47ffb8"/><stop offset="0.9383" stop-color="#4affb5"/><stop offset="0.9427" stop-color="#4cffb3"/><stop offset="0.9471" stop-color="#4fffb0"/><stop offset="0.9515" stop-color="#52ffad"/><stop offset="0.9559" stop-color="#ff9200"/><stop offset="0.9604" stop-color="#ff7600"/><stop offset="0.9648" stop-color="#ff5a00"/><stop offset="0.9692" stop-color="#ff3e00"/><stop offset="0.9736" stop-color="#ff2200"/><stop offset="0.9780" stop-color="#ff1200"/><stop offset="0.9824" stop-color="#ff1b00"/><stop offset="0.9868" stop-color="#ff2300"/><stop offset="0.9912" stop-color="#ff2c00"/><stop offset="0.9956" stop-color="#ff3500"/><stop offset="1.0000" stop-color="#ff3d00"/></linearGradient>
<linearGradient id="g8" x1="0" y1="0" x2="0" y2="1"><stop offset="0.0000" stop-color="#ffde00"/><stop offset="0.0044" stop-color="#ffe600"/><stop offset="0.0088" stop-color="#ffef00"/><stop offset="0.0132" stop-color="#fff800"/><stop offset="0.0176" stop-color="#feff01"/><stop offset="0.0220" stop-color="#f5ff0a"/><stop offset="0.0264" stop-color="#ecff13"/><stop offset="0.0308" stop-color="#e2ff1d"/><stop offset="0.0352" stop-color="#d9ff26"/><stop offset="0.0396" stop-color="#d0ff2f"/><stop offset="0.0441" stop-color="#c6ff39"/><stop offset="0.0485" stop-color="#bdff42"/><stop offset="0.0529" stop-color="#b3ff4c"/><stop offset="0.0573" stop-color="#a9ff56"/><stop offset="0.0617" stop-color="#a0ff5f"/><stop offset="0.0661" stop-color="#96ff69"/><stop offset="0.0705" stop-color="#8dff72"/><stop offset="0.0749" stop-color="#83ff7c"/><stop offset="0.0793" stop-color="#79ff86"/><stop offset="0.0837" stop-color="#70ff8f"/><stop offset="0.0881" stop-color="#67ff98"/><stop offset="0.0925" stop-color="#5effa1"/><stop offset="0.0969" stop-color="#55ffaa"/><stop offset="0.1013" stop-color="#4cffb3"/><stop offset="0.1057" stop-color="#43ffbc"/><stop offset="0.1101" stop-color="#3affc5"/><stop offset="0.1145" stop-color="#32ffcd"/><stop offset="0.1189" stop-color="#2affd5"/><stop offset="0.1233" stop-color="#22ffdd"/><stop offset="0.1278" stop-color="#1affe5"/><stop offset="0.1322" stop-color="#12ffed"/><stop offset="0.1366" stop-color="#0bfff4"/><stop offset="0.1410" stop-color="#04fffb"/><stop offset="0.1454" stop-color="#00fcff"/><stop offset="0.1498" stop-color="#00f6ff"/><stop offset="0.1542" stop-color="#00f0ff"/><stop offset="0.1586" stop-color="#00eaff"/><stop offset="0.1630" stop-color="#00e5ff"/><stop offset="0.1674" stop-color="#00e0ff"/><stop offset="0.1718" stop-color="#00dbff"/><stop offset="0.1762" stop-color="#00d7ff"/><stop offset="0.1806" stop-color="#00d2ff"/><stop offset="0.1850" stop-color="#00cfff"/><stop offset="0.1894" stop-color="#00ccff"/><stop offset="0.1938" stop-color="#00c9ff"/><stop offset="0.1982" stop-color="#00c6ff"/><stop offset="0.2026" stop-color="#00c4ff"/><stop offset="0.2070" stop-color="#00c2ff"/><stop offset="0.2115" stop-color="#00c1ff"/><stop offset="0.2159" stop-color="#00c0ff"/><stop offset="0.2203" stop-color="#00bfff"/><stop offset="0.2247" stop-color="#00bfff"/><stop offset="0.2291" stop-color="#00bfff"/><stop offset="0.2335" stop-color="#00c0ff"/><stop offset="0.2379" stop-color="#00c1ff"/><stop offset="0.2423" stop-color="#00c2ff"/><stop offset="0.2467" stop-color="#00c3ff"/><stop offset="0.2511" stop-color="#00c5ff"/><stop offset="0.2555" stop-color="#00c7ff"/><stop offset="0.2599" stop-color="#00caff"/><stop offset="0.2643" stop-color="#00ccff"/><stop offset="0.2687" stop-color="#00cfff"/><stop offset="0.2731" stop-color="#00d2ff"/><stop offset="0.2775" stop-color="#00d6ff"/><stop offset="0.2819" stop-color="#00daff"/><stop offset="0.2863" stop-color="#00deff"/><stop offset="0.2907" stop-color="#00e2ff"/><stop offset="0.2952" stop-color="#00e7ff"/><stop offset="0.2996" stop-color="#00ecff"/><stop offset="0.3040" stop-color="#00f1ff"/><stop offset="0.3084" stop-color="#00f7ff"/><stop offset="0.3128" stop-color="#00fcff"/><stop offset="0.3172" stop-color="#03fffc"/><stop offset="0.3216" stop-color="#09fff6"/><stop offset="0.3260" stop-color="#10ffef"/><stop offset="0.3304" stop-color="#16ffe9"/><stop offset="0.3348" stop-color="#1dffe2"/><stop offset="0.3392" stop-color="#24ffdb"/><stop offset="0.3436" stop-color="#2cffd3"/><stop offset="0.3480" stop-color="#33ffcc"/><stop offset="0.3524" stop-color="#3bffc4"/><stop offset="0.3568" stop-color="#43ffbc"/><stop offset="0.3612" stop-color="#4bffb4"/><stop offset="0.3656" stop-color="#53ffac"/><stop offset="0.3700" stop-color="#5bffa4"/><stop offset="0.3744" stop-color="#63ff9c"/><stop offset="0.3789" stop-color="#6cff93"/><stop offset="0.3833" stop-color="#75ff8a"/><stop offset="0.3877" stop-color="#7eff81"/><stop offset="0.3921" stop-color="#87ff78"/><stop offset="0.3965" stop-color="#90ff6f"/><stop offset="0.4009" stop-color="#99ff66"/><stop offset="0.4053" stop-color="#a2ff5d"/><stop offset="0.4097" stop-color="#abff54"/><stop offset="0.4141" stop-color="#b4ff4b"/><stop offset="0.4185" stop-color="#beff41"/><stop offset="0.4229" stop-color="#c7ff38"/><stop offset="0.4273" stop-color="#d1ff2e"/><stop offset="0.4317" stop-color="#daff25"/><stop offset="0.4361" stop-color="#e4ff1b"/><stop offset="0.4405" stop-color="#edff12"/><stop offset="0.4449" stop-color="#f6ff09"/><stop offset="0.4493" stop-color="#fffe00"/><stop offset="0.4537" stop-color="#fff500"/><stop offset="0.4581" stop-color="#ffeb00"/><stop offset="0.4626" stop-color="#ffe200"/><stop offset="0.4670" stop-color="#ffd900"/><stop offset="0.4714" stop-color="#ffd000"/><stop offset="0.4758" stop-color="#ffc700"/><stop offset="0.4802" stop-color="#ffbe00"/><stop offset="0.4846" stop-color="#ffb500"/><stop offset="0.4890" stop-color="#ffac00"/><stop offset="0.4934" stop-color="#ffa400"/><stop offset="0.4978" stop-color="#ff9b00"/><stop offset="0.5022" stop-color="#ff9300"/><stop offset="0.5066" stop-color="#ff8b00"/><stop offset="0.5110" stop-color="#ff8300"/><stop offset="0.5154" stop-color="#ff7b00"/><stop offset="0.5198" stop-color="#ff7300"/><stop offset="0.5242" stop-color="#ff6c00"/><stop offset="0.5286" stop-color="#ff6500"/><stop offset="0.5330" stop-color="#ff5d00"/><stop offset="0.5374" stop-color="#ff5700"/><stop offset="0.5419" stop-color="#ff5000"/><stop offset="0.5463" stop-color="#ff4a00"/><stop offset="0.5507" stop-color="#ff4300"/><stop offset="0.5551" stop-color="#ff3d00"/><stop offset="0.5595" stop-color="#ff3800"/><stop offset="0.5639" stop-color="#ff3200"/><stop offset="0.5683" stop-color="#ff2d00"/><stop offset="0.5727" stop-color="#ff2800"/><stop offset="0.5771" stop-color="#ff2300"/><stop offset="0.5815" stop-color="#ff1f00"/><stop offset="0.5859" stop-color="#ff1b00"/><stop offset="0.5903" stop-color="#ff1700"/><stop offset="0.5947" stop-color="#ff1300"/><stop offset="0.5991" stop-color="#ff1000"/><stop offset="0.6035" stop-color="#ff0d00"/><stop offset="0.6079" stop-color="#ff0a00"/><stop offset="0.6123" stop-color="#ff0800"/><stop offset="0.6167" stop-color="#ff0600"/><stop offset="0.6211" stop-color="#ff0400"/><stop offset="0.6256" stop-color="#ff0300"/><stop offset="0.6300" stop-color="#ff0200"/><stop offset="0.6344" stop-color="#ff0100"/><stop offset="0.6388" stop-color="#ff0000"/><stop offset="0.6432" stop-color="#ff0000"/><stop offset="0.6476" stop-color="#ff0000"/><stop offset="0.6520" stop-color="#ff0100"/><stop offset="0.6564" stop-color="#ff0100"/><stop offset="0.6608" stop-color="#ff0200"/><stop offset="0.6652" stop-color="#ff0400"/><stop offset="0.6696" stop-color="#ff0500"/><stop offset="0.6740" stop-color="#ff0700"/><stop offset="0.6784" stop-color="#ff0900"/><stop offset="0.6828" stop-color="#ff0b00"/><stop offset="0.6872" stop-color="#ff0d00"/><stop offset="0.6916" stop-color="#ff1000"/><stop offset="0.6960" stop-color="#ff1300"/><stop offset="0.7004" stop-color="#ff1500"/><stop offset="0.7048" stop-color="#ff1800"/><stop offset="0.7093" stop-color="#ff1b00"/><stop offset="0.7137" stop-color="#ff1e00"/><stop offset="0.7181" stop-color="#ff2100"/><stop offset="0.7225" stop-color="#ff2500"/><stop offset="0.7269" stop-color="#ff2a00"/><stop offset="0.7313" stop-color="#ff2f00"/><stop offset="0.7357" stop-color="#ff3500"/><stop offset="0.7401" stop-color="#ff3c00"/><stop offset="0.7445" stop-color="#ff4200"/><stop offset="0.7489" stop-color="#ff4900"/><stop offset="0.7533" stop-color="#ff5100"/><stop offset="0.7577" stop-color="#ff5800"/><stop offset="0.7621" stop-color="#ff6000"/><stop offset="0.7665" stop-color="#ff6700"/><stop offset="0.7709" stop-color="#ff6f00"/><stop offset="0.7753" stop-color="#ff7800"/><stop offset="0.7797" stop-color="#ff8100"/><stop offset="0.7841" stop-color="#ff8b00"/><stop offset="0.7885" stop-color="#ff9500"/><stop offset="0.7930" stop-color="#ff9f00"/><stop offset="0.7974" stop-color="#ffa900"/><stop offset="0.8018" stop-color="#ffb500"/><stop offset="0.8062" stop-color="#ffc100"/><stop offset="0.8106" stop-color="#ffcd00"/><stop offset="0.8150" stop-color="#ffd900"/><stop offset="0.8194" stop-color="#ffe400"/><stop offset="0.8238" stop-color="#ffef00"/><stop offset="0.8282" stop-color="#fff800"/><stop offset="0.8326" stop-color="#fdff02"/><stop offset="0.8370" stop-color="#f6ff09"/><stop offset="0.8414" stop-color="#efff10"/><stop offset="0.8458" stop-color="#e9ff16"/><stop offset="0.8502" stop-color="#e3ff1c"/><stop offset="0.8546" stop-color="#ddff22"/><stop offset="0.8590" stop-color="#d7ff28"/><stop offset="0.8634" stop-color="#d0ff2f"/><stop offset="0.8678" stop-color="#c9ff36"/><stop offset="0.8722" stop-color="#c2ff3d"/><stop offset="0.8767" stop-color="#00b6ff"/><stop offset="0.8811" stop-color="#00b1ff"/><stop offset="0.8855" stop-color="#00acff"/><stop offset="0.8899" stop-color="#00a6ff"/><stop offset="0.8943" stop-color="#00a1ff"/><stop offset="0.8987" stop-color="#009bff"/><stop offset="0.9031" stop-color="#0093ff"/><stop offset="0.9075" stop-color="#0089ff"/><stop offset="0.9119" stop-color="#007eff"/><stop offset="0.9163" stop-color="#0073ff"/><stop offset="0.9207" stop-color="#0069ff"/><stop offset="0.9251" stop-color="#005eff"/><stop offset="0.9295" stop-color="#005aff"/><stop offset="0.9339" stop-color="#0057ff"/><stop offset="0.9383" stop-color="#0054ff"/><stop offset="0.9427" stop-color="#0052ff"/><stop offset="0.9471" stop-color="#004fff"/><stop offset="0.9515" stop-color="#004dff"/><stop offset="0.9559" stop-color="#0054ff"/><stop offset="0.9604" stop-color="#005dff"/><stop offset="0.9648" stop-color="#0065ff"/><stop offset="0.9692" stop-color="#006dff"/><stop offset="0.9736" stop-color="#0075ff"/><stop offset="0.9780" stop-color="#00ddff"/><stop offset="0.9824" stop-color="#00f8ff"/><stop offset="0.9868" stop-color="#00fbff"/><stop offset="0.9912" stop-color="#00feff"/><stop offset="0.9956" stop-color="#02fffd"/><stop offset="1.0000" stop-color="#05fffa"/></linearGradient>
</defs>
<rect x="18.0" y="516.2" width="42.70" height="341.20" fill="url(#g1)"/>
<g clip-path="url(#cp1)">
<clipPath id="cp1"><rect x="18.0" y="516.2" width="42.70" height="341.20"/></clipPath>
<linearGradient id="d1" x1="0" y1="0" x2="0" y2="1"><stop offset="0" stop-color="#05fffa"/><stop offset="1" stop-color="#008aff"/></linearGradient>
<path d="M28.55 815A10.8 10.8 0 0 1 50.15 815Z" fill="url(#d1)"/>
<radialGradient id="b1b" cx="0.5" cy="0.5" r="0.5"><stop offset="0" stop-color="#ffa800" stop-opacity="1"/><stop offset="0.5" stop-color="#ffe600" stop-opacity="0.9"/><stop offset="1" stop-color="#80ff80" stop-opacity="0"/></radialGradient>
<ellipse cx="39.35" cy="813.60" rx="8.5" ry="3.2" fill="url(#b1b)"/>
<radialGradient id="b1a" cx="0.5" cy="0.5" r="0.5"><stop offset="0" stop-color="#ff3d00" stop-opacity="1"/><stop offset="0.6" stop-color="#ff7300" stop-opacity="0.8"/><stop offset="1" stop-color="#ffe600" stop-opacity="0"/></radialGradient>
<ellipse cx="39.35" cy="841.00" rx="24" ry="7" fill="url(#b1a)"/>
</g>
<path d="M18.0 815.0H60.7M18.0 823.5H60.7M18.0 832.2H60.7M18.0 840.9H60.7M18.0 849.4H60.7M28.55 815A10.8 10.8 0 0 1 50.15 815" fill="none" stroke="#111" stroke-width="0.9"/>
<rect x="18.0" y="516.2" width="42.70" height="341.20" fill="none" stroke="#222" stroke-width="0.8"/>
<text x="39.35" y="885.5" text-anchor="middle" class="pl">1</text>
<rect x="79.8" y="530.2" width="8.50" height="330.80" fill="url(#cbg)" stroke="#444" stroke-width="0.6"/>
<text transform="translate(92.70 536.37) scale(1.12 1)" class="cb">300</text>
<text transform="translate(92.70 581.87) scale(1.12 1)" class="cb">200</text>
<text transform="translate(92.70 627.37) scale(1.12 1)" class="cb">100</text>
<text transform="translate(92.70 672.88) scale(1.12 1)" class="cb">0</text>
<text transform="translate(92.70 718.38) scale(1.12 1)" class="cb">-100</text>
<text transform="translate(92.70 763.88) scale(1.12 1)" class="cb">-200</text>
<text transform="translate(92.70 809.38) scale(1.12 1)" class="cb">-300</text>
<text transform="translate(92.70 854.88) scale(1.12 1)" class="cb">-400</text>
<path d="M79.8 532.02h1.7M88.3 532.02h-1.7M79.8 577.52h1.7M88.3 577.52h-1.7M79.8 623.02h1.7M88.3 623.02h-1.7M79.8 668.53h1.7M88.3 668.53h-1.7M79.8 714.03h1.7M88.3 714.03h-1.7M79.8 759.53h1.7M88.3 759.53h-1.7M79.8 805.03h1.7M88.3 805.03h-1.7M79.8 850.53h1.7M88.3 850.53h-1.7" stroke="#111" stroke-width="0.7" fill="none"/>
<rect x="136.4" y="516.2" width="42.90" height="341.20" fill="url(#g2)"/>
<g clip-path="url(#cp2)">
<clipPath id="cp2"><rect x="136.4" y="516.2" width="42.90" height="341.20"/></clipPath>
<linearGradient id="d2" x1="0" y1="0" x2="0" y2="1"><stop offset="0" stop-color="#0099ff"/><stop offset="1" stop-color="#00c7ff"/></linearGradient>
<path d="M147.05 815A10.8 10.8 0 0 1 168.65 815Z" fill="url(#d2)"/>
<radialGradient id="b2a" cx="0.5" cy="0.5" r="0.5"><stop offset="0" stop-color="#24ffdb" stop-opacity="1"/><stop offset="0.6" stop-color="#59ffa6" stop-opacity="0.8"/><stop offset="1" stop-color="#a6ff59" stop-opacity="0"/></radialGradient>
<ellipse cx="157.85" cy="846.00" rx="16" ry="4.5" fill="url(#b2a)"/>
<radialGradient id="b2b" cx="0.5" cy="0.5" r="0.5"><stop offset="0" stop-color="#ff6b00" stop-opacity="1"/><stop offset="1" stop-color="#ff4c00" stop-opacity="0"/></radialGradient>
<ellipse cx="157.85" cy="837.00" rx="14" ry="5" fill="url(#b2b)"/>
</g>
<path d="M136.4 815.0H179.3M136.4 823.5H179.3M136.4 832.2H179.3M136.4 840.9H179.3M136.4 849.4H179.3M147.05 815A10.8 10.8 0 0 1 168.65 815" fill="none" stroke="#111" stroke-width="0.9"/>
<rect x="136.4" y="516.2" width="42.90" height="341.20" fill="none" stroke="#222" stroke-width="0.8"/>
<text x="158.35" y="885.5" text-anchor="middle" class="pl">2</text>
<rect x="198.4" y="530.2" width="8.30" height="330.80" fill="url(#cbg)" stroke="#444" stroke-width="0.6"/>
<text transform="translate(211.10 557.22) scale(1.12 1)" class="cb">150</text>
<text transform="translate(211.10 608.75) scale(1.12 1)" class="cb">100</text>
<text transform="translate(211.10 660.27) scale(1.12 1)" class="cb">50</text>
<text transform="translate(211.10 711.80) scale(1.12 1)" class="cb">0</text>
<text transform="translate(211.10 763.33) scale(1.12 1)" class="cb">-50</text>
<text transform="translate(211.10 814.85) scale(1.12 1)" class="cb">-100</text>
<path d="M198.4 552.87h1.7M206.7 552.87h-1.7M198.4 604.40h1.7M206.7 604.40h-1.7M198.4 655.92h1.7M206.7 655.92h-1.7M198.4 707.45h1.7M206.7 707.45h-1.7M198.4 758.98h1.7M206.7 758.98h-1.7M198.4 810.50h1.7M206.7 810.50h-1.7" stroke="#111" stroke-width="0.7" fill="none"/>
<rect x="255.3" y="516.2" width="42.90" height="341.20" fill="url(#g3)"/>
<g clip-path="url(#cp3)">
<clipPath id="cp3"><rect x="255.3" y="516.2" width="42.90" height="341.20"/></clipPath>
<radialGradient id="b3a" cx="0.5" cy="0.5" r="0.5"><stop offset="0" stop-color="#0017ff" stop-opacity="1"/><stop offset="0.35" stop-color="#005cff" stop-opacity="1"/><stop offset="0.65" stop-color="#14ffeb" stop-opacity="0.9"/><stop offset="1" stop-color="#dbff24" stop-opacity="0"/></radialGradient>
<ellipse cx="276.75" cy="815.50" rx="11" ry="5.5" fill="url(#b3a)"/>
<radialGradient id="b3b" cx="0.5" cy="0.5" r="0.5"><stop offset="0" stop-color="#00e5ff" stop-opacity="1"/><stop offset="0.6" stop-color="#24ffdb" stop-opacity="0.8"/><stop offset="1" stop-color="#80ff80" stop-opacity="0"/></radialGradient>
<ellipse cx="276.75" cy="845.00" rx="17" ry="7" fill="url(#b3b)"/>
<radialGradient id="b3c" cx="0.5" cy="0.5" r="0.5"><stop offset="0" stop-color="#8fff70" stop-opacity="0.9"/><stop offset="1" stop-color="#ccff33" stop-opacity="0"/></radialGradient>
<ellipse cx="276.75" cy="806.00" rx="26" ry="10" fill="url(#b3c)"/>
</g>
<path d="M255.3 815.0H298.2M255.3 823.5H298.2M255.3 832.2H298.2M255.3 840.9H298.2M255.3 849.4H298.2M265.95 815A10.8 10.8 0 0 1 287.55 815" fill="none" stroke="#111" stroke-width="0.9"/>
<rect x="255.3" y="516.2" width="42.90" height="341.20" fill="none" stroke="#222" stroke-width="0.8"/>
<text x="278.75" y="885.5" text-anchor="middle" class="pl">3</text>
<rect x="317.3" y="530.2" width="8.30" height="330.80" fill="url(#cbg)" stroke="#444" stroke-width="0.6"/>
<text transform="translate(330.00 562.16) scale(1.12 1)" class="cb">200</text>
<text transform="translate(330.00 612.36) scale(1.12 1)" class="cb">100</text>
<text transform="translate(330.00 662.55) scale(1.12 1)" class="cb">0</text>
<text transform="translate(330.00 712.75) scale(1.12 1)" class="cb">-100</text>
<text transform="translate(330.00 762.95) scale(1.12 1)" class="cb">-200</text>
<text transform="translate(330.00 813.14) scale(1.12 1)" class="cb">-300</text>
<text transform="translate(330.00 863.34) scale(1.12 1)" class="cb">-400</text>
<path d="M317.3 557.81h1.7M325.6 557.81h-1.7M317.3 608.01h1.7M325.6 608.01h-1.7M317.3 658.20h1.7M325.6 658.20h-1.7M317.3 708.40h1.7M325.6 708.40h-1.7M317.3 758.60h1.7M325.6 758.60h-1.7M317.3 808.79h1.7M325.6 808.79h-1.7M317.3 858.99h1.7M325.6 858.99h-1.7" stroke="#111" stroke-width="0.7" fill="none"/>
<rect x="373.6" y="516.2" width="43.20" height="341.20" fill="url(#g4)"/>
<g clip-path="url(#cp4)">
<clipPath id="cp4"><rect x="373.6" y="516.2" width="43.20" height="341.20"/></clipPath>
<radialGradient id="b4a" cx="0.5" cy="0.5" r="0.5"><stop offset="0" stop-color="#ff0000" stop-opacity="1"/><stop offset="0.5" stop-color="#ff1f00" stop-opacity="0.9"/><stop offset="1" stop-color="#ff5c00" stop-opacity="0"/></radialGradient>
<ellipse cx="395.20" cy="819.00" rx="14" ry="6.5" fill="url(#b4a)"/>
</g>
<path d="M373.6 815.0H416.8M373.6 823.5H416.8M373.6 832.2H416.8M373.6 840.9H416.8M373.6 849.4H416.8M384.40 815A10.8 10.8 0 0 1 406.00 815" fill="none" stroke="#111" stroke-width="0.9"/>
<rect x="373.6" y="516.2" width="43.20" height="341.20" fill="none" stroke="#222" stroke-width="0.8"/>
<text x="395.20" y="885.5" text-anchor="middle" class="pl">4</text>
<rect x="435.8" y="530.2" width="8.60" height="330.80" fill="url(#cbg)" stroke="#444" stroke-width="0.6"/>
<text transform="translate(448.80 553.92) scale(1.12 1)" class="cb">120</text>
<text transform="translate(448.80 584.66) scale(1.12 1)" class="cb">100</text>
<text transform="translate(448.80 615.41) scale(1.12 1)" class="cb">80</text>
<text transform="translate(448.80 646.15) scale(1.12 1)" class="cb">60</text>
<text transform="translate(448.80 676.89) scale(1.12 1)" class="cb">40</text>
<text transform="translate(448.80 707.64) scale(1.12 1)" class="cb">20</text>
<text transform="translate(448.80 738.38) scale(1.12 1)" class="cb">0</text>
<text transform="translate(448.80 769.12) scale(1.12 1)" class="cb">-20</text>
<text transform="translate(448.80 799.87) scale(1.12 1)" class="cb">-40</text>
<text transform="translate(448.80 830.61) scale(1.12 1)" class="cb">-60</text>
<text transform="translate(448.80 861.35) scale(1.12 1)" class="cb">-80</text>
<path d="M435.8 549.57h1.7M444.4 549.57h-1.7M435.8 580.31h1.7M444.4 580.31h-1.7M435.8 611.06h1.7M444.4 611.06h-1.7M435.8 641.80h1.7M444.4 641.80h-1.7M435.8 672.54h1.7M444.4 672.54h-1.7M435.8 703.29h1.7M444.4 703.29h-1.7M435.8 734.03h1.7M444.4 734.03h-1.7M435.8 764.77h1.7M444.4 764.77h-1.7M435.8 795.52h1.7M444.4 795.52h-1.7M435.8 826.26h1.7M444.4 826.26h-1.7M435.8 857.00h1.7M444.4 857.00h-1.7" stroke="#111" stroke-width="0.7" fill="none"/>
<rect x="489.9" y="516.2" width="43.10" height="341.20" fill="url(#g5)"/>
<g clip-path="url(#cp5)">
<clipPath id="cp5"><rect x="489.9" y="516.2" width="43.10" height="341.20"/></clipPath>
<linearGradient id="d5" x1="0" y1="0" x2="0" y2="1"><stop offset="0" stop-color="#0099ff"/><stop offset="1" stop-color="#00b8ff"/></linearGradient>
<path d="M500.65 815A10.8 10.8 0 0 1 522.25 815Z" fill="url(#d5)"/>
<radialGradient id="b5a" cx="0.5" cy="0.5" r="0.5"><stop offset="0" stop-color="#ff0000" stop-opacity="1"/><stop offset="0.6" stop-color="#ff2600" stop-opacity="0.9"/><stop offset="1" stop-color="#ff9900" stop-opacity="0"/></radialGradient>
<ellipse cx="511.45" cy="845.20" rx="21" ry="3.2" fill="url(#b5a)"/>
</g>
<path d="M489.9 815.0H533.0M489.9 823.5H533.0M489.9 832.2H533.0M489.9 840.9H533.0M489.9 849.4H533.0M500.65 815A10.8 10.8 0 0 1 522.25 815" fill="none" stroke="#111" stroke-width="0.9"/>
<rect x="489.9" y="516.2" width="43.10" height="341.20" fill="none" stroke="#222" stroke-width="0.8"/>
<text x="512.75" y="885.5" text-anchor="middle" class="pl">5</text>
<rect x="552.3" y="530.2" width="8.30" height="330.80" fill="url(#cbg)" stroke="#444" stroke-width="0.6"/>
<text transform="translate(565.00 538.92) scale(1.12 1)" class="cb">150</text>
<text transform="translate(565.00 597.99) scale(1.12 1)" class="cb">100</text>
<text transform="translate(565.00 657.06) scale(1.12 1)" class="cb">50</text>
<text transform="translate(565.00 716.14) scale(1.12 1)" class="cb">0</text>
<text transform="translate(565.00 775.21) scale(1.12 1)" class="cb">-50</text>
<text transform="translate(565.00 834.28) scale(1.12 1)" class="cb">-100</text>
<path d="M552.3 534.57h1.7M560.6 534.57h-1.7M552.3 593.64h1.7M560.6 593.64h-1.7M552.3 652.71h1.7M560.6 652.71h-1.7M552.3 711.79h1.7M560.6 711.79h-1.7M552.3 770.86h1.7M560.6 770.86h-1.7M552.3 829.93h1.7M560.6 829.93h-1.7" stroke="#111" stroke-width="0.7" fill="none"/>
<rect x="606.2" y="516.2" width="43.40" height="341.20" fill="url(#g6)"/>
<g clip-path="url(#cp6)">
<clipPath id="cp6"><rect x="606.2" y="516.2" width="43.40" height="341.20"/></clipPath>
<linearGradient id="d6" x1="0" y1="0" x2="0" y2="1"><stop offset="0" stop-color="#00c7ff"/><stop offset="1" stop-color="#42ffbd"/></linearGradient>
<path d="M617.10 815A10.8 10.8 0 0 1 638.70 815Z" fill="url(#d6)"/>
</g>
<path d="M606.2 815.0H649.6M606.2 823.5H649.6M606.2 832.2H649.6M606.2 840.9H649.6M606.2 849.4H649.6M617.10 815A10.8 10.8 0 0 1 638.70 815" fill="none" stroke="#111" stroke-width="0.9"/>
<rect x="606.2" y="516.2" width="43.40" height="341.20" fill="none" stroke="#222" stroke-width="0.8"/>
<text x="627.40" y="885.5" text-anchor="middle" class="pl">6</text>
<rect x="668.2" y="530.2" width="8.80" height="330.80" fill="url(#cbg)" stroke="#444" stroke-width="0.6"/>
<text transform="translate(681.40 563.64) scale(1.12 1)" class="cb">80</text>
<text transform="translate(681.40 596.33) scale(1.12 1)" class="cb">60</text>
<text transform="translate(681.40 629.02) scale(1.12 1)" class="cb">40</text>
<text transform="translate(681.40 661.71) scale(1.12 1)" class="cb">20</text>
<text transform="translate(681.40 694.39) scale(1.12 1)" class="cb">0</text>
<text transform="translate(681.40 727.08) scale(1.12 1)" class="cb">-20</text>
<text transform="translate(681.40 759.77) scale(1.12 1)" class="cb">-40</text>
<text transform="translate(681.40 792.46) scale(1.12 1)" class="cb">-60</text>
<text transform="translate(681.40 825.14) scale(1.12 1)" class="cb">-80</text>
<text transform="translate(681.40 857.83) scale(1.12 1)" class="cb">-100</text>
<path d="M668.2 559.29h1.7M677.0 559.29h-1.7M668.2 591.98h1.7M677.0 591.98h-1.7M668.2 624.67h1.7M677.0 624.67h-1.7M668.2 657.36h1.7M677.0 657.36h-1.7M668.2 690.04h1.7M677.0 690.04h-1.7M668.2 722.73h1.7M677.0 722.73h-1.7M668.2 755.42h1.7M677.0 755.42h-1.7M668.2 788.11h1.7M677.0 788.11h-1.7M668.2 820.79h1.7M677.0 820.79h-1.7M668.2 853.48h1.7M677.0 853.48h-1.7" stroke="#111" stroke-width="0.7" fill="none"/>
<rect x="724.0" y="516.2" width="42.90" height="341.20" fill="url(#g7)"/>
<g clip-path="url(#cp7)">
<clipPath id="cp7"><rect x="724.0" y="516.2" width="42.90" height="341.20"/></clipPath>
<linearGradient id="d7" x1="0" y1="0" x2="0" y2="1"><stop offset="0" stop-color="#007aff"/><stop offset="1" stop-color="#00e5ff"/></linearGradient>
<path d="M734.65 815A10.8 10.8 0 0 1 756.25 815Z" fill="url(#d7)"/>
</g>
<path d="M724.0 815.0H766.9M724.0 823.5H766.9M724.0 832.2H766.9M724.0 840.9H766.9M724.0 849.4H766.9M734.65 815A10.8 10.8 0 0 1 756.25 815" fill="none" stroke="#111" stroke-width="0.9"/>
<rect x="724.0" y="516.2" width="42.90" height="341.20" fill="none" stroke="#222" stroke-width="0.8"/>
<text x="744.75" y="885.5" text-anchor="middle" class="pl">7</text>
<rect x="786.0" y="530.2" width="8.50" height="330.80" fill="url(#cbg)" stroke="#444" stroke-width="0.6"/>
<text transform="translate(798.90 558.66) scale(1.12 1)" class="cb">120</text>
<text transform="translate(798.90 588.80) scale(1.12 1)" class="cb">100</text>
<text transform="translate(798.90 618.95) scale(1.12 1)" class="cb">80</text>
<text transform="translate(798.90 649.09) scale(1.12 1)" class="cb">60</text>
<text transform="translate(798.90 679.23) scale(1.12 1)" class="cb">40</text>
<text transform="translate(798.90 709.37) scale(1.12 1)" class="cb">20</text>
<text transform="translate(798.90 739.51) scale(1.12 1)" class="cb">0</text>
<text transform="translate(798.90 769.65) scale(1.12 1)" class="cb">-20</text>
<text transform="translate(798.90 799.79) scale(1.12 1)" class="cb">-40</text>
<text transform="translate(798.90 829.93) scale(1.12 1)" class="cb">-60</text>
<text transform="translate(798.90 860.08) scale(1.12 1)" class="cb">-80</text>
<path d="M786.0 554.31h1.7M794.5 554.31h-1.7M786.0 584.45h1.7M794.5 584.45h-1.7M786.0 614.60h1.7M794.5 614.60h-1.7M786.0 644.74h1.7M794.5 644.74h-1.7M786.0 674.88h1.7M794.5 674.88h-1.7M786.0 705.02h1.7M794.5 705.02h-1.7M786.0 735.16h1.7M794.5 735.16h-1.7M786.0 765.30h1.7M794.5 765.30h-1.7M786.0 795.44h1.7M794.5 795.44h-1.7M786.0 825.58h1.7M794.5 825.58h-1.7M786.0 855.73h1.7M794.5 855.73h-1.7" stroke="#111" stroke-width="0.7" fill="none"/>
<rect x="836.1" y="516.2" width="42.80" height="341.20" fill="url(#g8)"/>
<g clip-path="url(#cp8)">
<clipPath id="cp8"><rect x="836.1" y="516.2" width="42.80" height="341.20"/></clipPath>
<linearGradient id="d8" x1="0" y1="0" x2="0" y2="1"><stop offset="0" stop-color="#33ffcc"/><stop offset="1" stop-color="#004dff"/></linearGradient>
<path d="M846.70 815A10.8 10.8 0 0 1 868.30 815Z" fill="url(#d8)"/>
<radialGradient id="b8a" cx="0.5" cy="0.5" r="0.5"><stop offset="0" stop-color="#001fff" stop-opacity="1"/><stop offset="0.6" stop-color="#004dff" stop-opacity="0.9"/><stop offset="1" stop-color="#0099ff" stop-opacity="0"/></radialGradient>
<ellipse cx="857.50" cy="816.00" rx="13" ry="6" fill="url(#b8a)"/>
<radialGradient id="b8b" cx="0.5" cy="0.5" r="0.5"><stop offset="0" stop-color="#dbff24" stop-opacity="0"/><stop offset="1" stop-color="#dbff24" stop-opacity="0"/></radialGradient>
<ellipse cx="857.50" cy="808.00" rx="30" ry="9" fill="url(#b8b)"/>
</g>
<path d="M836.1 815.0H878.9M836.1 823.5H878.9M836.1 832.2H878.9M836.1 840.9H878.9M836.1 849.4H878.9M846.70 815A10.8 10.8 0 0 1 868.30 815" fill="none" stroke="#111" stroke-width="0.9"/>
<rect x="836.1" y="516.2" width="42.80" height="341.20" fill="none" stroke="#222" stroke-width="0.8"/>
<text x="861.00" y="885.5" text-anchor="middle" class="pl">8</text>
<rect x="897.9" y="530.2" width="8.60" height="330.80" fill="url(#cbg)" stroke="#444" stroke-width="0.6"/>
<text transform="translate(910.90 557.54) scale(1.12 1)" class="cb">100</text>
<text transform="translate(910.90 609.33) scale(1.12 1)" class="cb">50</text>
<text transform="translate(910.90 661.11) scale(1.12 1)" class="cb">0</text>
<text transform="translate(910.90 712.90) scale(1.12 1)" class="cb">-50</text>
<text transform="translate(910.90 764.68) scale(1.12 1)" class="cb">-100</text>
<text transform="translate(910.90 816.47) scale(1.12 1)" class="cb">-150</text>
<path d="M897.9 553.19h1.7M906.5 553.19h-1.7M897.9 604.98h1.7M906.5 604.98h-1.7M897.9 656.76h1.7M906.5 656.76h-1.7M897.9 708.55h1.7M906.5 708.55h-1.7M897.9 760.33h1.7M906.5 760.33h-1.7M897.9 812.12h1.7M906.5 812.12h-1.7" stroke="#111" stroke-width="0.7" fill="none"/>
</svg></body></html>
